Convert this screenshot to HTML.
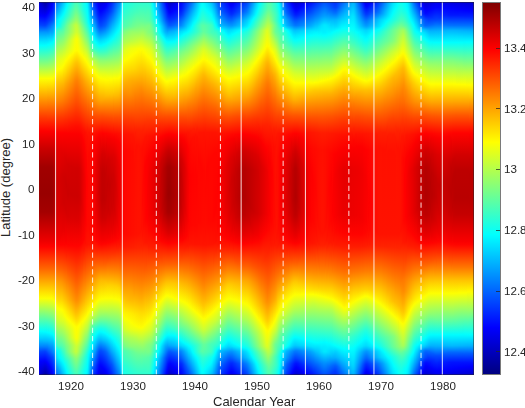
<!DOCTYPE html>
<html><head><meta charset="utf-8">
<style>
html,body{margin:0;padding:0;background:#fff;}
body{width:525px;height:408px;position:relative;overflow:hidden;font-family:"Liberation Sans",sans-serif;color:#262626;}
#plot{position:absolute;left:39.4px;top:2px;width:434.6px;height:372.8px;overflow:hidden;}
#plot i{position:absolute;top:0;height:372.8px;display:block;}
.bl{position:absolute;background:rgba(38,38,38,0.5);}
.tk{position:absolute;left:496px;width:4px;height:1px;background:rgba(38,38,38,0.75);}
.t{position:absolute;font-size:11.6px;line-height:12px;white-space:nowrap;will-change:transform;}
.yl{right:490.5px;text-align:right;}
.xl{width:60px;text-align:center;}
.cl{left:504px;}
#cb{position:absolute;left:482px;top:2px;width:18.5px;height:372.8px;box-sizing:border-box;border:1px solid #7a7a7a;
background:linear-gradient(#800000 0%,#ff0000 12.5%,#ff8000 25%,#ffff00 37.5%,#80ff80 50%,#00ffff 62.5%,#0080ff 75%,#0000ff 87.5%,#000080 100%);}
</style></head><body>
<div id="plot">
<i style="left:0px;width:1px;background:linear-gradient(#0000dc 0.0px,#0000e7 8.0px,#0002ff 13.5px,#0043ff 23.0px,#009eff 31.0px,#00eaff 40.0px,#02fffd 43.5px,#75ff8a 59.5px,#fcff03 76.5px,#ffdd00 83.5px,#ff3900 115.5px,#fe0000 129.0px,#cc0000 146.0px,#a10000 165.0px,#990000 191.3px,#a40000 209.8px,#ed0000 238.8px,#ff0300 244.8px,#ff6400 266.3px,#ffe200 290.3px,#fcff03 296.3px,#75ff8a 313.3px,#02fffd 329.3px,#00cfff 336.3px,#0084ff 344.3px,#0043ff 349.8px,#0002ff 359.3px,#0000e2 366.8px,#0000dc 372.8px)"></i>
<i style="left:1px;width:1px;background:linear-gradient(#0000d4 0.0px,#0000e5 8.0px,#0001ff 13.5px,#0042ff 23.0px,#009fff 31.0px,#00eaff 40.0px,#02fffd 43.5px,#75ff8a 59.5px,#fcff03 76.5px,#ffdd00 83.5px,#ff3900 115.5px,#fe0000 129.0px,#cc0000 146.0px,#a10000 165.0px,#990000 191.3px,#a40000 209.8px,#ed0000 238.8px,#ff0300 244.8px,#ff6400 266.3px,#ffe200 290.3px,#fcff03 296.3px,#75ff8a 313.3px,#02fffd 329.3px,#00cfff 336.3px,#008aff 343.8px,#0042ff 349.8px,#0001ff 359.3px,#0000dd 367.3px,#0000d4 372.8px)"></i>
<i style="left:2px;width:1px;background:linear-gradient(#0000c9 0.0px,#0000e5 8.5px,#0003ff 14.0px,#0045ff 23.5px,#009aff 30.5px,#00e6ff 39.5px,#02fffd 43.5px,#75ff8a 59.5px,#fcff03 76.5px,#ffdd00 83.5px,#ff3900 115.5px,#fe0000 129.0px,#cc0000 146.0px,#a10000 165.0px,#990000 191.3px,#a40000 209.8px,#ed0000 238.8px,#ff0300 244.8px,#ff6400 266.3px,#ffe200 290.3px,#fcff03 296.3px,#75ff8a 313.3px,#02fffd 329.3px,#00cfff 336.3px,#008aff 343.8px,#0041ff 349.8px,#0000ff 359.3px,#0000d5 368.3px,#0000c9 372.8px)"></i>
<i style="left:3px;width:1px;background:linear-gradient(#0000be 0.0px,#0000e9 10.0px,#0002ff 14.0px,#0044ff 23.5px,#009aff 30.5px,#00e6ff 39.5px,#02fffd 43.5px,#75ff8a 59.5px,#fcff03 76.5px,#ffdd00 83.5px,#ff3900 115.5px,#fe0000 129.0px,#cc0000 146.0px,#a10000 165.0px,#990000 191.3px,#a40000 209.8px,#ed0000 238.8px,#ff0300 244.8px,#ff6400 266.3px,#ffe200 290.3px,#fcff03 296.3px,#75ff8a 313.3px,#02fffd 329.3px,#00cfff 336.3px,#008aff 343.8px,#0044ff 349.3px,#0002ff 358.8px,#0000c2 371.3px,#0000be 372.8px)"></i>
<i style="left:4px;width:1px;background:linear-gradient(#0000b2 0.0px,#0001ff 14.0px,#0043ff 23.5px,#0095ff 30.0px,#00dfff 38.5px,#02fffd 43.5px,#75ff8a 59.5px,#fcff03 76.5px,#ffdd00 83.5px,#ff3900 115.5px,#fe0000 129.0px,#cc0000 146.0px,#a10000 165.0px,#990000 191.3px,#a40000 209.8px,#ed0000 238.8px,#ff0300 244.8px,#ff6400 266.3px,#ffe200 290.3px,#fcff03 296.3px,#71ff8e 313.8px,#00feff 329.8px,#00b6ff 339.3px,#007eff 344.8px,#0043ff 349.3px,#0001ff 358.8px,#0000b2 372.8px)"></i>
<i style="left:5px;width:1px;background:linear-gradient(#0000a9 0.0px,#0000ff 14.0px,#0042ff 23.5px,#0095ff 30.0px,#00dfff 38.5px,#02fffd 43.5px,#75ff8a 59.5px,#fcff03 76.5px,#ffdb00 84.0px,#ff3900 115.5px,#fe0000 129.0px,#cc0000 146.0px,#a10000 165.0px,#990000 191.3px,#a40000 209.8px,#ed0000 238.8px,#ff0300 244.8px,#ff6400 266.3px,#ffe200 290.3px,#fcff03 296.3px,#71ff8e 313.8px,#00feff 329.8px,#00b6ff 339.3px,#007eff 344.8px,#0042ff 349.3px,#0000ff 358.8px,#0000a9 372.8px)"></i>
<i style="left:6px;width:1px;background:linear-gradient(#0000a5 0.0px,#0002ff 14.0px,#0044ff 23.5px,#0095ff 30.0px,#00dfff 38.5px,#03fffc 43.5px,#79ff86 60.0px,#fcff03 76.5px,#ffd300 85.5px,#ff3900 115.5px,#fe0000 129.0px,#cc0000 146.0px,#a10000 165.0px,#990000 191.3px,#a40000 209.8px,#ed0000 238.8px,#ff0300 244.8px,#ff6400 266.3px,#ffe200 290.3px,#fcff03 296.3px,#36ffc9 321.8px,#00feff 329.8px,#00b7ff 339.3px,#007fff 344.8px,#0044ff 349.3px,#0002ff 358.8px,#0000a5 372.8px)"></i>
<i style="left:7px;width:1px;background:linear-gradient(#0000ab 0.0px,#0000ff 13.0px,#0045ff 23.0px,#00a0ff 31.0px,#00ebff 40.0px,#04fffb 43.5px,#7aff85 60.0px,#fcff03 76.5px,#ffc900 87.5px,#ff3900 115.5px,#fe0000 129.0px,#cc0000 146.0px,#a10000 165.0px,#990000 191.3px,#a40000 209.8px,#ed0000 238.8px,#ff0300 244.8px,#ff6400 266.3px,#ffdf00 289.8px,#fcff03 296.3px,#37ffc8 321.8px,#00fcff 330.3px,#00b7ff 339.3px,#007aff 345.3px,#0045ff 349.8px,#0000ff 359.8px,#0000ab 372.8px)"></i>
<i style="left:8px;width:1px;background:linear-gradient(#0000b7 0.0px,#0001ff 12.0px,#0040ff 21.5px,#0072ff 26.5px,#00c1ff 34.5px,#00feff 42.5px,#6fff90 58.5px,#fcff03 76.5px,#ff7700 103.0px,#ff2500 120.0px,#fc0000 129.5px,#c90000 147.0px,#a10000 165.0px,#990000 191.3px,#a40000 209.8px,#ed0000 238.8px,#ff0300 244.8px,#ff6400 266.3px,#ffda00 288.8px,#fcff03 296.3px,#35ffca 322.3px,#00feff 330.3px,#00b8ff 339.3px,#006dff 346.8px,#003cff 351.8px,#0001ff 360.8px,#0000b7 372.8px)"></i>
<i style="left:9px;width:1px;background:linear-gradient(#0000c5 0.0px,#0000ff 10.5px,#003dff 20.0px,#00dcff 37.5px,#01fffe 42.5px,#81ff7e 60.5px,#fdff02 76.5px,#ff7700 103.0px,#ff2500 120.0px,#fc0000 129.5px,#c90000 147.0px,#a10000 165.0px,#990000 191.3px,#a40000 209.8px,#ed0000 238.8px,#ff0300 244.8px,#ff6400 266.3px,#ffd200 287.3px,#fdff02 296.3px,#30ffcf 323.3px,#00fcff 330.8px,#00baff 339.3px,#0039ff 353.3px,#0000ff 362.3px,#0000c5 372.8px)"></i>
<i style="left:10px;width:1px;background:linear-gradient(#0000d3 0.0px,#0000fc 8.5px,#0039ff 18.5px,#00eeff 39.5px,#03fffc 42.5px,#87ff78 61.0px,#fdff02 76.5px,#ff7700 103.0px,#ff2500 120.0px,#fc0000 129.5px,#c90000 147.0px,#a10000 165.0px,#990000 191.3px,#a40000 209.8px,#ed0000 238.8px,#ff0300 244.8px,#ff6400 266.3px,#ffca00 285.8px,#fdff02 296.3px,#28ffd7 324.8px,#00ffff 330.8px,#00bcff 339.3px,#0031ff 355.3px,#0000fc 364.3px,#0000d3 372.8px)"></i>
<i style="left:11px;width:1px;background:linear-gradient(#0000e1 0.0px,#0003ff 8.0px,#0044ff 19.0px,#0080ff 26.0px,#00c3ff 34.0px,#00feff 41.5px,#7aff85 59.0px,#feff01 76.5px,#ff7500 103.5px,#ff2000 121.0px,#fc0000 129.5px,#c90000 147.0px,#a10000 165.0px,#990000 191.3px,#a40000 209.8px,#ed0000 238.8px,#ff0300 244.8px,#ff6400 266.3px,#ffc200 284.3px,#feff01 296.3px,#20ffdf 326.3px,#00feff 331.3px,#00beff 339.3px,#007dff 347.3px,#0032ff 356.3px,#0000fc 365.8px,#0000e1 372.8px)"></i>
<i style="left:12px;width:1px;background:linear-gradient(#0000f0 0.0px,#0002ff 6.0px,#0048ff 18.5px,#007eff 24.5px,#00a9ff 31.0px,#00f6ff 40.0px,#05fffa 42.0px,#9eff61 63.5px,#ffff00 76.5px,#ff7500 103.5px,#ff2000 121.0px,#fc0000 129.5px,#c90000 147.0px,#a10000 165.0px,#9a0000 191.3px,#a40000 209.8px,#ed0000 238.8px,#ff0300 244.8px,#ff6400 266.3px,#ffbd00 283.3px,#ffff00 296.3px,#18ffe7 327.8px,#00fdff 331.8px,#00c0ff 339.3px,#0090ff 345.3px,#006eff 350.3px,#003dff 355.8px,#0000ff 367.3px,#0000f0 372.8px)"></i>
<i style="left:13px;width:1px;background:linear-gradient(#0000fe 0.0px,#000dff 6.0px,#0051ff 18.5px,#0084ff 24.0px,#00a9ff 30.5px,#00faff 40.0px,#08fff7 42.0px,#c2ff3d 68.0px,#fffe00 76.5px,#ff7500 103.5px,#ff2000 121.0px,#fc0000 129.5px,#ca0000 147.0px,#a30000 165.0px,#9c0000 191.3px,#a60000 209.8px,#ed0000 238.8px,#ff0300 244.8px,#ff6400 266.3px,#ffb800 282.3px,#fdff02 296.8px,#12ffed 329.3px,#00fdff 332.3px,#00bfff 339.8px,#0098ff 344.8px,#007dff 349.8px,#0049ff 355.3px,#000aff 367.8px,#0000fe 372.8px)"></i>
<i style="left:14px;width:1px;background:linear-gradient(#0010ff 0.0px,#001fff 6.5px,#0060ff 18.5px,#0091ff 24.0px,#00b5ff 30.5px,#01fffe 39.5px,#fffe00 76.0px,#ffb200 91.5px,#ff3500 116.5px,#fd0000 129.5px,#ce0000 146.5px,#a90000 165.5px,#a20000 192.3px,#ac0000 210.3px,#ed0000 238.3px,#ff0200 244.3px,#ff6400 266.3px,#ffb400 281.8px,#fdff02 297.3px,#01fffe 333.3px,#00c5ff 340.3px,#00a2ff 345.3px,#0086ff 350.3px,#0059ff 355.3px,#001aff 367.8px,#0010ff 372.8px)"></i>
<i style="left:15px;width:1px;background:linear-gradient(#0029ff 0.0px,#003fff 7.0px,#0088ff 19.5px,#00b4ff 25.5px,#00e8ff 33.0px,#02fffd 36.0px,#ffff00 74.5px,#ffc600 86.0px,#ff8100 101.0px,#ff3500 116.5px,#fd0000 130.0px,#d40000 146.5px,#b40000 166.5px,#af0000 194.3px,#bb0000 212.3px,#ef0000 238.3px,#ff0300 244.3px,#ff6600 266.8px,#ffad00 280.8px,#fff600 296.8px,#fcff03 298.8px,#00fcff 337.3px,#00c0ff 345.3px,#0095ff 351.8px,#006cff 357.8px,#0036ff 367.8px,#0029ff 372.8px)"></i>
<i style="left:16px;width:1px;background:linear-gradient(#004aff 0.0px,#006aff 7.5px,#00dcff 25.5px,#00feff 29.5px,#72ff8d 47.0px,#caff35 62.5px,#fffc00 72.5px,#ffce00 82.0px,#ff8700 99.5px,#ff3c00 115.0px,#ff0000 130.0px,#dd0000 145.5px,#c30000 168.0px,#c00000 195.8px,#cd0000 215.8px,#f10000 237.8px,#ff0300 243.8px,#ff6500 266.8px,#ffa600 280.3px,#ffeb00 297.3px,#fcff03 301.3px,#7eff81 323.8px,#11ffee 340.8px,#00feff 343.3px,#00caff 349.8px,#0079ff 362.8px,#0050ff 370.8px,#004aff 372.8px)"></i>
<i style="left:17px;width:1px;background:linear-gradient(#0068ff 0.0px,#0091ff 8.0px,#00d8ff 18.0px,#00f0ff 24.0px,#00ffff 25.5px,#2bffd4 29.5px,#c1ff3e 55.0px,#fffe00 69.5px,#ffcc00 80.0px,#ff8900 98.5px,#ff3b00 115.0px,#ff0000 130.5px,#e20000 146.5px,#ce0000 173.0px,#ce0000 198.8px,#e10000 225.3px,#fd0000 241.8px,#ff2b00 253.8px,#ff7500 270.3px,#ffa500 281.3px,#ffe300 298.3px,#feff01 303.8px,#b3ff4c 320.3px,#2bffd4 343.3px,#00ffff 347.3px,#00eaff 349.8px,#00cfff 356.3px,#0088ff 366.3px,#0068ff 372.8px)"></i>
<i style="left:18px;width:1px;background:linear-gradient(#0079ff 0.0px,#00adff 9.0px,#00edff 17.5px,#02fffd 24.0px,#28ffd7 27.0px,#46ffb9 30.0px,#d7ff28 56.5px,#fffc00 68.0px,#ffc700 80.0px,#ff8700 98.5px,#ff3b00 115.0px,#fe0000 131.0px,#e40000 147.5px,#d30000 180.5px,#db0000 212.8px,#f10000 235.3px,#ff0400 243.3px,#ff6400 267.3px,#ff9d00 279.8px,#ffdd00 298.3px,#feff01 305.8px,#c9ff36 319.3px,#42ffbd 343.3px,#20ffdf 346.3px,#02fffd 348.8px,#00eaff 355.8px,#009dff 366.3px,#0079ff 372.8px)"></i>
<i style="left:19px;width:1px;background:linear-gradient(#0084ff 0.0px,#00bcff 9.5px,#00f7ff 17.5px,#03fffc 22.5px,#0efff1 24.5px,#47ffb8 29.0px,#71ff8e 36.5px,#ddff22 56.5px,#fffd00 67.0px,#ffc300 80.5px,#ff8500 98.5px,#ff3800 115.5px,#ff0000 131.0px,#e60000 147.5px,#d40000 181.0px,#dd0000 213.8px,#f40000 236.3px,#ff0200 242.8px,#ff6300 267.3px,#ff9a00 279.8px,#ffda00 298.3px,#fdff02 306.8px,#d1ff2e 318.8px,#4bffb4 343.3px,#30ffcf 345.8px,#0efff1 348.3px,#01fffe 351.3px,#00f4ff 355.8px,#00a5ff 366.8px,#0084ff 372.8px)"></i>
<i style="left:20px;width:1px;background:linear-gradient(#008eff 0.0px,#00c8ff 10.0px,#00feff 17.5px,#11ffee 24.0px,#4bffb4 29.0px,#dfff20 56.5px,#fffc00 67.0px,#ffc000 81.0px,#ff8100 99.0px,#ff3800 115.5px,#ff0000 131.0px,#e50000 148.0px,#d40000 179.0px,#d90000 208.8px,#f20000 235.3px,#ff0200 242.8px,#ff6100 267.3px,#ff9900 279.8px,#ffd900 298.3px,#ffff00 306.8px,#d4ff2b 318.8px,#4bffb4 343.8px,#11ffee 348.8px,#00feff 355.3px,#009fff 369.3px,#008eff 372.8px)"></i>
<i style="left:21px;width:1px;background:linear-gradient(#009aff 0.0px,#00dcff 11.5px,#01fffe 16.5px,#1bffe4 24.0px,#52ffad 29.5px,#e3ff1c 57.0px,#fffd00 66.5px,#ffbd00 81.5px,#ff7d00 99.5px,#ff3500 116.0px,#ff0000 131.0px,#e50000 148.5px,#d30000 177.0px,#d60000 204.8px,#f00000 233.8px,#ff0200 242.8px,#ff6000 267.3px,#ff9900 280.3px,#ffd800 298.3px,#feff01 307.3px,#d8ff27 318.3px,#4effb1 343.8px,#1bffe4 348.8px,#00fcff 356.8px,#00b4ff 367.8px,#009aff 372.8px)"></i>
<i style="left:22px;width:1px;background:linear-gradient(#00a7ff 0.0px,#00f0ff 13.0px,#02fffd 15.5px,#1affe5 20.5px,#2bffd4 24.5px,#58ffa7 30.0px,#e5ff1a 57.0px,#fffd00 66.0px,#ffb900 82.0px,#ff7b00 99.5px,#ff3400 116.0px,#ff0000 131.0px,#e40000 149.0px,#d20000 175.5px,#d40000 202.3px,#ed0000 231.3px,#ff0200 242.8px,#ff5f00 267.3px,#ff9700 280.3px,#ffd700 298.3px,#feff01 307.8px,#daff25 318.3px,#4effb1 344.3px,#25ffda 349.3px,#05fffa 356.8px,#00f7ff 358.8px,#00a9ff 372.3px,#00a7ff 372.8px)"></i>
<i style="left:23px;width:1px;background:linear-gradient(#00b5ff 0.0px,#01fffe 14.0px,#25ffda 20.5px,#3fffc0 25.5px,#68ff97 32.0px,#eaff15 57.5px,#fffd00 65.0px,#ffb300 83.0px,#ff7700 100.0px,#ff3000 117.0px,#ff0000 131.0px,#e30000 150.0px,#d10000 174.5px,#d20000 200.8px,#e80000 227.3px,#ff0200 242.8px,#ff5d00 267.3px,#ff9400 280.3px,#ffd400 298.3px,#fffe00 308.3px,#deff21 318.3px,#4effb1 345.3px,#2dffd2 350.3px,#0bfff4 357.3px,#00fdff 359.3px,#00b5ff 372.8px)"></i>
<i style="left:24px;width:1px;background:linear-gradient(#00c3ff 0.0px,#01fffe 12.5px,#3affc5 22.5px,#e7ff18 55.5px,#fffd00 63.5px,#ffd600 73.0px,#ffa600 86.0px,#ff7200 100.5px,#ff2d00 117.5px,#fe0000 131.0px,#e10000 152.0px,#d00000 174.5px,#d10000 201.3px,#e70000 226.3px,#ff0200 242.8px,#ff5b00 267.3px,#ff9200 280.8px,#ffcf00 298.3px,#fffb00 308.8px,#f0ff0f 314.8px,#76ff89 339.3px,#0afff5 358.8px,#00fbff 361.3px,#00c3ff 372.8px)"></i>
<i style="left:25px;width:1px;background:linear-gradient(#00d1ff 0.0px,#01fffe 10.5px,#5bffa4 26.5px,#f5ff0a 58.0px,#fffc00 62.0px,#ffd900 71.5px,#ffad00 82.5px,#ff7100 100.0px,#ff2c00 117.5px,#fe0000 131.0px,#de0000 154.0px,#cf0000 175.5px,#d10000 202.3px,#ea0000 228.8px,#ff0300 243.3px,#ff5b00 267.8px,#ff9000 281.3px,#ffca00 298.3px,#fff600 308.8px,#fcff03 312.8px,#d7ff28 321.3px,#30ffcf 354.3px,#00feff 362.8px,#00d1ff 372.8px)"></i>
<i style="left:26px;width:1px;background:linear-gradient(#00dfff 0.0px,#02fffd 8.0px,#27ffd8 15.5px,#5fffa0 24.5px,#86ff79 33.5px,#feff01 59.0px,#ffda00 70.0px,#ffad00 81.0px,#ff6e00 100.0px,#ff2a00 117.5px,#fe0000 131.0px,#db0000 156.5px,#cd0000 179.0px,#d30000 207.3px,#fb0000 240.3px,#ff0900 245.3px,#ff5d00 268.8px,#ff8e00 281.8px,#ffc500 298.3px,#fff100 308.8px,#fcff03 314.3px,#81ff7e 340.3px,#4fffb0 351.3px,#0efff1 361.8px,#00fcff 365.8px,#00dfff 372.8px)"></i>
<i style="left:27px;width:1px;background:linear-gradient(#00edff 0.0px,#03fffc 5.5px,#2bffd4 14.5px,#6aff95 24.0px,#84ff7b 31.5px,#b3ff4c 41.0px,#e4ff1b 52.0px,#fffe00 58.0px,#ffd200 70.5px,#ffa800 81.0px,#ff6b00 100.0px,#ff2800 118.0px,#fe0000 131.0px,#d90000 158.0px,#cc0000 182.5px,#d50000 210.8px,#fd0000 241.3px,#ff2400 253.8px,#ff6700 271.8px,#ff9c00 287.8px,#ffc400 299.3px,#ffed00 309.3px,#fcff03 315.8px,#b9ff46 330.3px,#8fff70 339.3px,#72ff8d 345.8px,#5fffa0 350.8px,#1fffe0 360.3px,#00fcff 368.8px,#00edff 372.8px)"></i>
<i style="left:28px;width:1px;background:linear-gradient(#00f8ff 0.0px,#04fffb 3.0px,#31ffce 14.0px,#67ff98 21.5px,#78ff87 25.0px,#89ff76 31.0px,#b8ff47 40.0px,#e1ff1e 50.5px,#fffd00 57.0px,#ffca00 71.0px,#ffa300 81.0px,#ff6800 100.0px,#ff2500 118.5px,#fd0000 131.5px,#d50000 162.5px,#cc0000 190.8px,#d90000 214.8px,#ff0300 243.3px,#ff5500 268.3px,#ff8800 282.3px,#ffba00 298.3px,#ffe700 309.3px,#fdff02 316.8px,#c5ff3a 328.8px,#a3ff5c 337.3px,#7fff80 344.3px,#71ff8e 349.8px,#31ffce 358.8px,#00fdff 371.3px,#00f8ff 372.8px)"></i>
<i style="left:29px;width:1px;background:linear-gradient(#04fffb 0.0px,#3bffc4 14.0px,#65ff9a 20.0px,#7fff80 23.5px,#8fff70 30.5px,#bdff42 39.0px,#e4ff1b 50.0px,#fffe00 55.5px,#ffc300 71.5px,#ff9d00 81.5px,#ff6300 100.5px,#ff2000 119.5px,#fd0000 131.5px,#d40000 163.0px,#cc0000 191.3px,#d90000 214.8px,#ff0300 243.3px,#ff5300 268.3px,#ff8400 282.3px,#ffb500 298.3px,#ffe400 309.8px,#feff01 317.8px,#cfff30 327.8px,#afff50 336.8px,#89ff76 343.8px,#7cff83 349.8px,#3effc1 358.3px,#07fff8 371.8px,#04fffb 372.8px)"></i>
<i style="left:30px;width:1px;background:linear-gradient(#0dfff2 0.0px,#45ffba 14.0px,#6bff94 19.5px,#89ff76 23.5px,#98ff67 30.5px,#c5ff3a 39.0px,#e7ff18 49.5px,#fffe00 54.5px,#ffbb00 72.0px,#ff9800 81.5px,#ff6000 100.5px,#ff1c00 120.5px,#fd0000 131.5px,#d40000 163.5px,#cd0000 191.8px,#da0000 215.3px,#ff0300 243.3px,#ff5000 268.3px,#ff8100 282.8px,#ffaf00 298.3px,#ffde00 309.8px,#feff01 318.8px,#d7ff28 327.3px,#bbff44 336.3px,#92ff6d 343.8px,#87ff78 349.8px,#4effb1 357.3px,#28ffd7 365.8px,#0dfff2 372.8px)"></i>
<i style="left:31px;width:1px;background:linear-gradient(#16ffe9 0.0px,#52ffad 14.5px,#74ff8b 19.5px,#91ff6e 23.0px,#a1ff5e 30.5px,#ccff33 38.5px,#e9ff16 49.0px,#fffe00 53.5px,#ffda00 62.5px,#ff9600 80.5px,#ff5d00 100.5px,#ff1a00 121.0px,#fd0000 131.5px,#d40000 164.0px,#cd0000 192.3px,#da0000 215.3px,#ff0200 243.3px,#ff5000 268.8px,#ff7f00 283.3px,#ffaa00 298.3px,#ffda00 310.3px,#feff01 319.8px,#ddff22 327.3px,#c4ff3b 336.3px,#9dff62 343.3px,#91ff6e 349.8px,#5affa5 356.8px,#2dffd2 366.8px,#16ffe9 372.8px)"></i>
<i style="left:32px;width:1px;background:linear-gradient(#1fffe0 0.0px,#5cffa3 14.5px,#7eff81 19.5px,#9bff64 23.0px,#a9ff56 30.5px,#d4ff2b 38.0px,#eeff11 49.0px,#fffb00 53.0px,#ffd800 61.5px,#ffab00 73.0px,#ff8c00 82.5px,#ff5800 101.0px,#ff1300 123.0px,#fd0000 131.5px,#d30000 164.5px,#cd0000 192.8px,#db0000 215.8px,#ff0200 243.3px,#ff4d00 268.8px,#ff7c00 283.8px,#ffa500 298.3px,#ffd500 310.3px,#fff900 319.3px,#f8ff07 321.8px,#e1ff1e 328.3px,#d0ff2f 335.8px,#a5ff5a 343.3px,#9bff64 349.8px,#64ff9b 356.8px,#28ffd7 370.3px,#1fffe0 372.8px)"></i>
<i style="left:33px;width:1px;background:linear-gradient(#28ffd7 0.0px,#65ff9a 14.5px,#87ff78 19.5px,#a5ff5a 23.0px,#b2ff4d 30.5px,#ddff22 38.0px,#f3ff0c 49.0px,#fffc00 52.0px,#ffd600 60.5px,#ffa800 72.5px,#ff8a00 81.5px,#ff5700 100.5px,#ff1400 122.5px,#fd0000 131.5px,#d30000 165.0px,#cd0000 193.3px,#db0000 215.8px,#ff0200 243.3px,#ff4b00 268.8px,#ff7900 284.3px,#ff9f00 298.3px,#ffd100 310.8px,#fff400 319.3px,#fdff02 321.8px,#e8ff17 327.8px,#d9ff26 335.8px,#aeff51 343.3px,#a5ff5a 349.8px,#70ff8f 356.3px,#2dffd2 371.3px,#28ffd7 372.8px)"></i>
<i style="left:34px;width:1px;background:linear-gradient(#31ffce 0.0px,#6aff95 13.5px,#8cff73 19.0px,#afff50 23.0px,#b9ff46 30.0px,#e4ff1b 37.5px,#f8ff07 49.0px,#fffc00 51.0px,#ffd400 59.5px,#ffa300 72.5px,#ff8500 81.5px,#ff5400 100.5px,#ff1200 123.0px,#fd0000 131.5px,#d30000 165.0px,#cd0000 193.3px,#db0000 215.8px,#ff0300 243.8px,#ff4a00 269.3px,#ff7900 285.8px,#ff9a00 298.3px,#ffcd00 311.3px,#ffef00 319.3px,#fdff02 322.8px,#eeff11 328.8px,#e2ff1d 335.8px,#b7ff48 343.3px,#afff50 349.8px,#7aff85 356.3px,#34ffcb 371.8px,#31ffce 372.8px)"></i>
<i style="left:35px;width:1px;background:linear-gradient(#3affc5 0.0px,#6aff95 11.5px,#90ff6f 18.5px,#b8ff47 23.0px,#bdff42 27.5px,#c7ff38 31.0px,#edff12 37.5px,#fdff02 49.0px,#ffcb00 60.5px,#ff8600 79.0px,#ff5100 100.5px,#ff1000 123.5px,#fd0000 131.5px,#d30000 165.5px,#cd0000 193.8px,#db0000 216.3px,#ff0300 243.8px,#ff4900 269.8px,#ff7700 286.8px,#ff9500 298.3px,#ffcb00 312.3px,#fff000 320.3px,#fdff02 323.8px,#f2ff0d 331.8px,#e7ff18 336.8px,#c0ff3f 343.3px,#b8ff47 349.8px,#83ff7c 356.3px,#3cffc3 371.8px,#3affc5 372.8px)"></i>
<i style="left:36px;width:1px;background:linear-gradient(#40ffbf 0.0px,#6aff95 10.0px,#97ff68 18.5px,#bfff40 23.0px,#caff35 30.0px,#f3ff0c 37.0px,#fffd00 49.0px,#ffc900 60.0px,#ff8200 79.0px,#ff4e00 100.5px,#ff0e00 124.0px,#fc0000 132.0px,#d20000 166.5px,#cd0000 194.3px,#db0000 216.3px,#ff0300 243.8px,#ff4600 269.8px,#ff7400 287.3px,#ff9000 298.3px,#ffca00 313.3px,#feff01 324.8px,#f3ff0c 335.8px,#c6ff39 343.8px,#bfff40 349.8px,#89ff76 356.3px,#44ffbb 371.3px,#40ffbf 372.8px)"></i>
<i style="left:37px;width:1px;background:linear-gradient(#42ffbd 0.0px,#66ff99 9.0px,#98ff67 18.5px,#bfff40 23.0px,#ceff31 30.0px,#f7ff08 37.0px,#fffc00 48.5px,#ffc500 60.5px,#ff8000 79.0px,#ff4d00 100.5px,#ff0d00 124.5px,#fc0000 132.0px,#d20000 166.5px,#cd0000 194.3px,#db0000 216.3px,#ff0300 243.8px,#ff4500 269.8px,#ff7400 287.8px,#ff8e00 298.3px,#ffde00 318.3px,#fffd00 324.8px,#f7ff08 335.8px,#c9ff36 344.3px,#bfff40 349.8px,#8bff74 356.3px,#48ffb7 370.8px,#42ffbd 372.8px)"></i>
<i style="left:38px;width:1px;background:linear-gradient(#3fffc0 0.0px,#5fffa0 8.5px,#93ff6c 18.5px,#baff45 23.5px,#ceff31 30.5px,#f4ff0b 37.0px,#fffd00 48.5px,#ffc600 60.5px,#ff8200 78.5px,#ff4e00 100.5px,#ff0d00 124.5px,#fc0000 132.0px,#d20000 166.5px,#cd0000 194.8px,#dc0000 216.8px,#ff0300 243.8px,#ff4600 269.8px,#ff7400 287.8px,#ff8f00 298.3px,#ffe200 318.8px,#ffff00 324.8px,#f2ff0d 336.3px,#c5ff3a 344.3px,#b7ff48 349.8px,#86ff79 356.3px,#46ffb9 370.3px,#3fffc0 372.8px)"></i>
<i style="left:39px;width:1px;background:linear-gradient(#39ffc6 0.0px,#56ffa9 8.5px,#8cff73 19.0px,#b0ff4f 24.0px,#c5ff3a 30.5px,#ebff14 37.0px,#fffd00 49.5px,#ffcc00 60.0px,#ff8500 79.0px,#ff5100 100.0px,#ff1000 123.5px,#fc0000 132.0px,#d30000 166.5px,#ce0000 194.8px,#dc0000 216.8px,#ff0300 243.8px,#ff4800 269.8px,#ff7800 287.8px,#ff9400 298.8px,#ffe600 318.8px,#ffff00 323.8px,#f1ff0e 332.8px,#e4ff1b 337.3px,#baff45 344.8px,#abff54 349.8px,#7cff83 356.3px,#40ffbf 369.8px,#39ffc6 372.8px)"></i>
<i style="left:40px;width:1px;background:linear-gradient(#31ffce 0.0px,#49ffb6 8.0px,#7eff81 19.0px,#a2ff5d 24.0px,#baff45 30.5px,#e1ff1e 37.5px,#f9ff06 49.0px,#fff900 51.5px,#ffcd00 61.0px,#ff8a00 79.0px,#ff5500 100.0px,#ff1200 123.0px,#fd0000 132.0px,#d50000 166.5px,#d00000 195.3px,#df0000 217.3px,#ff0300 243.3px,#ff4900 269.3px,#ff7b00 287.3px,#ff9a00 298.8px,#ffee00 319.3px,#feff01 322.8px,#ecff13 329.3px,#ddff22 336.3px,#acff53 345.3px,#99ff66 350.3px,#70ff8f 356.3px,#37ffc8 369.8px,#31ffce 372.8px)"></i>
<i style="left:41px;width:1px;background:linear-gradient(#29ffd6 0.0px,#3fffc0 8.0px,#71ff8e 19.0px,#96ff69 24.5px,#b0ff4f 31.0px,#d6ff29 38.0px,#f6ff09 49.5px,#fffc00 52.0px,#ffd000 62.0px,#ff8f00 79.0px,#ff5600 100.5px,#ff1000 124.5px,#fd0000 133.0px,#d80000 167.5px,#d50000 197.3px,#e40000 219.3px,#ff0200 242.3px,#ff4a00 268.8px,#ff8000 287.3px,#ff9f00 298.8px,#fff400 319.3px,#fdff02 321.8px,#e4ff1b 328.8px,#d0ff2f 336.3px,#9fff60 345.3px,#8bff74 350.3px,#63ff9c 356.3px,#2effd1 369.8px,#29ffd6 372.8px)"></i>
<i style="left:42px;width:1px;background:linear-gradient(#21ffde 0.0px,#35ffca 8.0px,#63ff9c 19.0px,#87ff78 24.5px,#a6ff59 31.5px,#ceff31 39.0px,#f0ff0f 49.5px,#fffc00 53.0px,#ffc500 66.5px,#ff9500 79.0px,#ff5a00 100.5px,#ff1100 125.0px,#fd0000 134.0px,#dd0000 168.5px,#dc0000 199.8px,#ee0000 224.3px,#ff0200 241.3px,#ff4c00 268.3px,#ff8600 287.8px,#ffa700 299.3px,#fffc00 319.8px,#d9ff26 329.8px,#c1ff3e 336.8px,#92ff6d 345.3px,#7dff82 350.3px,#56ffa9 356.3px,#26ffd9 369.3px,#21ffde 372.8px)"></i>
<i style="left:43px;width:1px;background:linear-gradient(#19ffe6 0.0px,#28ffd7 7.5px,#56ffa9 19.0px,#7bff84 25.0px,#9cff63 32.0px,#c4ff3b 39.5px,#f1ff0e 51.0px,#fffd00 54.0px,#ff9b00 78.5px,#ff5c00 101.0px,#ff1000 126.5px,#fe0000 136.0px,#e30000 170.5px,#e40000 205.3px,#ff0300 240.3px,#ff3e00 262.8px,#ff8a00 287.3px,#ffad00 299.3px,#feff01 319.3px,#d2ff2d 329.3px,#b1ff4e 337.3px,#82ff7d 345.8px,#6bff94 350.8px,#4cffb3 355.8px,#1dffe2 369.3px,#19ffe6 372.8px)"></i>
<i style="left:44px;width:1px;background:linear-gradient(#11ffee 0.0px,#1effe1 7.5px,#4bffb4 19.5px,#6fff90 25.5px,#95ff6a 33.0px,#c1ff3e 41.5px,#fffc00 55.5px,#ffa000 79.0px,#ff5d00 101.5px,#ff0f00 128.0px,#fe0000 139.0px,#e90000 172.5px,#ec0000 209.8px,#ff0300 238.3px,#ff1c00 249.8px,#ff6600 273.8px,#ffb300 299.3px,#fdff02 318.3px,#9eff61 338.3px,#73ff8c 346.3px,#59ffa6 351.3px,#3dffc2 356.3px,#14ffeb 369.3px,#11ffee 372.8px)"></i>
<i style="left:45px;width:1px;background:linear-gradient(#09fff6 0.0px,#15ffea 7.5px,#3dffc2 19.5px,#65ff9a 26.5px,#c5ff3a 44.5px,#fffe00 56.5px,#ffa400 79.5px,#ff5f00 102.0px,#ff0d00 129.5px,#fe0000 144.0px,#ef0000 175.5px,#f40000 214.3px,#ff0400 236.3px,#ff1600 246.8px,#ff6600 272.8px,#ffba00 299.8px,#feff01 316.8px,#91ff6e 338.3px,#61ff9e 347.3px,#32ffcd 355.8px,#0cfff3 369.3px,#09fff6 372.8px)"></i>
<i style="left:46px;width:1px;background:linear-gradient(#02fffd 0.0px,#0ffff0 8.0px,#2fffd0 19.5px,#e4ff1b 52.0px,#fffd00 58.0px,#ffa800 80.0px,#ff5d00 103.5px,#ff0e00 130.5px,#fe0000 152.0px,#f50000 184.5px,#fc0000 218.8px,#ff0c00 241.3px,#ff4c00 264.3px,#ffa200 290.8px,#ffcb00 302.3px,#fcff03 315.8px,#8aff75 337.3px,#29ffd6 354.8px,#04fffb 370.3px,#02fffd 372.8px)"></i>
<i style="left:47px;width:1px;background:linear-gradient(#00f9ff 0.0px,#04fffb 6.5px,#19ffe6 16.5px,#2bffd4 21.5px,#e2ff1d 53.0px,#fffd00 59.5px,#ffad00 80.0px,#ff5b00 105.0px,#ff1000 130.5px,#fe0000 160.5px,#ff0300 221.8px,#ff1100 242.8px,#ff6600 270.8px,#ffca00 300.8px,#fcff03 314.3px,#aeff51 329.3px,#21ffde 353.3px,#00fdff 369.8px,#00f9ff 372.8px)"></i>
<i style="left:48px;width:1px;background:linear-gradient(#00ebff 0.0px,#03fffc 10.5px,#13ffec 20.0px,#3effc1 27.5px,#e6ff19 55.5px,#fffc00 61.5px,#ffb200 80.0px,#ff1b00 126.5px,#ff0d00 135.0px,#ff0200 178.0px,#ff0700 223.3px,#ff1200 242.8px,#ff6900 270.8px,#ffd200 301.3px,#feff01 312.3px,#b9ff46 325.3px,#18ffe7 351.8px,#0afff5 357.3px,#00fcff 364.8px,#00ebff 372.8px)"></i>
<i style="left:49px;width:1px;background:linear-gradient(#00d2ff 0.0px,#00f6ff 15.0px,#02fffd 20.0px,#2affd5 27.0px,#9eff61 46.0px,#eeff11 59.0px,#fffd00 63.0px,#ffb700 80.0px,#ff5c00 106.5px,#ff1300 130.5px,#ff0600 155.0px,#ff0700 221.8px,#ff1300 242.3px,#ff6900 269.8px,#ffd700 301.3px,#fdff02 310.8px,#c5ff3a 320.8px,#53ffac 338.8px,#04fffb 352.3px,#00f7ff 356.8px,#00dbff 369.3px,#00d2ff 372.8px)"></i>
<i style="left:50px;width:1px;background:linear-gradient(#00b1ff 0.0px,#00f4ff 21.0px,#02fffd 23.5px,#44ffbb 35.0px,#95ff6a 48.0px,#e1ff1e 58.5px,#fffd00 64.5px,#ffbe00 79.5px,#ff6900 104.0px,#ff1300 130.5px,#ff0700 150.5px,#ff0800 226.8px,#ff1400 242.8px,#ff6c00 269.8px,#ffdd00 301.3px,#fcff03 309.3px,#c7ff38 318.3px,#70ff8f 330.3px,#00feff 349.8px,#00e2ff 356.8px,#00b1ff 372.8px)"></i>
<i style="left:51px;width:1px;background:linear-gradient(#008dff 0.0px,#00e0ff 20.5px,#01fffe 26.0px,#62ff9d 44.0px,#98ff67 51.0px,#d3ff2c 58.0px,#ffff00 65.5px,#ffc300 79.5px,#ff7200 102.5px,#ff1700 129.0px,#ff0800 142.0px,#ff0500 219.8px,#ff1000 240.3px,#ff2b00 250.3px,#ff7c00 272.8px,#ffe200 301.3px,#fcff03 307.8px,#c4ff3b 316.8px,#6fff90 326.8px,#2dffd2 338.3px,#00fdff 347.3px,#00cbff 356.8px,#008dff 372.8px)"></i>
<i style="left:52px;width:1px;background:linear-gradient(#006aff 0.0px,#00c2ff 18.5px,#02fffd 29.5px,#45ffba 43.0px,#71ff8e 49.0px,#c4ff3b 57.5px,#feff01 66.5px,#ffc000 81.5px,#ff7700 102.0px,#ff1b00 127.5px,#ff0a00 137.0px,#ff0300 162.0px,#ff0700 231.3px,#ff1600 243.8px,#ff7300 269.8px,#ffb600 288.3px,#ffef00 302.8px,#feff01 306.3px,#c0ff3f 315.8px,#60ff9f 325.8px,#25ffda 335.8px,#00fcff 344.3px,#009eff 361.3px,#006aff 372.8px)"></i>
<i style="left:53px;width:1px;background:linear-gradient(#004dff 0.0px,#009fff 16.0px,#00efff 29.5px,#02fffd 33.5px,#3fffc0 45.0px,#6aff95 50.0px,#b5ff4a 57.0px,#f1ff0e 65.5px,#fffc00 68.5px,#ffc200 82.5px,#ff7f00 101.0px,#ff3700 119.5px,#ff1000 131.5px,#ff0100 149.0px,#ff0300 229.3px,#ff1400 243.3px,#ff7100 268.8px,#ffaa00 283.3px,#ffeb00 300.8px,#fdff02 305.3px,#c2ff3d 314.3px,#8cff73 319.8px,#51ffae 325.3px,#1fffe0 333.3px,#00fdff 340.3px,#00c5ff 350.8px,#007dff 362.8px,#004dff 372.8px)"></i>
<i style="left:54px;width:1px;background:linear-gradient(#0037ff 0.0px,#0084ff 15.0px,#00e0ff 30.0px,#02fffd 36.5px,#3dffc2 46.5px,#6fff90 51.5px,#b0ff4f 57.5px,#f0ff0f 66.5px,#fffd00 69.5px,#ffc400 83.0px,#ff8500 100.5px,#ff3e00 117.5px,#ff0e00 131.5px,#fe0000 145.5px,#f70000 193.3px,#ff0300 232.8px,#ff1600 244.3px,#ff7400 268.8px,#ffa800 281.3px,#ffea00 299.3px,#fbff04 304.3px,#c1ff3e 313.3px,#8dff72 318.8px,#45ffba 325.3px,#14ffeb 332.8px,#00fcff 337.3px,#00b8ff 349.8px,#0068ff 362.8px,#0037ff 372.8px)"></i>
<i style="left:55px;width:1px;background:linear-gradient(#0027ff 0.0px,#006eff 14.5px,#00f0ff 35.5px,#02fffd 38.5px,#38ffc7 47.0px,#73ff8c 52.5px,#adff52 58.0px,#ecff13 67.0px,#fffc00 71.0px,#ffc400 84.5px,#ff8b00 100.0px,#ff4400 116.0px,#ff0d00 131.5px,#fc0000 142.5px,#f00000 175.0px,#f60000 219.8px,#ff0400 235.8px,#ff1800 245.3px,#ff7700 268.8px,#ffa900 280.3px,#ffeb00 298.3px,#fdff02 302.8px,#bdff42 312.8px,#8bff74 318.3px,#3dffc2 325.3px,#08fff7 333.3px,#00fbff 335.3px,#0084ff 354.8px,#0050ff 363.8px,#0027ff 372.8px)"></i>
<i style="left:56px;width:1px;background:linear-gradient(#001aff 0.0px,#0058ff 14.0px,#00b6ff 28.5px,#03fffc 40.0px,#36ffc9 47.5px,#a1ff5e 57.5px,#e5ff1a 67.0px,#fffd00 72.0px,#ffc800 84.5px,#ff9100 99.5px,#ff4900 115.0px,#ff0c00 131.0px,#fc0000 139.5px,#ea0000 167.5px,#ec0000 211.3px,#ff0300 237.3px,#ff1b00 246.3px,#ff7a00 268.8px,#ffab00 279.8px,#ffec00 297.3px,#fcff03 301.8px,#b5ff4a 312.8px,#84ff7b 318.3px,#36ffc9 325.3px,#00feff 333.3px,#0062ff 357.3px,#0035ff 366.3px,#001aff 372.8px)"></i>
<i style="left:57px;width:1px;background:linear-gradient(#000dff 0.0px,#0041ff 13.0px,#008dff 25.5px,#00fdff 40.5px,#2cffd3 47.0px,#9aff65 57.5px,#e0ff1f 67.5px,#fffe00 73.0px,#ffc900 85.5px,#ff9700 99.0px,#ff4c00 114.5px,#ff0a00 131.0px,#fc0000 138.0px,#e50000 164.5px,#e40000 204.3px,#f80000 231.8px,#ff0400 239.3px,#ff2400 248.8px,#ff7d00 268.8px,#ffac00 278.8px,#ffef00 296.8px,#fdff02 300.3px,#b2ff4d 312.3px,#7dff82 318.3px,#2cffd3 325.8px,#00fdff 332.3px,#0072ff 351.3px,#0030ff 363.3px,#000dff 372.8px)"></i>
<i style="left:58px;width:1px;background:linear-gradient(#0001ff 0.0px,#002aff 12.0px,#0072ff 24.5px,#00f2ff 40.0px,#04fffb 42.5px,#39ffc6 49.0px,#93ff6c 57.5px,#e0ff1f 68.5px,#fffe00 74.0px,#ffca00 86.5px,#ff9b00 99.0px,#ff4f00 114.0px,#ff0900 131.0px,#fb0000 136.5px,#e00000 161.5px,#db0000 196.3px,#e80000 220.3px,#ff0200 239.3px,#ff2300 248.8px,#ff7d00 268.3px,#ffaf00 278.3px,#fff200 296.3px,#fdff02 299.3px,#a7ff58 312.8px,#71ff8e 318.8px,#22ffdd 326.3px,#00fdff 331.3px,#009dff 343.3px,#0064ff 350.3px,#0020ff 363.3px,#0001ff 372.8px)"></i>
<i style="left:59px;width:1px;background:linear-gradient(#0000f4 0.0px,#0003ff 5.5px,#0028ff 14.5px,#0060ff 24.5px,#00e8ff 39.5px,#02fffd 43.0px,#3affc5 49.5px,#8cff73 57.5px,#e0ff1f 69.5px,#fffe00 75.0px,#ffc700 88.5px,#ffa100 98.5px,#ff5200 113.5px,#ff0700 131.0px,#fb0000 135.5px,#dc0000 159.5px,#d30000 189.8px,#de0000 215.3px,#fc0000 237.8px,#ff0c00 243.3px,#ff7400 266.3px,#ffb100 277.8px,#fff400 295.8px,#fdff02 298.3px,#a0ff5f 312.8px,#6bff94 318.8px,#1dffe2 326.3px,#00fdff 330.3px,#00b4ff 339.3px,#0059ff 349.3px,#0013ff 362.8px,#0000fc 369.3px,#0000f4 372.8px)"></i>
<i style="left:60px;width:1px;background:linear-gradient(#0000ec 0.0px,#0003ff 8.5px,#003eff 21.0px,#005dff 25.5px,#00dbff 38.5px,#02fffd 43.5px,#3bffc4 50.0px,#87ff78 57.5px,#e1ff1e 70.5px,#fffd00 76.0px,#ffc400 90.5px,#ffa100 99.0px,#ff5200 113.5px,#ff0500 131.0px,#f90000 135.5px,#d60000 160.0px,#cc0000 188.3px,#d70000 213.8px,#f90000 237.3px,#ff0500 241.8px,#ff5e00 261.8px,#ffb400 277.8px,#fff800 295.8px,#fcff03 297.8px,#97ff68 313.3px,#5bffa4 319.8px,#15ffea 326.8px,#00fdff 329.8px,#00bcff 337.8px,#004dff 349.3px,#0006ff 363.3px,#0000fa 366.8px,#0000ec 372.8px)"></i>
<i style="left:61px;width:1px;background:linear-gradient(#0000e8 0.0px,#0003ff 9.5px,#004cff 24.0px,#00deff 39.0px,#01fffe 43.5px,#3affc5 50.0px,#88ff77 58.0px,#ebff14 72.5px,#fffd00 76.5px,#ffa500 98.5px,#ff5200 113.5px,#ff0400 131.0px,#ed0000 140.0px,#cb0000 165.5px,#c70000 195.3px,#d30000 215.3px,#f90000 238.3px,#ff0500 242.3px,#ff6b00 264.3px,#ffb600 277.8px,#fcff03 297.3px,#98ff67 312.8px,#5fffa0 319.3px,#14ffeb 326.8px,#00fcff 329.8px,#00baff 337.8px,#004cff 348.8px,#0003ff 363.3px,#0000e8 372.8px)"></i>
<i style="left:62px;width:1px;background:linear-gradient(#0000e8 0.0px,#0003ff 9.0px,#004eff 24.0px,#00dcff 38.5px,#02fffd 43.5px,#3affc5 50.0px,#88ff77 58.0px,#eaff15 72.5px,#fffe00 76.5px,#ffa600 98.5px,#ff5100 113.5px,#ff0300 131.0px,#d70000 152.5px,#c50000 170.5px,#c30000 198.3px,#d10000 216.3px,#f70000 238.3px,#ff0400 242.3px,#ff6b00 264.3px,#ffb700 277.8px,#fdff02 296.8px,#a2ff5d 311.3px,#63ff9c 318.8px,#15ffea 326.8px,#00fdff 329.8px,#00bcff 337.8px,#004eff 348.8px,#0001ff 364.3px,#0000e8 372.8px)"></i>
<i style="left:63px;width:1px;background:linear-gradient(#0000e9 0.0px,#0002ff 8.0px,#0052ff 24.0px,#00dbff 38.0px,#01fffe 43.0px,#3bffc4 50.0px,#87ff78 58.0px,#e3ff1c 71.5px,#fffd00 77.0px,#ffa800 98.0px,#ff5100 113.5px,#ff0200 131.0px,#d60000 152.0px,#c30000 170.0px,#c10000 197.3px,#ce0000 215.3px,#f60000 237.8px,#ff0400 242.3px,#ff6b00 264.3px,#ffb900 278.3px,#fdff02 296.8px,#a5ff5a 310.8px,#68ff97 318.3px,#17ffe8 326.8px,#00fcff 330.3px,#00c0ff 337.8px,#004fff 349.3px,#0000ff 365.3px,#0000e9 372.8px)"></i>
<i style="left:64px;width:1px;background:linear-gradient(#0000eb 0.0px,#0002ff 7.0px,#0058ff 24.0px,#00deff 38.0px,#00ffff 42.5px,#37ffc8 49.5px,#8bff74 58.5px,#e6ff19 72.0px,#fffd00 77.0px,#ffad00 97.0px,#ff4f00 114.0px,#ff0100 131.5px,#d90000 150.5px,#c40000 169.0px,#c10000 196.3px,#cf0000 215.3px,#f60000 237.8px,#ff0300 241.8px,#ff6000 262.3px,#ffbb00 278.8px,#fcff03 296.8px,#a9ff56 310.3px,#69ff96 318.3px,#19ffe6 326.8px,#00ffff 330.3px,#00c4ff 337.8px,#0054ff 349.3px,#0000ff 366.3px,#0000eb 372.8px)"></i>
<i style="left:65px;width:1px;background:linear-gradient(#0000ed 0.0px,#0002ff 6.0px,#005dff 24.0px,#00deff 37.5px,#03fffc 42.5px,#39ffc6 49.5px,#8bff74 58.5px,#e3ff1c 71.5px,#fffe00 77.0px,#ffb200 96.0px,#ff4d00 114.5px,#ff0200 131.5px,#d70000 152.0px,#c40000 170.0px,#c20000 197.3px,#d00000 215.8px,#f70000 237.8px,#ff0400 241.8px,#ff6100 262.3px,#ffc000 279.8px,#fdff02 296.3px,#b3ff4c 308.8px,#6eff91 317.8px,#1bffe4 326.8px,#00feff 330.8px,#00c3ff 338.3px,#005aff 349.3px,#0000ff 367.3px,#0000ed 372.8px)"></i>
<i style="left:66px;width:1px;background:linear-gradient(#0000f1 0.0px,#0003ff 5.0px,#0064ff 24.0px,#00e2ff 37.5px,#03fffc 42.0px,#3bffc4 49.5px,#90ff6f 59.0px,#e8ff17 72.5px,#fffd00 77.5px,#ffbc00 94.0px,#ff4900 115.5px,#ff0300 131.5px,#d60000 153.5px,#c50000 171.5px,#c40000 198.3px,#d20000 216.8px,#f80000 237.8px,#ff0400 241.8px,#ff6100 262.3px,#ffc300 280.3px,#fdff02 296.3px,#b3ff4c 308.8px,#6aff95 318.3px,#1affe5 327.3px,#00feff 331.3px,#00bfff 339.3px,#0061ff 349.3px,#0001ff 368.3px,#0000f1 372.8px)"></i>
<i style="left:67px;width:1px;background:linear-gradient(#0000f7 0.0px,#0003ff 3.5px,#0067ff 23.0px,#00eaff 38.0px,#03fffc 41.5px,#3effc1 49.5px,#94ff6b 59.5px,#eeff11 73.5px,#fffd00 77.5px,#ffbf00 93.5px,#ff4900 115.5px,#ff0300 131.5px,#e70000 143.0px,#c80000 166.5px,#c40000 194.3px,#d10000 214.8px,#f60000 236.8px,#ff0300 241.3px,#ff5500 259.8px,#ffc800 281.3px,#fdff02 296.3px,#b4ff4b 308.8px,#67ff98 318.8px,#1effe1 327.3px,#00fcff 332.3px,#00afff 341.8px,#0067ff 349.8px,#0003ff 369.3px,#0000f7 372.8px)"></i>
<i style="left:68px;width:1px;background:linear-gradient(#0000fe 0.0px,#001fff 8.0px,#0079ff 24.0px,#00e8ff 37.0px,#02fffd 40.5px,#46ffb9 50.0px,#99ff66 60.0px,#f5ff0a 75.0px,#fffb00 78.0px,#ffc100 93.0px,#ff4a00 115.5px,#ff0400 131.5px,#f60000 136.5px,#d10000 159.0px,#c40000 182.5px,#cd0000 210.3px,#f20000 234.8px,#ff0300 240.8px,#ff4700 256.8px,#ff9400 271.3px,#ffd300 283.8px,#fdff02 296.3px,#b1ff4e 309.3px,#65ff9a 319.3px,#1cffe3 328.3px,#00fdff 332.8px,#00a1ff 344.3px,#006eff 350.3px,#000fff 368.3px,#0000fe 372.8px)"></i>
<i style="left:69px;width:1px;background:linear-gradient(#0008ff 0.0px,#002fff 9.5px,#0088ff 24.5px,#00e9ff 36.5px,#03fffc 40.0px,#4fffb0 50.5px,#9dff62 60.5px,#f8ff07 75.5px,#fffb00 78.0px,#ffc100 93.0px,#ff4a00 115.5px,#ff0500 131.5px,#f80000 136.0px,#d30000 157.5px,#c60000 179.0px,#cb0000 207.3px,#ec0000 231.3px,#ff0300 240.8px,#ff4800 256.8px,#ff9400 271.3px,#ffd500 284.3px,#fdff02 296.3px,#a7ff58 310.8px,#5cffa3 320.8px,#14ffeb 330.3px,#00fbff 333.8px,#009aff 346.3px,#0071ff 351.8px,#001cff 367.3px,#0008ff 372.8px)"></i>
<i style="left:70px;width:1px;background:linear-gradient(#0010ff 0.0px,#0038ff 9.5px,#0098ff 25.0px,#00ecff 36.0px,#01fffe 39.0px,#5bffa4 51.5px,#abff54 62.5px,#fdff02 76.5px,#ffc800 91.5px,#ff4600 116.5px,#ff0400 132.0px,#f60000 137.0px,#d30000 159.0px,#c60000 184.0px,#d00000 211.8px,#f40000 234.8px,#ff0300 240.3px,#ff3b00 253.8px,#ff8b00 269.8px,#ffcf00 282.8px,#fdff02 296.3px,#a1ff5e 311.8px,#47ffb8 323.8px,#00fdff 334.3px,#00a0ff 346.8px,#006dff 354.3px,#0029ff 366.3px,#0010ff 372.8px)"></i>
<i style="left:71px;width:1px;background:linear-gradient(#0019ff 0.0px,#0040ff 9.5px,#00a3ff 25.0px,#00eeff 35.5px,#03fffc 38.5px,#6eff91 53.5px,#c7ff38 67.0px,#ffff00 77.0px,#ffc100 93.0px,#ff4b00 115.5px,#ff0500 132.0px,#f70000 137.0px,#d40000 158.5px,#c70000 183.0px,#d10000 210.8px,#f20000 233.8px,#ff0300 240.3px,#ff3d00 254.3px,#ff8b00 269.8px,#ffcf00 282.8px,#fdff02 296.3px,#95ff6a 313.8px,#03fffc 334.3px,#00b7ff 345.3px,#007bff 353.8px,#0039ff 364.8px,#0019ff 372.8px)"></i>
<i style="left:72px;width:1px;background:linear-gradient(#0023ff 0.0px,#004aff 9.5px,#00aeff 25.0px,#00f4ff 35.5px,#05fffa 38.0px,#afff50 63.0px,#ffff00 77.0px,#ffc100 93.0px,#ff4b00 115.5px,#ff0600 132.0px,#fa0000 136.0px,#d90000 155.5px,#ca0000 176.5px,#cd0000 203.8px,#e40000 225.3px,#ff0300 239.8px,#ff3500 252.3px,#ff8800 269.3px,#ffce00 282.8px,#fdff02 296.3px,#89ff76 315.8px,#01fffe 335.3px,#00baff 346.3px,#0050ff 362.3px,#0024ff 372.3px,#0023ff 372.8px)"></i>
<i style="left:73px;width:1px;background:linear-gradient(#002fff 0.0px,#0056ff 9.5px,#00c0ff 26.0px,#01fffe 36.5px,#b3ff4c 63.5px,#fffe00 77.0px,#ffc000 93.0px,#ff4c00 115.5px,#ff0700 132.0px,#fa0000 136.5px,#d90000 156.0px,#cb0000 178.0px,#d00000 206.3px,#eb0000 229.3px,#ff0200 239.3px,#ff3100 251.3px,#ff8500 268.8px,#ffce00 282.8px,#fdff02 296.3px,#81ff7e 317.3px,#01fffe 336.3px,#00c0ff 346.8px,#0056ff 363.3px,#002fff 372.8px)"></i>
<i style="left:74px;width:1px;background:linear-gradient(#003cff 0.0px,#0063ff 9.5px,#00f5ff 33.5px,#04fffb 36.0px,#79ff86 54.0px,#fcff03 76.0px,#ffcd00 90.0px,#ff7f00 105.0px,#ff1900 127.0px,#fe0000 135.0px,#df0000 152.5px,#ce0000 173.5px,#ce0000 200.3px,#e00000 221.3px,#ff0300 239.3px,#ff3100 251.3px,#ff8800 269.3px,#ffcf00 283.3px,#fcff03 296.8px,#79ff86 318.8px,#04fffb 336.8px,#00e5ff 342.3px,#0061ff 363.8px,#003cff 372.8px)"></i>
<i style="left:75px;width:1px;background:linear-gradient(#0049ff 0.0px,#0071ff 9.5px,#00f9ff 33.0px,#07fff8 35.5px,#63ff9c 50.5px,#ccff33 67.5px,#ffff00 76.5px,#ffbe00 93.0px,#ff4c00 115.5px,#ff0800 132.0px,#fb0000 136.5px,#dd0000 155.5px,#cf0000 179.0px,#d40000 207.8px,#f10000 231.3px,#ff0300 238.8px,#ff2d00 250.3px,#ff8400 268.8px,#ffd000 283.8px,#fdff02 296.8px,#74ff8b 319.8px,#0cfff3 336.3px,#00fcff 339.3px,#00bdff 350.3px,#0062ff 366.3px,#0049ff 372.8px)"></i>
<i style="left:76px;width:1px;background:linear-gradient(#0057ff 0.0px,#007eff 9.5px,#00feff 32.5px,#30ffcf 42.0px,#bfff40 65.0px,#fffe00 76.5px,#ffbb00 93.5px,#ff4c00 115.5px,#ff0900 132.0px,#fc0000 137.0px,#df0000 156.5px,#d20000 183.0px,#db0000 212.8px,#f70000 233.8px,#ff0400 238.8px,#ff2b00 249.8px,#ff8400 268.8px,#ffd200 284.3px,#fdff02 296.8px,#70ff8f 320.8px,#11ffee 336.3px,#00fbff 340.8px,#006bff 367.3px,#0057ff 372.8px)"></i>
<i style="left:77px;width:1px;background:linear-gradient(#0064ff 0.0px,#008cff 9.5px,#00feff 31.0px,#32ffcd 41.5px,#c8ff37 66.5px,#fffd00 76.5px,#ffba00 93.5px,#ff4c00 115.5px,#ff0b00 131.5px,#fc0000 137.5px,#e20000 157.5px,#d70000 187.8px,#e30000 216.3px,#fd0000 235.8px,#ff1500 244.3px,#ff7c00 267.3px,#ffcf00 283.8px,#feff01 296.8px,#6cff93 321.8px,#17ffe8 336.3px,#00fcff 342.3px,#0070ff 369.3px,#0064ff 372.8px)"></i>
<i style="left:78px;width:1px;background:linear-gradient(#0070ff 0.0px,#009cff 10.0px,#02fffd 30.0px,#39ffc6 42.0px,#d5ff2a 68.5px,#fffd00 76.5px,#ffb900 93.5px,#ff4c00 115.5px,#ff0c00 131.5px,#fc0000 138.5px,#e40000 160.5px,#dd0000 193.8px,#ea0000 220.8px,#ff0300 237.3px,#ff2000 246.8px,#ff8300 268.8px,#ffd400 285.3px,#fcff03 297.3px,#6cff93 322.3px,#1dffe2 336.3px,#00fcff 343.8px,#0076ff 370.8px,#0070ff 372.8px)"></i>
<i style="left:79px;width:1px;background:linear-gradient(#007bff 0.0px,#00c0ff 14.5px,#02fffd 28.5px,#41ffbe 42.5px,#d3ff2c 68.0px,#ffff00 76.0px,#ffb300 94.5px,#ff4f00 115.0px,#ff0d00 131.5px,#fc0000 139.5px,#e70000 163.5px,#e40000 199.3px,#f30000 226.8px,#ff0300 236.8px,#ff1e00 246.3px,#ff8200 268.8px,#ffd400 285.8px,#fdff02 297.3px,#72ff8d 321.8px,#25ffda 335.8px,#00fdff 345.3px,#007bff 372.8px)"></i>
<i style="left:80px;width:1px;background:linear-gradient(#0088ff 0.0px,#00f6ff 23.5px,#05fffa 27.0px,#4bffb4 43.0px,#caff35 65.5px,#ffff00 75.5px,#ffa700 96.5px,#ff4e00 115.0px,#ff0e00 131.5px,#fd0000 140.5px,#ea0000 166.5px,#ea0000 206.3px,#fd0000 232.3px,#ff1100 242.3px,#ff7100 265.8px,#ffd100 285.8px,#fdff02 297.8px,#7fff80 320.8px,#33ffcc 334.8px,#00fcff 347.8px,#00bcff 361.8px,#0088ff 372.8px)"></i>
<i style="left:81px;width:1px;background:linear-gradient(#00a0ff 0.0px,#00feff 21.0px,#4bffb4 39.5px,#d0ff2f 64.5px,#fffe00 74.0px,#ff9400 99.0px,#ff4600 116.5px,#ff0f00 131.5px,#fd0000 142.0px,#ef0000 171.5px,#f20000 214.8px,#ff0300 234.8px,#ff1900 244.8px,#ff7c00 268.8px,#ffd100 287.8px,#feff01 299.3px,#8eff71 320.8px,#3effc1 336.3px,#00feff 351.8px,#00a0ff 372.8px)"></i>
<i style="left:82px;width:1px;background:linear-gradient(#00c8ff 0.0px,#01fffe 14.5px,#2effd1 26.5px,#99ff66 48.5px,#ddff22 62.5px,#fffd00 70.5px,#ffcd00 82.0px,#ff7f00 101.5px,#ff2800 123.5px,#ff0b00 133.5px,#fd0000 145.0px,#f30000 185.5px,#fc0000 226.8px,#ff0800 237.3px,#ff1f00 246.8px,#ff7a00 270.3px,#ffcb00 290.3px,#fffb00 301.8px,#f0ff0f 305.8px,#a9ff56 321.3px,#48ffb7 340.8px,#1bffe4 350.8px,#00fcff 359.3px,#00c8ff 372.8px)"></i>
<i style="left:83px;width:1px;background:linear-gradient(#00f3ff 0.0px,#04fffb 5.5px,#23ffdc 15.5px,#40ffbf 25.0px,#69ff96 32.0px,#aeff51 45.5px,#efff10 60.5px,#fffd00 65.5px,#ffbf00 81.0px,#ff7400 101.5px,#ff1d00 126.5px,#ff0800 137.0px,#fd0000 150.5px,#fa0000 209.8px,#ff0300 231.8px,#ff1700 244.3px,#ff7000 270.3px,#ffbd00 291.3px,#ffed00 303.3px,#fdff02 308.3px,#bfff40 323.8px,#67ff98 341.3px,#37ffc8 349.8px,#21ffde 357.8px,#00feff 368.8px,#00f3ff 372.8px)"></i>
<i style="left:84px;width:1px;background:linear-gradient(#0efff1 0.0px,#2fffd0 14.0px,#41ffbe 20.0px,#4cffb3 24.5px,#77ff88 30.5px,#afff50 41.5px,#dbff24 50.0px,#fffe00 60.5px,#ffd200 72.5px,#ffab00 84.0px,#ff3200 119.5px,#ff0f00 132.5px,#ff0100 150.0px,#ff0300 228.8px,#ff1600 243.8px,#ff6c00 270.8px,#ffb200 291.3px,#ffdb00 302.3px,#fdff02 313.3px,#c9ff36 326.8px,#8aff75 338.3px,#68ff97 344.8px,#49ffb6 348.8px,#35ffca 357.3px,#20ffdf 364.3px,#0efff1 372.8px)"></i>
<i style="left:85px;width:1px;background:linear-gradient(#17ffe8 0.0px,#33ffcc 13.5px,#47ffb8 19.5px,#52ffad 24.5px,#7cff83 29.5px,#b5ff4a 41.0px,#dfff20 48.5px,#fffd00 58.5px,#ffd100 71.5px,#ffae00 81.5px,#ff7300 99.5px,#ff2000 125.5px,#ff0c00 136.0px,#ff0300 154.5px,#ff0700 231.3px,#ff1900 244.8px,#ff6e00 271.8px,#ffac00 290.8px,#ffcf00 300.8px,#fff900 312.8px,#faff05 316.3px,#d1ff2e 327.3px,#97ff68 337.3px,#75ff8a 344.3px,#4fffb0 348.8px,#3cffc3 357.3px,#28ffd7 363.8px,#17ffe8 372.8px)"></i>
<i style="left:86px;width:1px;background:linear-gradient(#1affe5 0.0px,#36ffc9 13.5px,#4affb5 19.5px,#52ffad 24.0px,#80ff7f 29.5px,#b3ff4c 40.0px,#e0ff1f 47.5px,#fffd00 58.0px,#ffd100 71.0px,#ffaf00 80.5px,#ff8100 95.5px,#ff3500 118.5px,#ff1100 132.0px,#ff0500 149.5px,#ff0900 232.3px,#ff1900 244.8px,#ff6e00 271.8px,#ffa900 289.8px,#ffc800 299.8px,#fff200 311.3px,#fbff04 316.8px,#d9ff26 326.8px,#9bff64 337.3px,#7aff85 344.3px,#52ffad 348.8px,#3effc1 357.3px,#2affd5 363.8px,#1affe5 372.8px)"></i>
<i style="left:87px;width:1px;background:linear-gradient(#1bffe4 0.0px,#38ffc7 13.5px,#4cffb3 19.5px,#55ffaa 24.0px,#84ff7b 29.5px,#b6ff49 40.0px,#e4ff1b 47.5px,#fffd00 57.5px,#ffcf00 71.0px,#ffaf00 80.0px,#ff8800 93.5px,#ff3900 117.5px,#ff1200 132.0px,#ff0600 149.5px,#ff0900 232.3px,#ff1a00 244.8px,#ff6f00 272.3px,#ffa700 289.3px,#ffc400 299.3px,#fff100 311.3px,#fbff04 317.3px,#ddff22 326.8px,#a0ff5f 336.8px,#7eff81 344.3px,#55ffaa 348.8px,#41ffbe 357.3px,#2cffd3 363.8px,#1bffe4 372.8px)"></i>
<i style="left:88px;width:1px;background:linear-gradient(#1dffe2 0.0px,#3bffc4 13.5px,#4fffb0 19.5px,#59ffa6 24.0px,#88ff77 29.5px,#b5ff4a 39.5px,#e5ff1a 47.0px,#fffc00 57.5px,#ffce00 71.0px,#ffae00 80.0px,#ff8c00 92.5px,#ff3b00 117.0px,#ff1300 132.0px,#ff0700 149.5px,#ff0a00 232.3px,#ff1b00 244.8px,#ff7000 272.3px,#ffa500 288.8px,#ffc100 298.8px,#ffef00 310.8px,#fcff03 317.8px,#e1ff1e 326.8px,#a5ff5a 336.3px,#82ff7d 344.3px,#59ffa6 348.8px,#43ffbc 357.3px,#2dffd2 364.3px,#1dffe2 372.8px)"></i>
<i style="left:89px;width:1px;background:linear-gradient(#1fffe0 0.0px,#3dffc2 13.5px,#52ffad 20.0px,#5cffa3 24.0px,#8cff73 29.5px,#b8ff47 39.5px,#e7ff18 46.5px,#fffe00 56.0px,#ffd100 70.0px,#ffaf00 79.0px,#ff8f00 91.5px,#ff3c00 116.5px,#ff1300 132.0px,#ff0800 149.5px,#ff0b00 232.3px,#ff1b00 244.8px,#ff7000 272.3px,#ffa400 288.3px,#ffbe00 298.3px,#ffed00 310.8px,#fcff03 318.3px,#e4ff1b 326.8px,#a8ff57 336.3px,#85ff7a 344.3px,#5cffa3 348.8px,#44ffbb 357.8px,#2cffd3 365.8px,#1fffe0 372.8px)"></i>
<i style="left:90px;width:1px;background:linear-gradient(#21ffde 0.0px,#3effc1 13.0px,#55ffaa 20.0px,#60ff9f 24.0px,#8fff70 29.5px,#b7ff48 39.0px,#eaff15 46.5px,#fffe00 55.5px,#ffd200 69.5px,#ffb000 78.5px,#ff9100 91.0px,#ff3d00 116.5px,#ff1400 132.0px,#ff0800 149.5px,#ff0c00 232.3px,#ff1c00 244.8px,#ff7000 272.3px,#ffa300 288.3px,#ffbc00 298.3px,#ffec00 310.8px,#fdff02 318.8px,#e8ff17 326.8px,#adff52 335.8px,#89ff76 344.3px,#60ff9f 348.8px,#44ffbb 358.3px,#29ffd6 368.3px,#21ffde 372.8px)"></i>
<i style="left:91px;width:1px;background:linear-gradient(#23ffdc 0.0px,#41ffbe 13.0px,#59ffa6 20.5px,#66ff99 24.5px,#8eff71 29.0px,#bdff42 39.5px,#edff12 46.5px,#fffe00 54.5px,#ffd500 68.5px,#ffaf00 78.5px,#ff8f00 91.5px,#ff3c00 117.0px,#ff1500 132.0px,#ff0900 149.5px,#ff0c00 232.3px,#ff1e00 245.3px,#ff7100 272.8px,#ffa200 288.3px,#ffbb00 298.3px,#ffec00 311.3px,#fdff02 319.8px,#eaff15 326.8px,#afff50 335.8px,#8bff74 344.3px,#60ff9f 349.3px,#47ffb8 358.3px,#28ffd7 369.3px,#23ffdc 372.8px)"></i>
<i style="left:92px;width:1px;background:linear-gradient(#24ffdb 0.0px,#42ffbd 12.5px,#5dffa2 21.5px,#6dff92 25.0px,#92ff6d 29.5px,#bcff43 39.0px,#efff10 46.5px,#fffd00 54.0px,#ffd500 68.0px,#ffae00 78.5px,#ff8c00 92.0px,#ff3a00 117.5px,#ff1500 132.5px,#ff0a00 150.0px,#ff0d00 232.3px,#ff1e00 245.3px,#ff7100 272.8px,#ffa200 288.8px,#ffbc00 298.8px,#ffeb00 311.3px,#fdff02 320.8px,#eaff15 327.3px,#b1ff4e 335.8px,#8dff72 344.3px,#64ff9b 349.3px,#2bffd4 368.8px,#24ffdb 372.8px)"></i>
<i style="left:93px;width:1px;background:linear-gradient(#26ffd9 0.0px,#42ffbd 12.0px,#6dff92 24.5px,#94ff6b 29.5px,#bdff42 39.0px,#f0ff0f 46.5px,#fffe00 53.0px,#ffd800 67.0px,#ffab00 79.0px,#ff8700 93.0px,#ff3800 118.5px,#ff1500 132.5px,#ff0a00 150.0px,#ff0e00 232.3px,#ff1f00 245.3px,#ff7000 272.8px,#ffa200 289.3px,#ffbb00 298.8px,#ffe900 311.3px,#feff01 321.3px,#ebff14 327.3px,#b2ff4d 335.8px,#8aff75 344.8px,#67ff98 349.3px,#2cffd3 369.3px,#26ffd9 372.8px)"></i>
<i style="left:94px;width:1px;background:linear-gradient(#28ffd7 0.0px,#42ffbd 11.0px,#70ff8f 24.5px,#97ff68 30.0px,#c2ff3d 39.5px,#f2ff0d 46.5px,#fffd00 52.5px,#ffd700 67.0px,#ffa900 79.5px,#ff8000 95.0px,#ff3400 120.0px,#ff1500 133.0px,#ff0b00 150.5px,#ff0e00 232.3px,#ff1f00 245.3px,#ff6f00 272.8px,#ffa200 290.3px,#ffbe00 299.8px,#ffeb00 312.3px,#fcff03 322.8px,#eaff15 327.8px,#b4ff4b 335.8px,#8bff74 344.8px,#68ff97 349.8px,#2dffd2 369.8px,#28ffd7 372.8px)"></i>
<i style="left:95px;width:1px;background:linear-gradient(#2affd5 0.0px,#41ffbe 10.0px,#70ff8f 24.0px,#9aff65 30.5px,#c4ff3b 39.5px,#f3ff0c 46.5px,#fffd00 51.5px,#ffd700 66.5px,#ffa700 80.0px,#ff7200 99.0px,#ff2200 126.5px,#ff1100 138.5px,#ff0c00 162.5px,#ff0f00 232.3px,#ff2000 245.3px,#ff6f00 272.8px,#ffa400 291.8px,#ffc400 301.3px,#ffee00 314.3px,#fcff03 323.3px,#e8ff17 328.3px,#b3ff4c 336.3px,#89ff76 345.3px,#69ff96 350.3px,#2effd1 369.8px,#2affd5 372.8px)"></i>
<i style="left:96px;width:1px;background:linear-gradient(#2bffd4 0.0px,#41ffbe 9.5px,#73ff8c 24.0px,#9dff62 31.0px,#c6ff39 39.5px,#f4ff0b 46.5px,#fffd00 51.0px,#ffd400 67.0px,#ffa600 80.0px,#ff6600 102.5px,#ff1a00 130.5px,#ff0d00 148.0px,#ff1000 232.3px,#ff2200 245.8px,#ff7000 273.3px,#ffbb00 299.3px,#ffe600 311.8px,#fdff02 323.8px,#e6ff19 328.8px,#b5ff4a 336.3px,#8aff75 345.3px,#6aff95 350.8px,#30ffcf 369.8px,#2bffd4 372.8px)"></i>
<i style="left:97px;width:1px;background:linear-gradient(#2cffd3 0.0px,#43ffbc 9.5px,#75ff8a 24.0px,#a3ff5c 32.0px,#cbff34 40.0px,#f5ff0a 46.5px,#fffc00 50.5px,#ffd100 67.5px,#ffa200 81.0px,#ff2000 128.0px,#ff0e00 144.0px,#ff1000 232.3px,#ff2200 245.8px,#ff6f00 273.3px,#ffba00 299.3px,#ffe400 311.8px,#fdff02 324.3px,#e4ff1b 329.3px,#b6ff49 336.3px,#88ff77 345.8px,#6aff95 351.3px,#30ffcf 370.3px,#2cffd3 372.8px)"></i>
<i style="left:98px;width:1px;background:linear-gradient(#2dffd2 0.0px,#47ffb8 10.5px,#77ff88 24.0px,#a6ff59 32.5px,#cdff32 40.0px,#f7ff08 46.5px,#fffc00 50.0px,#ffcc00 68.5px,#ff9f00 81.5px,#ff2100 128.0px,#ff0f00 144.0px,#ff1100 232.3px,#ff2300 245.8px,#ff6e00 273.3px,#ffb900 299.3px,#ffe300 311.8px,#fcff03 324.8px,#e2ff1d 329.8px,#b6ff49 336.8px,#86ff79 346.3px,#68ff97 352.3px,#30ffcf 370.8px,#2dffd2 372.8px)"></i>
<i style="left:99px;width:1px;background:linear-gradient(#2dffd2 0.0px,#4effb1 12.5px,#78ff87 24.0px,#a9ff56 33.0px,#d2ff2d 40.5px,#faff05 47.0px,#fff900 50.5px,#ffc900 69.0px,#ff9a00 83.0px,#ff2200 127.5px,#ff1000 143.0px,#ff1100 231.8px,#ff2300 245.8px,#ff6e00 273.3px,#ffb600 298.8px,#ffe100 311.8px,#fcff03 325.3px,#ddff22 330.8px,#b3ff4c 337.8px,#84ff7b 346.8px,#65ff9a 353.3px,#2fffd0 371.3px,#2dffd2 372.8px)"></i>
<i style="left:100px;width:1px;background:linear-gradient(#2dffd2 0.0px,#5bffa4 16.5px,#7eff81 25.0px,#adff52 33.5px,#d7ff28 41.0px,#fbff04 47.0px,#fff100 53.5px,#ffc400 70.0px,#ff9300 85.0px,#ff2100 128.0px,#ff0f00 144.5px,#ff1100 231.3px,#ff2300 245.8px,#ff6d00 273.3px,#ffb300 298.3px,#ffde00 311.3px,#fdff02 325.3px,#deff21 330.8px,#b2ff4d 338.3px,#85ff7a 346.8px,#65ff9a 353.3px,#2effd1 371.8px,#2dffd2 372.8px)"></i>
<i style="left:101px;width:1px;background:linear-gradient(#2dffd2 0.0px,#62ff9d 18.5px,#82ff7d 25.5px,#b5ff4a 35.0px,#e6ff19 43.0px,#fffe00 48.0px,#ffc400 70.0px,#ff8e00 86.5px,#ff1f00 129.0px,#ff0e00 147.0px,#ff1000 229.8px,#ff2200 245.3px,#ff6b00 272.8px,#ffaf00 297.3px,#ffdb00 310.8px,#fcff03 325.8px,#b0ff4f 338.8px,#7fff80 347.8px,#58ffa7 357.3px,#2dffd2 372.8px)"></i>
<i style="left:102px;width:1px;background:linear-gradient(#2cffd3 0.0px,#64ff9b 19.0px,#89ff76 26.5px,#d8ff27 41.0px,#fcff03 47.0px,#ffc500 69.5px,#ff8a00 87.5px,#ff1f00 129.0px,#ff0d00 147.0px,#ff0d00 225.8px,#ff1f00 243.8px,#ff6600 271.3px,#ffad00 296.8px,#ffdc00 311.3px,#fcff03 325.8px,#b0ff4f 338.8px,#68ff97 352.8px,#2effd1 371.8px,#2cffd3 372.8px)"></i>
<i style="left:103px;width:1px;background:linear-gradient(#2cffd3 0.0px,#65ff9a 19.5px,#d0ff2f 40.0px,#fbff04 47.0px,#fff600 51.5px,#ffc000 71.0px,#ff8600 89.5px,#ff1f00 128.5px,#ff0c00 146.0px,#ff0700 200.3px,#ff1000 232.8px,#ff2500 246.8px,#ff6c00 273.3px,#ffab00 295.8px,#ffde00 311.8px,#fdff02 325.3px,#d7ff28 331.8px,#9bff64 342.8px,#61ff9e 354.3px,#2cffd3 372.8px)"></i>
<i style="left:104px;width:1px;background:linear-gradient(#2cffd3 0.0px,#65ff9a 19.5px,#cbff34 39.5px,#f8ff07 47.0px,#fffc00 50.0px,#ffc000 71.5px,#ff8500 90.5px,#ff2200 127.0px,#ff0e00 142.0px,#ff0500 175.0px,#ff0900 222.8px,#ff1b00 242.3px,#ff6200 269.8px,#ffb500 298.3px,#ffe800 314.8px,#fcff03 324.8px,#dbff24 330.8px,#a2ff5d 340.8px,#59ffa6 356.3px,#2cffd3 372.8px)"></i>
<i style="left:105px;width:1px;background:linear-gradient(#2cffd3 0.0px,#61ff9e 19.0px,#beff41 38.0px,#f4ff0b 47.0px,#fffc00 51.0px,#ffbe00 72.5px,#ff7f00 93.5px,#ff2a00 123.5px,#ff1200 136.5px,#ff0200 165.0px,#ff0600 218.8px,#ff1800 240.8px,#ff5a00 267.3px,#ffbe00 300.3px,#ffff00 322.8px,#e5ff1a 328.8px,#a1ff5e 340.3px,#57ffa8 356.8px,#2cffd3 372.8px)"></i>
<i style="left:106px;width:1px;background:linear-gradient(#2cffd3 0.0px,#50ffaf 13.5px,#63ff9c 19.5px,#81ff7e 25.5px,#a2ff5d 33.5px,#f3ff0c 47.5px,#fffd00 52.0px,#ffb200 76.5px,#ff3100 121.0px,#ff1300 135.0px,#ff0000 163.0px,#ff0300 217.8px,#ff1700 240.8px,#ff5b00 267.3px,#ffcd00 304.3px,#fdff02 322.3px,#e1ff1e 328.8px,#95ff6a 341.8px,#6eff91 351.3px,#57ffa8 356.3px,#32ffcd 370.8px,#2cffd3 372.8px)"></i>
<i style="left:107px;width:1px;background:linear-gradient(#2cffd3 0.0px,#4affb5 11.0px,#5fffa0 19.0px,#7dff82 24.5px,#93ff6c 31.5px,#efff10 47.5px,#fffd00 53.0px,#ff3800 118.0px,#ff1300 134.0px,#fe0000 159.0px,#ff0000 214.8px,#ff1500 239.8px,#ff4b00 261.8px,#feff01 320.8px,#e1ff1e 328.3px,#8cff73 342.8px,#75ff8a 350.3px,#57ffa8 355.8px,#36ffc9 369.8px,#2cffd3 372.8px)"></i>
<i style="left:108px;width:1px;background:linear-gradient(#2bffd4 0.0px,#48ffb7 9.5px,#5bffa4 18.5px,#7cff83 24.0px,#8cff73 31.0px,#ecff13 47.5px,#fffc00 54.5px,#ff3800 118.0px,#ff1300 134.0px,#fd0000 157.0px,#f90000 193.8px,#ff0000 218.3px,#ff1700 241.3px,#ff6100 268.8px,#feff01 319.8px,#e0ff1f 327.8px,#88ff77 342.8px,#76ff89 350.3px,#57ffa8 355.3px,#38ffc7 369.3px,#2bffd4 372.8px)"></i>
<i style="left:109px;width:1px;background:linear-gradient(#2affd5 0.0px,#46ffb9 9.0px,#5affa5 18.5px,#7aff85 23.5px,#86ff79 30.5px,#e8ff17 47.5px,#fffd00 55.0px,#ff3800 118.0px,#ff1200 134.0px,#fc0000 155.0px,#f60000 177.0px,#fa0000 214.3px,#ff0700 228.8px,#ff1d00 244.8px,#ff6a00 271.3px,#fcff03 319.3px,#dcff23 327.8px,#84ff7b 342.8px,#78ff87 349.8px,#56ffa9 355.3px,#39ffc6 368.8px,#2affd5 372.8px)"></i>
<i style="left:110px;width:1px;background:linear-gradient(#26ffd9 0.0px,#42ffbd 8.5px,#56ffa9 18.5px,#78ff87 23.5px,#83ff7c 30.5px,#e5ff1a 47.5px,#fffd00 56.0px,#ff3800 118.0px,#ff1100 134.0px,#fc0000 153.0px,#f30000 172.0px,#f70000 213.3px,#ff0500 227.8px,#ff1c00 244.3px,#ff6900 270.8px,#fcff03 318.3px,#d9ff26 327.8px,#81ff7e 342.8px,#75ff8a 349.8px,#52ffad 355.3px,#36ffc9 368.8px,#26ffd9 372.8px)"></i>
<i style="left:111px;width:1px;background:linear-gradient(#1dffe2 0.0px,#3affc5 9.0px,#50ffaf 18.5px,#72ff8d 24.0px,#7fff80 30.5px,#e2ff1d 48.0px,#fffd00 57.0px,#ff3800 118.0px,#ff1100 134.0px,#fc0000 151.5px,#f10000 170.0px,#f40000 212.8px,#ff0400 228.3px,#ff1d00 244.8px,#ff6a00 270.8px,#fcff03 317.3px,#d4ff2b 327.8px,#7eff81 342.8px,#6eff91 349.8px,#4cffb3 355.3px,#2bffd4 369.3px,#1dffe2 372.8px)"></i>
<i style="left:112px;width:1px;background:linear-gradient(#0ffff0 0.0px,#2fffd0 10.5px,#47ffb8 18.5px,#69ff96 24.5px,#7dff82 31.0px,#dcff23 48.0px,#fffc00 58.5px,#ff3800 118.0px,#ff1000 134.0px,#fc0000 150.0px,#ee0000 169.0px,#f10000 212.3px,#ff0400 229.3px,#ff1c00 244.8px,#ff6b00 270.8px,#fdff02 315.8px,#ceff31 327.8px,#76ff89 343.3px,#60ff9f 350.3px,#40ffbf 355.8px,#16ffe9 370.8px,#0ffff0 372.8px)"></i>
<i style="left:113px;width:1px;background:linear-gradient(#00feff 0.0px,#37ffc8 18.0px,#5dffa2 25.0px,#79ff86 32.0px,#d4ff2b 48.0px,#fffd00 60.0px,#ff3900 118.0px,#ff0f00 134.0px,#fc0000 148.5px,#eb0000 168.0px,#ef0000 211.8px,#ff0400 230.3px,#ff1d00 245.3px,#ff6d00 270.8px,#fdff02 313.8px,#c5ff3a 327.8px,#6aff95 343.8px,#4fffb0 350.8px,#2fffd0 356.8px,#00feff 372.8px)"></i>
<i style="left:114px;width:1px;background:linear-gradient(#00ecff 0.0px,#03fffc 7.0px,#2bffd4 18.5px,#4fffb0 25.0px,#6cff93 32.0px,#c9ff36 48.0px,#fffd00 62.0px,#ff3900 118.0px,#ff0e00 134.0px,#fc0000 147.0px,#e80000 167.5px,#eb0000 211.3px,#ff0400 231.3px,#ff1d00 245.3px,#ff6d00 270.3px,#fdff02 311.8px,#baff45 327.8px,#5bffa4 344.3px,#40ffbf 350.8px,#1fffe0 356.8px,#00fcff 367.8px,#00ecff 372.8px)"></i>
<i style="left:115px;width:1px;background:linear-gradient(#00dbff 0.0px,#03fffc 12.5px,#21ffde 19.5px,#40ffbf 25.0px,#5bffa4 31.5px,#beff41 48.0px,#fffd00 64.0px,#ff3b00 117.5px,#ff0e00 133.5px,#fc0000 145.5px,#e50000 167.0px,#e80000 211.3px,#ff0300 232.3px,#ff1e00 245.8px,#ff7000 270.3px,#fdff02 309.8px,#aeff51 327.8px,#4cffb3 344.3px,#31ffce 350.8px,#0ffff0 356.8px,#00fcff 361.8px,#00dbff 372.8px)"></i>
<i style="left:116px;width:1px;background:linear-gradient(#00c9ff 0.0px,#00f1ff 12.5px,#03fffc 17.0px,#31ffce 25.0px,#4affb5 31.0px,#b0ff4f 47.5px,#fffd00 66.0px,#ff3c00 117.5px,#ff0d00 133.5px,#fc0000 143.5px,#e10000 167.0px,#e40000 210.8px,#ff0300 233.3px,#ff1f00 246.3px,#ff7000 269.8px,#fdff02 307.8px,#a3ff5c 327.8px,#3dffc2 344.3px,#23ffdc 350.8px,#01fffe 356.3px,#00caff 372.3px,#00c9ff 372.8px)"></i>
<i style="left:117px;width:1px;background:linear-gradient(#00b8ff 0.0px,#00d2ff 9.0px,#02fffd 19.5px,#21ffde 24.5px,#38ffc7 30.5px,#9cff63 46.0px,#fffe00 67.5px,#ff3c00 117.5px,#ff0a00 134.0px,#fb0000 142.0px,#dc0000 166.5px,#df0000 210.3px,#ff0300 234.8px,#ff2300 247.8px,#ff7500 270.3px,#feff01 305.8px,#99ff66 327.3px,#2effd1 344.3px,#17ffe8 350.3px,#00fdff 353.8px,#00c6ff 366.8px,#00b8ff 372.8px)"></i>
<i style="left:118px;width:1px;background:linear-gradient(#00a6ff 0.0px,#00bbff 8.0px,#00eeff 19.0px,#01fffe 21.5px,#15ffea 25.5px,#29ffd6 30.5px,#85ff7a 44.0px,#ddff22 61.5px,#fffd00 69.5px,#ff3d00 117.5px,#ff0900 134.0px,#fb0000 140.5px,#d80000 165.5px,#d90000 209.3px,#ff0300 235.8px,#ff2800 249.3px,#ff7700 270.3px,#fdff02 304.3px,#90ff6f 326.8px,#42ffbd 338.8px,#1fffe0 344.3px,#08fff7 350.3px,#00fcff 351.8px,#00dbff 357.3px,#00acff 369.3px,#00a6ff 372.8px)"></i>
<i style="left:119px;width:1px;background:linear-gradient(#0094ff 0.0px,#00a5ff 7.0px,#00deff 19.0px,#01fffe 24.0px,#1affe5 30.5px,#70ff8f 42.5px,#c9ff36 59.0px,#fffd00 71.0px,#ff6c00 105.5px,#ff1300 129.5px,#fc0000 138.5px,#d30000 165.0px,#d30000 207.8px,#ff0300 236.8px,#ff2d00 250.8px,#ff7a00 270.3px,#fcff03 302.8px,#8aff75 325.8px,#3cffc3 337.8px,#12ffed 343.8px,#00feff 349.3px,#00cdff 356.8px,#009bff 368.8px,#0094ff 372.8px)"></i>
<i style="left:120px;width:1px;background:linear-gradient(#0082ff 0.0px,#0092ff 7.0px,#00cdff 19.0px,#00f1ff 24.0px,#03fffc 29.0px,#63ff9c 42.5px,#caff35 61.0px,#fffd00 72.5px,#ff7500 104.0px,#ff2000 125.5px,#fe0000 137.0px,#cf0000 164.0px,#cc0000 204.3px,#dd0000 218.3px,#ff0300 237.8px,#ff3600 253.3px,#ff8100 271.3px,#fcff03 301.3px,#87ff78 324.3px,#37ffc8 336.8px,#03fffc 343.8px,#00ebff 349.8px,#00bfff 356.3px,#008aff 368.3px,#0082ff 372.8px)"></i>
<i style="left:121px;width:1px;background:linear-gradient(#006fff 0.0px,#0080ff 7.0px,#00bcff 19.0px,#00e1ff 24.0px,#00f9ff 30.0px,#04fffb 31.5px,#4bffb4 40.5px,#bcff43 60.0px,#fffc00 74.0px,#ff7c00 103.0px,#ff2c00 122.0px,#ff0000 135.5px,#cc0000 162.5px,#c50000 191.8px,#cd0000 211.3px,#ff0300 238.3px,#ff3e00 255.3px,#ff8900 272.3px,#fdff02 299.8px,#85ff7a 322.8px,#2effd1 336.3px,#01fffe 341.8px,#00e8ff 346.8px,#00d4ff 350.8px,#00adff 356.3px,#0077ff 368.3px,#006fff 372.8px)"></i>
<i style="left:122px;width:1px;background:linear-gradient(#005bff 0.0px,#0070ff 7.5px,#00abff 19.0px,#00d0ff 24.0px,#00eaff 30.0px,#03fffc 33.0px,#3effc1 40.5px,#b8ff47 61.0px,#fffd00 75.0px,#ff8100 102.5px,#ff3400 120.0px,#ff0000 135.0px,#ca0000 160.0px,#c10000 174.0px,#c50000 208.3px,#f00000 231.8px,#ff0200 238.8px,#ff4800 257.8px,#ffc100 284.3px,#fcff03 298.8px,#80ff7f 321.8px,#21ffde 336.3px,#00feff 340.3px,#00dfff 344.8px,#00c7ff 350.3px,#009bff 356.3px,#0063ff 368.8px,#005bff 372.8px)"></i>
<i style="left:123px;width:1px;background:linear-gradient(#0046ff 0.0px,#0061ff 8.0px,#0099ff 19.0px,#00c2ff 24.5px,#00dcff 30.0px,#03fffc 34.5px,#3cffc3 42.0px,#b5ff4a 62.0px,#fffe00 76.0px,#ff8700 102.0px,#ff3a00 118.5px,#fe0000 134.5px,#cb0000 157.0px,#bd0000 169.5px,#be0000 205.8px,#d40000 220.3px,#ff0200 239.3px,#ff4f00 259.3px,#ffbf00 282.8px,#feff01 297.3px,#7bff84 320.8px,#15ffea 336.3px,#00feff 338.8px,#00d2ff 344.3px,#00b6ff 350.3px,#008cff 355.8px,#004eff 369.8px,#0046ff 372.8px)"></i>
<i style="left:124px;width:1px;background:linear-gradient(#0032ff 0.0px,#0057ff 9.5px,#0083ff 18.5px,#00b2ff 24.5px,#00cdff 30.0px,#00feff 35.5px,#43ffbc 45.0px,#b2ff4d 63.0px,#fffe00 77.0px,#ff8c00 101.5px,#ff4100 117.0px,#ff0100 133.5px,#c90000 155.5px,#b80000 168.0px,#b80000 202.8px,#c40000 214.8px,#f80000 236.8px,#ff0600 240.8px,#ff6000 262.8px,#ffbc00 281.3px,#fdff02 296.3px,#74ff8b 320.3px,#08fff7 336.3px,#00faff 337.8px,#00c7ff 343.8px,#00a5ff 350.3px,#007aff 355.8px,#0037ff 370.8px,#0032ff 372.8px)"></i>
<i style="left:125px;width:1px;background:linear-gradient(#001eff 0.0px,#0063ff 16.0px,#0082ff 20.5px,#00a4ff 25.0px,#00bfff 30.0px,#00ffff 37.0px,#9cff63 60.5px,#ffff00 78.0px,#ff9100 101.0px,#ff4500 116.0px,#fe0000 133.5px,#cd0000 152.0px,#b40000 166.5px,#b10000 198.8px,#bb0000 212.3px,#f00000 234.8px,#ff0300 240.3px,#ff5c00 261.8px,#ffc000 281.3px,#fdff02 295.3px,#6dff92 319.8px,#00ffff 335.8px,#00b8ff 343.8px,#0094ff 350.3px,#0068ff 355.8px,#001fff 372.3px,#001eff 372.8px)"></i>
<i style="left:126px;width:1px;background:linear-gradient(#0009ff 0.0px,#005dff 18.0px,#0094ff 25.0px,#00b8ff 30.5px,#01fffe 38.5px,#9bff64 61.5px,#fffe00 79.0px,#ff9600 100.5px,#ff4800 115.5px,#fe0000 133.0px,#cc0000 150.5px,#b00000 165.5px,#ab0000 195.3px,#b50000 211.3px,#e90000 233.3px,#ff0300 240.8px,#ff6000 262.3px,#ffc100 280.8px,#feff01 294.3px,#68ff97 319.3px,#00fcff 334.8px,#00a8ff 344.3px,#007fff 350.8px,#0057ff 355.8px,#0009ff 372.8px)"></i>
<i style="left:127px;width:1px;background:linear-gradient(#0000f4 0.0px,#0002ff 3.0px,#004aff 17.5px,#00beff 32.0px,#01fffe 39.5px,#96ff69 61.5px,#fffe00 79.5px,#ff9800 100.5px,#ff4b00 115.0px,#ff0000 132.5px,#cb0000 149.5px,#ab0000 165.0px,#a50000 193.3px,#af0000 210.8px,#e40000 232.3px,#ff0200 240.8px,#ff6000 262.3px,#ffc100 280.3px,#feff01 293.8px,#62ff9d 319.3px,#00fcff 333.8px,#0091ff 346.3px,#0041ff 356.8px,#0000fc 370.8px,#0000f4 372.8px)"></i>
<i style="left:128px;width:1px;background:linear-gradient(#0000e2 0.0px,#0003ff 6.5px,#002dff 15.0px,#0070ff 24.0px,#00e5ff 36.5px,#01fffe 40.0px,#91ff6e 61.0px,#fffe00 79.5px,#ff9c00 100.0px,#ff4d00 114.5px,#fe0000 132.5px,#c80000 149.5px,#a70000 165.0px,#a00000 192.3px,#aa0000 210.3px,#de0000 231.3px,#ff0200 241.3px,#ff6300 262.8px,#ffc200 280.3px,#fdff02 293.8px,#5dffa2 319.8px,#00fcff 333.3px,#0098ff 344.8px,#0057ff 351.8px,#0019ff 361.3px,#0000fd 367.3px,#0000e2 372.8px)"></i>
<i style="left:129px;width:1px;background:linear-gradient(#0000d3 0.0px,#0001ff 9.0px,#0023ff 15.0px,#0066ff 24.0px,#00adff 30.0px,#00ffff 40.0px,#88ff77 59.5px,#feff01 79.0px,#ffa200 99.0px,#ff4f00 114.0px,#ff0000 132.0px,#c70000 149.0px,#a50000 165.0px,#9d0000 191.8px,#a80000 210.3px,#db0000 230.8px,#ff0200 241.3px,#ff6300 262.8px,#ffc300 280.3px,#feff01 293.8px,#64ff9b 318.8px,#00ffff 332.8px,#00a8ff 343.3px,#005cff 349.8px,#000aff 361.8px,#0000fc 364.8px,#0000d3 372.8px)"></i>
<i style="left:130px;width:1px;background:linear-gradient(#0000cd 0.0px,#0001ff 10.5px,#0025ff 16.0px,#005cff 23.5px,#00abff 29.5px,#01fffe 40.0px,#6cff93 55.0px,#fdff02 78.5px,#ffa800 98.0px,#ff4f00 114.0px,#ff0000 132.0px,#c70000 149.0px,#a40000 165.0px,#9d0000 191.3px,#a80000 210.3px,#db0000 230.8px,#ff0200 241.3px,#ff6300 262.8px,#ffc300 280.3px,#fdff02 294.3px,#55ffaa 321.3px,#01fffe 332.8px,#00abff 343.3px,#007dff 346.8px,#0057ff 349.8px,#0003ff 361.8px,#0000e2 368.8px,#0000cd 372.8px)"></i>
<i style="left:131px;width:1px;background:linear-gradient(#0000cd 0.0px,#0000ff 10.5px,#0028ff 16.5px,#005cff 23.5px,#00a8ff 29.0px,#00e1ff 36.0px,#01fffe 40.0px,#57ffa8 51.5px,#fcff03 78.0px,#ffb000 96.5px,#ff4f00 114.0px,#ff0100 132.0px,#c70000 149.5px,#a60000 165.0px,#9f0000 191.3px,#aa0000 210.3px,#dc0000 230.8px,#ff0200 241.3px,#ff6300 262.8px,#ffc300 280.3px,#fcff03 294.8px,#38ffc7 325.8px,#00fcff 333.3px,#00adff 343.3px,#0086ff 346.3px,#005cff 349.3px,#0002ff 361.8px,#0000dc 369.8px,#0000cd 372.8px)"></i>
<i style="left:132px;width:1px;background:linear-gradient(#0000d1 0.0px,#0003ff 10.5px,#0031ff 17.5px,#005eff 23.5px,#00aaff 29.0px,#00e5ff 36.5px,#01fffe 40.0px,#50ffaf 50.0px,#feff01 78.0px,#ffb000 96.5px,#ff5000 114.0px,#fe0000 132.5px,#ca0000 149.0px,#a90000 165.0px,#a20000 191.8px,#ac0000 210.3px,#dd0000 230.8px,#ff0300 241.3px,#ff6300 262.8px,#ffc500 280.8px,#feff01 294.8px,#3effc1 325.3px,#00fcff 333.3px,#00aaff 343.8px,#0079ff 347.3px,#0055ff 350.3px,#0005ff 361.8px,#0000f9 364.3px,#0000d1 372.8px)"></i>
<i style="left:133px;width:1px;background:linear-gradient(#0000d6 0.0px,#0001ff 9.5px,#0028ff 16.0px,#0062ff 23.5px,#00adff 29.0px,#02fffd 40.0px,#4bffb4 49.0px,#e7ff18 73.5px,#fffe00 78.0px,#ffb200 96.0px,#ff4e00 114.5px,#ff0000 132.5px,#cb0000 149.5px,#ab0000 165.5px,#a50000 192.8px,#b00000 210.8px,#e00000 231.3px,#ff0200 240.8px,#ff6100 262.3px,#ffc500 280.8px,#feff01 295.3px,#3affc5 326.3px,#00fdff 333.3px,#00adff 343.8px,#007dff 347.3px,#0058ff 350.3px,#000bff 361.3px,#0000fc 364.3px,#0000d6 372.8px)"></i>
<i style="left:134px;width:1px;background:linear-gradient(#0000db 0.0px,#0003ff 9.0px,#002eff 16.5px,#0066ff 23.5px,#00afff 29.0px,#00feff 39.5px,#4effb1 49.0px,#dbff24 71.5px,#ffff00 77.5px,#ffba00 94.5px,#ff4c00 115.0px,#fe0000 133.0px,#cc0000 149.5px,#ae0000 165.5px,#a70000 192.8px,#b20000 210.8px,#e30000 231.8px,#ff0300 240.8px,#ff6200 262.3px,#ffc700 281.3px,#fdff02 295.8px,#38ffc7 326.8px,#00feff 333.3px,#00afff 343.8px,#0080ff 347.3px,#005cff 350.3px,#0014ff 360.3px,#0000fd 364.8px,#0000db 372.8px)"></i>
<i style="left:135px;width:1px;background:linear-gradient(#0000e0 0.0px,#0001ff 8.0px,#002eff 16.0px,#0064ff 23.0px,#00b3ff 29.0px,#01fffe 39.5px,#4bffb4 48.0px,#ddff22 71.5px,#ffff00 77.0px,#ffb900 94.5px,#ff4c00 115.0px,#ff0000 133.0px,#cd0000 150.0px,#b00000 166.0px,#aa0000 193.3px,#b60000 211.3px,#e50000 231.8px,#ff0200 240.3px,#ff5f00 261.8px,#ffc700 281.3px,#fcff03 296.3px,#64ff9b 320.8px,#2fffd0 328.3px,#01fffe 333.3px,#00b3ff 343.8px,#0084ff 347.3px,#005fff 350.3px,#0018ff 360.3px,#0000fc 365.8px,#0000e0 372.8px)"></i>
<i style="left:136px;width:1px;background:linear-gradient(#0000e5 0.0px,#0002ff 7.5px,#002bff 15.0px,#0069ff 23.0px,#0098ff 26.5px,#00bcff 29.5px,#01fffe 39.0px,#4fffb0 48.0px,#e7ff18 72.5px,#fffd00 77.0px,#ffb800 94.5px,#ff4c00 115.0px,#ff0000 133.5px,#cf0000 150.0px,#b30000 166.0px,#ad0000 193.3px,#b80000 211.3px,#e60000 231.8px,#ff0300 240.3px,#ff5f00 261.8px,#ffc500 281.3px,#fcff03 296.8px,#40ffbf 326.8px,#01fffe 333.8px,#00b7ff 343.8px,#0089ff 347.3px,#0064ff 350.3px,#0018ff 360.8px,#0000fd 366.3px,#0000e5 372.8px)"></i>
<i style="left:137px;width:1px;background:linear-gradient(#0000ea 0.0px,#0003ff 7.0px,#002dff 14.5px,#0072ff 23.5px,#00bcff 29.0px,#00fdff 38.0px,#56ffa9 48.5px,#fffe00 76.5px,#ffaf00 96.0px,#ff4e00 114.5px,#ff0100 133.5px,#cf0000 151.0px,#b50000 166.5px,#b00000 194.3px,#bc0000 211.8px,#e90000 232.3px,#ff0200 239.8px,#ff5a00 260.8px,#ffc400 281.3px,#feff01 296.8px,#48ffb7 326.3px,#00fdff 334.8px,#00bcff 343.8px,#0095ff 346.8px,#006dff 349.8px,#0019ff 361.3px,#0000fc 367.3px,#0000ea 372.8px)"></i>
<i style="left:138px;width:1px;background:linear-gradient(#0000ef 0.0px,#0003ff 6.0px,#0026ff 13.0px,#0077ff 23.5px,#00c2ff 29.0px,#00ffff 37.5px,#5bffa4 48.5px,#fffe00 76.0px,#ffa900 97.0px,#ff4e00 114.5px,#ff0000 134.0px,#d20000 150.5px,#b80000 166.5px,#b30000 194.3px,#be0000 211.8px,#eb0000 232.3px,#ff0300 239.8px,#ff5a00 260.8px,#ffc200 281.3px,#fdff02 297.3px,#4dffb2 326.3px,#00ffff 335.3px,#00c2ff 343.8px,#0099ff 346.8px,#0072ff 349.8px,#0017ff 362.3px,#0000fe 367.8px,#0000ef 372.8px)"></i>
<i style="left:139px;width:1px;background:linear-gradient(#0000f5 0.0px,#0004ff 5.5px,#0027ff 12.5px,#0067ff 21.0px,#0080ff 24.0px,#00c2ff 28.5px,#00eaff 33.5px,#03fffc 37.0px,#62ff9d 49.0px,#ffff00 75.5px,#ffa200 98.0px,#ff4e00 114.5px,#ff0100 134.0px,#d10000 152.0px,#ba0000 167.5px,#b60000 195.3px,#c20000 212.3px,#ed0000 232.8px,#ff0300 239.3px,#ff5500 259.8px,#ffc000 281.3px,#fdff02 297.8px,#51ffae 326.3px,#00feff 336.3px,#00c7ff 343.8px,#009eff 346.8px,#007bff 349.3px,#001bff 362.3px,#0000fe 368.8px,#0000f5 372.8px)"></i>
<i style="left:140px;width:1px;background:linear-gradient(#0000fa 0.0px,#0004ff 4.5px,#0024ff 11.5px,#0067ff 20.0px,#0085ff 24.0px,#00c7ff 28.5px,#00f0ff 33.5px,#02fffd 36.0px,#6aff95 49.5px,#fffd00 75.5px,#ff9e00 98.5px,#ff4e00 114.5px,#ff0200 134.0px,#d00000 154.0px,#be0000 169.0px,#bb0000 196.8px,#c70000 213.3px,#f10000 233.3px,#ff0400 239.3px,#ff5500 259.8px,#ffbe00 281.3px,#fcff03 298.3px,#59ffa6 325.8px,#02fffd 336.8px,#00d1ff 343.3px,#00aaff 346.3px,#007fff 349.3px,#0045ff 357.3px,#001eff 362.3px,#0001ff 369.3px,#0000fa 372.8px)"></i>
<i style="left:141px;width:1px;background:linear-gradient(#0000ff 0.0px,#0011ff 7.0px,#0034ff 13.0px,#0067ff 19.0px,#0084ff 23.5px,#00afff 26.5px,#00d7ff 29.5px,#01fffe 35.0px,#72ff8d 50.0px,#fffd00 75.0px,#ff9b00 99.0px,#ff4c00 115.0px,#ff0500 133.5px,#f70000 138.0px,#cf0000 157.5px,#c10000 173.0px,#c20000 201.8px,#d10000 216.8px,#f80000 235.3px,#ff0500 239.3px,#ff5000 258.8px,#ffbc00 281.3px,#feff01 298.3px,#61ff9e 325.3px,#01fffe 337.8px,#00d7ff 343.3px,#00afff 346.3px,#0084ff 349.3px,#0050ff 356.8px,#0026ff 361.8px,#0009ff 368.3px,#0000ff 372.8px)"></i>
<i style="left:142px;width:1px;background:linear-gradient(#0007ff 0.0px,#0017ff 7.0px,#0037ff 12.5px,#006fff 19.0px,#008bff 23.5px,#00b5ff 26.5px,#00dcff 29.5px,#00ffff 34.0px,#79ff86 50.5px,#fffe00 74.5px,#ff9700 99.5px,#ff4a00 115.5px,#ff0600 133.5px,#fa0000 137.5px,#d40000 157.5px,#c70000 174.5px,#ca0000 205.3px,#e10000 223.8px,#ff0300 238.3px,#ff3d00 254.3px,#ff8700 270.3px,#ffbe00 282.3px,#feff01 298.8px,#6cff93 324.3px,#00ffff 338.8px,#00d7ff 343.8px,#00adff 346.8px,#008bff 349.3px,#005cff 356.3px,#002cff 361.8px,#0011ff 367.8px,#0007ff 372.8px)"></i>
<i style="left:143px;width:1px;background:linear-gradient(#000fff 0.0px,#0021ff 7.0px,#0045ff 13.0px,#0079ff 19.0px,#0099ff 24.0px,#00dcff 29.0px,#02fffd 33.5px,#7eff81 50.5px,#fdff02 73.5px,#ff9600 99.5px,#ff4a00 115.5px,#ff0800 133.0px,#fb0000 138.0px,#d60000 160.0px,#cc0000 184.0px,#d50000 211.8px,#f90000 234.3px,#ff0500 238.8px,#ff3b00 253.8px,#ff8600 270.3px,#ffbc00 282.3px,#fdff02 299.3px,#7aff85 322.8px,#00fdff 339.8px,#00d7ff 344.3px,#0099ff 348.8px,#0066ff 356.3px,#0036ff 361.8px,#0018ff 368.3px,#000fff 372.8px)"></i>
<i style="left:144px;width:1px;background:linear-gradient(#0019ff 0.0px,#002dff 7.0px,#0051ff 13.0px,#0083ff 19.0px,#00a3ff 24.0px,#00e6ff 29.5px,#00ffff 32.5px,#82ff7d 50.5px,#f3ff0c 71.0px,#fffc00 74.0px,#ff8f00 100.5px,#ff4800 116.0px,#ff0b00 132.5px,#fc0000 138.5px,#da0000 162.5px,#d40000 195.3px,#df0000 215.3px,#ff0300 237.3px,#ff2a00 249.3px,#ff7d00 268.8px,#ffb400 280.8px,#fdff02 299.8px,#8bff74 320.8px,#3bffc4 332.3px,#00ffff 340.3px,#00d6ff 344.8px,#009eff 349.3px,#0071ff 356.3px,#0040ff 362.3px,#0021ff 368.8px,#0019ff 372.8px)"></i>
<i style="left:145px;width:1px;background:linear-gradient(#0022ff 0.0px,#0039ff 7.0px,#0063ff 13.5px,#0092ff 19.5px,#00adff 24.0px,#00f0ff 30.0px,#01fffe 32.0px,#83ff7c 50.0px,#eaff15 68.5px,#fffc00 73.5px,#ff8e00 100.5px,#ff4600 116.5px,#ff0b00 132.5px,#fc0000 139.5px,#de0000 165.0px,#dd0000 203.3px,#ef0000 224.3px,#ff0300 236.3px,#ff2200 247.3px,#ff7c00 268.8px,#ffb200 280.8px,#feff01 300.3px,#99ff66 319.3px,#44ffbb 331.8px,#00fcff 341.3px,#00d0ff 345.8px,#00a9ff 349.3px,#0079ff 356.8px,#004aff 362.8px,#0028ff 370.3px,#0022ff 372.8px)"></i>
<i style="left:146px;width:1px;background:linear-gradient(#002cff 0.0px,#0046ff 7.0px,#0074ff 14.0px,#00a0ff 20.0px,#00bdff 24.5px,#00fdff 31.0px,#88ff77 50.0px,#e6ff19 67.0px,#fffc00 73.0px,#ff8b00 101.0px,#ff4400 117.0px,#ff0e00 132.0px,#fc0000 141.0px,#e40000 167.0px,#e50000 208.8px,#ff0300 235.3px,#ff1d00 245.8px,#ff7900 268.3px,#ffaf00 280.3px,#feff01 300.8px,#a3ff5c 318.3px,#46ffb9 332.3px,#00fdff 341.8px,#00b1ff 349.8px,#0084ff 356.8px,#0051ff 363.8px,#002fff 371.3px,#002cff 372.8px)"></i>
<i style="left:147px;width:1px;background:linear-gradient(#0036ff 0.0px,#0055ff 7.5px,#008cff 15.5px,#00cbff 25.0px,#02fffd 31.0px,#76ff89 46.5px,#d4ff2b 62.5px,#fffd00 72.0px,#ffa900 93.5px,#ff4000 118.0px,#ff0e00 132.0px,#fc0000 143.0px,#ea0000 169.0px,#ed0000 212.3px,#ff0300 234.3px,#ff1a00 244.8px,#ff7800 268.3px,#ffad00 280.3px,#fcff03 301.8px,#aaff55 317.8px,#48ffb7 332.8px,#00fdff 342.3px,#00bcff 349.8px,#008cff 357.3px,#0055ff 365.3px,#0036ff 372.8px)"></i>
<i style="left:148px;width:1px;background:linear-gradient(#0040ff 0.0px,#0062ff 7.5px,#00beff 21.5px,#00eeff 28.0px,#03fffc 30.5px,#66ff99 43.5px,#c8ff37 59.5px,#ffff00 71.0px,#ffab00 92.5px,#ff7300 105.5px,#ff1400 130.0px,#ff0000 144.0px,#f10000 171.5px,#f50000 215.3px,#ff0400 232.8px,#ff1700 243.8px,#ff7700 268.3px,#ffab00 280.3px,#fdff02 302.3px,#b2ff4d 317.3px,#47ffb8 333.8px,#00feff 342.8px,#00c4ff 350.3px,#0091ff 358.3px,#0054ff 367.8px,#0040ff 372.8px)"></i>
<i style="left:149px;width:1px;background:linear-gradient(#0049ff 0.0px,#0072ff 8.0px,#00cfff 22.5px,#00ffff 29.5px,#65ff9a 42.5px,#caff35 59.0px,#ffff00 70.0px,#ffa900 92.5px,#ff6f00 106.0px,#ff1300 130.5px,#ff0100 147.0px,#f60000 180.5px,#fc0000 218.8px,#ff0900 235.8px,#ff1a00 244.8px,#ff7b00 269.3px,#ffaa00 280.8px,#fdff02 303.3px,#b1ff4e 318.3px,#49ffb6 334.3px,#00ffff 343.3px,#00c1ff 352.8px,#0058ff 369.3px,#0049ff 372.8px)"></i>
<i style="left:150px;width:1px;background:linear-gradient(#0054ff 0.0px,#007fff 8.0px,#00ecff 25.5px,#03fffc 29.0px,#6bff94 42.5px,#ccff33 58.5px,#fffd00 69.5px,#ffa800 92.0px,#ff7500 104.5px,#ff1500 130.0px,#ff0500 145.0px,#fc0000 173.0px,#ff0300 225.3px,#ff1400 242.3px,#ff6e00 266.8px,#ffa600 280.3px,#fff700 301.8px,#faff05 304.8px,#a7ff58 320.8px,#47ffb8 335.3px,#00feff 344.3px,#007fff 364.8px,#0054ff 372.8px)"></i>
<i style="left:151px;width:1px;background:linear-gradient(#005fff 0.0px,#008fff 8.5px,#00f8ff 26.0px,#03fffc 28.0px,#7bff84 44.0px,#dbff24 60.5px,#fffd00 68.5px,#ffa600 91.5px,#ff7700 103.5px,#ff1700 129.0px,#ff0900 140.5px,#fe0000 173.5px,#ff0400 222.3px,#ff1300 241.8px,#ff5600 261.3px,#ffa300 280.3px,#ffef00 300.8px,#fcff03 305.3px,#a3ff5c 322.3px,#49ffb6 335.8px,#03fffc 344.8px,#00d9ff 352.3px,#0062ff 371.8px,#005fff 372.8px)"></i>
<i style="left:152px;width:1px;background:linear-gradient(#006cff 0.0px,#009bff 8.5px,#00feff 25.5px,#1affe5 30.5px,#76ff89 42.5px,#cdff32 57.0px,#fffd00 67.5px,#ffa500 91.0px,#ff7800 103.0px,#ff1900 128.5px,#ff0b00 138.5px,#ff0000 174.5px,#ff0500 223.3px,#ff1300 241.8px,#ff5700 261.8px,#ffa000 280.3px,#ffe700 299.8px,#fcff03 306.3px,#9aff65 324.8px,#43ffbc 337.3px,#0dfff2 344.3px,#00fcff 347.8px,#006dff 372.3px,#006cff 372.8px)"></i>
<i style="left:153px;width:1px;background:linear-gradient(#007aff 0.0px,#00a7ff 8.5px,#00ffff 23.5px,#1dffe2 30.0px,#83ff7c 43.5px,#d6ff29 58.0px,#fffe00 66.5px,#ffa300 90.5px,#ff7800 102.5px,#ff1c00 127.5px,#ff0d00 136.0px,#ff0100 172.5px,#ff0600 223.3px,#ff1400 242.3px,#ff6b00 267.3px,#ff9d00 280.3px,#ffdf00 298.8px,#fcff03 307.3px,#97ff68 326.3px,#44ffbb 337.8px,#14ffeb 344.3px,#00fdff 349.8px,#007dff 371.8px,#007aff 372.8px)"></i>
<i style="left:154px;width:1px;background:linear-gradient(#0088ff 0.0px,#00b6ff 9.0px,#00faff 21.0px,#0afff5 23.5px,#23ffdc 30.0px,#89ff76 43.5px,#d6ff29 57.0px,#fffe00 65.5px,#ffa200 90.0px,#ff7800 102.0px,#ff1e00 126.5px,#ff0e00 135.0px,#ff0100 171.5px,#ff0600 222.8px,#ff1400 242.3px,#ff6b00 267.8px,#ff9c00 280.8px,#ffe100 300.3px,#feff01 307.8px,#99ff66 326.8px,#46ffb9 338.3px,#1dffe2 343.8px,#00feff 351.3px,#00d1ff 358.8px,#0089ff 372.3px,#0088ff 372.8px)"></i>
<i style="left:155px;width:1px;background:linear-gradient(#0097ff 0.0px,#00c1ff 9.0px,#01fffe 20.5px,#18ffe7 24.5px,#29ffd6 30.0px,#92ff6d 44.0px,#ddff22 57.5px,#fffc00 65.0px,#ffa000 89.5px,#ff7600 102.0px,#ff1c00 127.0px,#ff0d00 135.5px,#ff0200 173.0px,#ff0600 223.3px,#ff1300 242.3px,#ff6900 267.8px,#ff9900 280.8px,#ffdb00 299.8px,#fdff02 308.8px,#9cff63 327.3px,#4cffb3 338.3px,#24ffdb 343.8px,#0ffff0 350.3px,#00fcff 352.8px,#00a0ff 370.3px,#0097ff 372.8px)"></i>
<i style="left:156px;width:1px;background:linear-gradient(#00a5ff 0.0px,#00cdff 9.0px,#03fffc 19.5px,#20ffdf 24.0px,#2fffd0 30.0px,#9bff64 44.5px,#e6ff19 58.5px,#fffc00 64.0px,#ffa600 86.5px,#ff7800 101.0px,#ff2b00 122.5px,#ff1000 132.5px,#ff0200 168.5px,#ff0600 222.8px,#ff1300 242.3px,#ff6900 268.3px,#ff9600 280.8px,#ffd300 298.8px,#fdff02 309.8px,#9fff60 327.8px,#51ffae 338.3px,#2dffd2 343.3px,#19ffe6 350.3px,#00feff 353.8px,#00a8ff 371.8px,#00a5ff 372.8px)"></i>
<i style="left:157px;width:1px;background:linear-gradient(#00b4ff 0.0px,#00d6ff 8.5px,#02fffd 18.0px,#28ffd7 23.5px,#35ffca 30.0px,#a1ff5e 44.5px,#e3ff1c 57.0px,#fffd00 63.0px,#ffb400 81.5px,#ff7200 102.0px,#ff1a00 127.5px,#ff0d00 136.5px,#ff0200 175.5px,#ff0700 223.8px,#ff1300 242.3px,#ff6900 268.8px,#ff9500 281.3px,#ffd500 300.3px,#fcff03 310.8px,#a5ff5a 327.8px,#57ffa8 338.3px,#33ffcc 343.3px,#23ffdc 350.3px,#00feff 355.3px,#00b5ff 372.3px,#00b4ff 372.8px)"></i>
<i style="left:158px;width:1px;background:linear-gradient(#00c2ff 0.0px,#00e2ff 8.5px,#02fffd 16.0px,#1affe5 20.0px,#32ffcd 23.5px,#3bffc4 30.0px,#65ff9a 35.5px,#b7ff48 47.0px,#fffd00 62.0px,#ffbf00 77.5px,#ff8c00 93.5px,#ff1d00 126.5px,#ff0e00 135.0px,#ff0300 174.5px,#ff0700 223.3px,#ff1300 242.3px,#ff6800 268.8px,#ff9200 281.3px,#ffcf00 299.8px,#feff01 311.3px,#abff54 327.8px,#5dffa2 338.3px,#3bffc4 342.8px,#34ffcb 347.8px,#2affd5 350.8px,#06fff9 355.8px,#00faff 358.8px,#00c4ff 371.8px,#00c2ff 372.8px)"></i>
<i style="left:159px;width:1px;background:linear-gradient(#00d1ff 0.0px,#00edff 8.5px,#01fffe 13.0px,#17ffe8 18.5px,#3bffc4 23.5px,#40ffbf 29.5px,#5effa1 34.0px,#aaff55 44.0px,#dcff23 53.5px,#fffe00 61.0px,#ffc400 75.0px,#ff8e00 92.0px,#ff5c00 106.5px,#ff1300 130.5px,#ff0500 157.0px,#ff0600 219.3px,#ff1300 242.3px,#ff6800 269.3px,#ff9000 281.8px,#ffcf00 300.8px,#feff01 312.3px,#b0ff4f 327.8px,#63ff9c 338.3px,#42ffbd 342.8px,#3dffc2 346.8px,#39ffc6 349.8px,#0ffff0 355.8px,#00fdff 360.8px,#00d2ff 371.8px,#00d1ff 372.8px)"></i>
<i style="left:160px;width:1px;background:linear-gradient(#00dfff 0.0px,#00f9ff 8.5px,#07fff8 11.5px,#20ffdf 18.5px,#43ffbc 23.0px,#45ffba 26.5px,#49ffb6 30.0px,#6dff92 35.0px,#c2ff3d 47.0px,#fffc00 60.5px,#ffc300 74.0px,#ff8c00 91.5px,#ff6200 104.5px,#ff1300 130.5px,#ff0500 159.5px,#ff0700 220.3px,#ff1300 242.3px,#ff6600 269.3px,#ff8d00 281.8px,#ffc900 300.3px,#fdff02 313.3px,#baff45 327.3px,#69ff96 338.3px,#49ffb6 342.8px,#45ffba 346.3px,#43ffbc 349.8px,#1affe5 355.3px,#00fdff 363.3px,#00e0ff 372.3px,#00dfff 372.8px)"></i>
<i style="left:161px;width:1px;background:linear-gradient(#00ecff 0.0px,#03fffc 8.0px,#28ffd7 18.5px,#4cffb3 23.0px,#4effb1 26.0px,#4effb1 29.5px,#6bff94 34.0px,#c2ff3d 46.0px,#fffd00 59.5px,#ffc300 73.0px,#ff8a00 91.0px,#ff6200 104.0px,#ff1300 130.5px,#ff0400 162.0px,#ff0700 220.8px,#ff1400 242.8px,#ff6500 269.8px,#ff8b00 282.3px,#ffc800 301.3px,#fdff02 314.3px,#bfff40 327.3px,#6bff94 338.8px,#4effb1 343.3px,#4cffb3 349.8px,#23ffdc 355.3px,#00fcff 366.3px,#00ecff 372.8px)"></i>
<i style="left:162px;width:1px;background:linear-gradient(#00f6ff 0.0px,#03fffc 5.5px,#30ffcf 18.5px,#53ffac 23.0px,#55ffaa 26.0px,#55ffaa 29.5px,#71ff8e 34.0px,#cbff34 46.5px,#fffd00 58.5px,#ffc100 72.5px,#ff8800 90.5px,#ff6200 103.5px,#ff1300 130.5px,#ff0400 165.0px,#ff0800 221.8px,#ff1400 242.8px,#ff6300 269.8px,#ff8800 282.3px,#ffc200 300.8px,#fcff03 315.3px,#c5ff3a 327.3px,#59ffa6 342.3px,#53ffac 345.8px,#55ffaa 349.3px,#3bffc4 352.8px,#26ffd9 356.3px,#00feff 368.8px,#00f6ff 372.8px)"></i>
<i style="left:163px;width:1px;background:linear-gradient(#00faff 0.0px,#04fffb 4.5px,#34ffcb 18.5px,#58ffa7 23.5px,#5cffa3 29.5px,#7bff84 34.5px,#d3ff2c 47.0px,#fffe00 57.5px,#ffbd00 72.5px,#ff8600 90.5px,#ff6000 103.5px,#ff1300 130.5px,#ff0400 167.0px,#ff0900 222.3px,#ff1300 242.8px,#ff6300 270.3px,#ff8800 283.3px,#ffc800 303.3px,#fcff03 316.3px,#caff35 327.3px,#60ff9f 342.3px,#59ffa6 345.8px,#58ffa7 349.3px,#2dffd2 355.8px,#00feff 370.3px,#00faff 372.8px)"></i>
<i style="left:164px;width:1px;background:linear-gradient(#00f7ff 0.0px,#04fffb 5.0px,#36ffc9 18.5px,#58ffa7 23.5px,#62ff9d 30.0px,#99ff66 38.0px,#dbff24 48.0px,#fffe00 57.0px,#ffbb00 72.5px,#ff8400 90.5px,#ff5f00 103.5px,#ff1200 130.5px,#ff0500 169.0px,#ff0900 222.3px,#ff1300 242.8px,#ff6200 270.3px,#ff8800 283.8px,#ffc800 303.8px,#fcff03 316.8px,#cdff32 327.3px,#64ff9b 342.3px,#5bffa4 346.3px,#56ffa9 349.8px,#2effd1 355.8px,#00fdff 369.8px,#00f7ff 372.8px)"></i>
<i style="left:165px;width:1px;background:linear-gradient(#00f1ff 0.0px,#03fffc 6.0px,#34ffcb 18.5px,#56ffa9 23.5px,#62ff9d 30.0px,#a6ff59 40.0px,#daff25 48.0px,#fffc00 57.5px,#ffb800 73.5px,#ff8300 91.0px,#ff5a00 105.0px,#ff1200 130.5px,#ff0500 169.5px,#ff0900 222.3px,#ff1300 242.8px,#ff6200 270.3px,#ff8900 284.3px,#ffcb00 304.3px,#feff01 316.3px,#ccff33 327.3px,#64ff9b 342.3px,#5affa5 347.3px,#4effb1 350.8px,#2cffd3 355.8px,#00fdff 368.3px,#00f1ff 372.8px)"></i>
<i style="left:166px;width:1px;background:linear-gradient(#00eaff 0.0px,#02fffd 7.0px,#30ffcf 18.5px,#53ffac 23.5px,#61ff9e 30.5px,#d6ff29 48.0px,#fffc00 58.0px,#ffb500 75.0px,#ff8200 92.0px,#ff1500 129.0px,#ff0b00 143.0px,#ff0500 186.0px,#ff0b00 229.3px,#ff1400 243.3px,#ff6500 270.8px,#ffb300 297.3px,#fff700 313.8px,#f9ff06 316.8px,#c8ff37 327.3px,#61ff9e 342.3px,#57ffa8 347.3px,#4bffb4 350.8px,#28ffd7 355.8px,#00fdff 366.8px,#00eaff 372.8px)"></i>
<i style="left:167px;width:1px;background:linear-gradient(#00e3ff 0.0px,#03fffc 8.5px,#2cffd3 18.5px,#50ffaf 23.5px,#5dffa2 30.5px,#d2ff2d 48.0px,#fffd00 58.5px,#ffb100 77.0px,#ff5d00 104.5px,#ff1300 130.5px,#ff0400 167.0px,#ff0900 222.3px,#ff1300 242.8px,#ff6400 270.3px,#ffba00 298.3px,#fdff02 315.3px,#c3ff3c 327.3px,#5dffa2 342.3px,#54ffab 347.3px,#4cffb3 350.3px,#24ffdb 355.8px,#00fcff 365.8px,#00e3ff 372.8px)"></i>
<i style="left:168px;width:1px;background:linear-gradient(#00dcff 0.0px,#01fffe 9.0px,#28ffd7 18.5px,#4dffb2 23.5px,#58ffa7 30.5px,#cfff30 48.5px,#fffe00 59.0px,#ffad00 79.0px,#ff6000 104.0px,#ff1300 130.5px,#ff0400 164.5px,#ff0800 221.8px,#ff1400 242.8px,#ff6600 270.3px,#ffbf00 298.8px,#feff01 314.3px,#beff41 327.3px,#58ffa7 342.3px,#50ffaf 347.3px,#48ffb7 350.3px,#20ffdf 355.8px,#00fcff 364.8px,#00dcff 372.8px)"></i>
<i style="left:169px;width:1px;background:linear-gradient(#00d5ff 0.0px,#01fffe 10.0px,#24ffdb 18.5px,#48ffb7 23.0px,#53ffac 30.5px,#cdff32 49.0px,#fffd00 60.0px,#ffa900 81.0px,#ff6300 103.5px,#ff1300 130.5px,#ff0400 162.0px,#ff0700 220.8px,#ff1400 242.8px,#ff6700 270.3px,#ffc200 298.8px,#fdff02 313.8px,#b9ff46 327.3px,#53ffac 342.3px,#4dffb2 346.8px,#48ffb7 349.8px,#1bffe4 355.8px,#00fcff 363.8px,#00d5ff 372.8px)"></i>
<i style="left:170px;width:1px;background:linear-gradient(#00cdff 0.0px,#02fffd 11.0px,#1fffe0 18.5px,#45ffba 23.0px,#49ffb6 27.0px,#51ffae 31.0px,#cbff34 49.5px,#fffe00 60.5px,#ffaa00 81.5px,#ff6300 104.0px,#ff1300 130.5px,#ff0500 159.5px,#ff0700 220.3px,#ff1300 242.3px,#ff6700 269.8px,#ffc700 299.3px,#feff01 312.8px,#b7ff48 326.8px,#4fffb0 342.3px,#49ffb6 346.8px,#45ffba 349.8px,#19ffe6 355.3px,#00fcff 362.8px,#00cdff 372.8px)"></i>
<i style="left:171px;width:1px;background:linear-gradient(#00c6ff 0.0px,#01fffe 12.0px,#1affe5 18.5px,#41ffbe 23.0px,#45ffba 26.5px,#4affb5 30.5px,#ccff33 50.5px,#fffd00 61.5px,#ffaa00 82.5px,#ff6400 104.0px,#ff1300 130.5px,#ff0500 157.5px,#ff0600 219.8px,#ff1300 242.3px,#ff6600 269.3px,#ffcb00 299.3px,#fcff03 312.3px,#b5ff4a 326.3px,#4affb5 342.3px,#45ffba 346.3px,#41ffbe 349.8px,#14ffeb 355.3px,#00fcff 361.8px,#00c6ff 372.8px)"></i>
<i style="left:172px;width:1px;background:linear-gradient(#00bdff 0.0px,#00feff 13.0px,#15ffea 18.5px,#3cffc3 23.0px,#40ffbf 26.5px,#46ffb9 30.5px,#9fff60 44.0px,#e4ff1b 56.0px,#fffd00 62.5px,#ffad00 82.5px,#ff6300 104.5px,#ff1300 130.5px,#ff0500 155.5px,#ff0600 219.3px,#ff1300 242.3px,#ff6700 269.3px,#ffce00 299.3px,#fdff02 311.3px,#bcff43 324.3px,#46ffb9 342.3px,#41ffbe 346.8px,#3cffc3 349.8px,#0ffff0 355.3px,#00fcff 360.3px,#00bdff 372.8px)"></i>
<i style="left:173px;width:1px;background:linear-gradient(#00b2ff 0.0px,#00f6ff 13.5px,#05fffa 17.0px,#23ffdc 21.0px,#37ffc8 24.0px,#43ffbc 30.5px,#96ff69 43.5px,#e1ff1e 56.0px,#fffd00 63.5px,#ffaf00 82.5px,#ff6300 105.0px,#ff1300 130.5px,#ff0500 154.0px,#ff0500 218.8px,#ff1300 242.3px,#ff6900 269.3px,#ffd100 299.3px,#fdff02 310.3px,#c6ff39 321.8px,#43ffbc 342.3px,#33ffcc 349.8px,#07fff8 355.3px,#00fcff 357.8px,#00d0ff 367.3px,#00b2ff 372.8px)"></i>
<i style="left:174px;width:1px;background:linear-gradient(#00a5ff 0.0px,#00ffff 18.0px,#2affd5 24.0px,#4bffb4 32.5px,#d8ff27 55.0px,#fffe00 64.0px,#ffb200 82.5px,#ff6200 105.5px,#ff1300 130.5px,#ff0500 152.5px,#ff0300 214.3px,#ff1100 241.3px,#ff4500 258.8px,#ffd500 299.3px,#feff01 309.3px,#caff35 320.3px,#48ffb7 340.8px,#22ffdd 350.3px,#00ffff 354.8px,#00aeff 370.8px,#00a5ff 372.8px)"></i>
<i style="left:175px;width:1px;background:linear-gradient(#0095ff 0.0px,#01fffe 20.0px,#43ffbc 31.5px,#7dff82 41.5px,#d7ff28 55.5px,#fffe00 65.0px,#ffb500 82.5px,#ff6000 106.5px,#ff1300 130.5px,#ff0500 151.5px,#ff0200 211.3px,#ff1100 240.8px,#ff3100 252.3px,#ff7b00 273.3px,#ffd600 298.8px,#feff01 308.3px,#cbff34 319.3px,#53ffac 338.3px,#0bfff4 351.3px,#00fcff 353.3px,#0095ff 372.8px)"></i>
<i style="left:176px;width:1px;background:linear-gradient(#0085ff 0.0px,#00d0ff 14.5px,#03fffc 23.0px,#38ffc7 30.0px,#71ff8e 40.5px,#d2ff2d 55.5px,#fffe00 66.0px,#ffba00 82.0px,#ff6100 106.5px,#ff1300 130.5px,#ff0500 150.5px,#ff0100 207.3px,#ff0f00 239.8px,#ff2800 249.3px,#ff7b00 272.8px,#ffdc00 299.3px,#fdff02 307.3px,#caff35 318.8px,#53ffac 337.3px,#28ffd7 345.3px,#00ffff 350.3px,#00a2ff 366.8px,#0085ff 372.8px)"></i>
<i style="left:177px;width:1px;background:linear-gradient(#0075ff 0.0px,#00b6ff 13.0px,#00e2ff 20.0px,#03fffc 25.0px,#2dffd2 29.0px,#6eff91 41.0px,#cfff30 56.0px,#fffc00 67.5px,#ffbf00 81.5px,#ff6900 105.0px,#ff1400 130.5px,#ff0500 150.0px,#ff0100 204.8px,#ff0e00 238.8px,#ff2300 247.8px,#ff7b00 272.3px,#ffe000 299.3px,#fdff02 306.3px,#c7ff38 318.3px,#50ffaf 336.8px,#29ffd6 344.3px,#00fdff 348.3px,#00e2ff 352.8px,#009aff 364.8px,#0075ff 372.8px)"></i>
<i style="left:178px;width:1px;background:linear-gradient(#0064ff 0.0px,#009eff 12.0px,#00cfff 19.0px,#00e8ff 24.0px,#02fffd 26.0px,#22ffdd 28.5px,#41ffbe 34.0px,#6bff94 41.5px,#ccff33 56.5px,#fffc00 68.5px,#ffc500 81.0px,#ff7100 103.5px,#ff1500 130.0px,#ff0600 146.5px,#ff0000 187.3px,#ff0600 226.8px,#ff1500 242.8px,#ff7100 269.3px,#ffe600 299.8px,#fdff02 305.3px,#beff41 318.8px,#4affb5 336.8px,#26ffd9 343.8px,#09fff6 346.3px,#00faff 347.3px,#00e0ff 349.8px,#00c0ff 356.3px,#0092ff 362.8px,#0064ff 372.8px)"></i>
<i style="left:179px;width:1px;background:linear-gradient(#0055ff 0.0px,#0086ff 11.0px,#00beff 18.5px,#00d3ff 23.5px,#00ecff 25.5px,#00fdff 26.5px,#1fffe0 29.0px,#41ffbe 35.5px,#77ff88 44.0px,#cbff34 57.5px,#fffc00 69.5px,#ffc900 81.0px,#ff7800 102.5px,#ff1900 128.5px,#ff0900 139.0px,#fe0000 169.5px,#ff0400 223.3px,#ff1200 241.8px,#ff5b00 263.3px,#ffbb00 287.8px,#ffed00 300.3px,#fdff02 304.3px,#b7ff48 318.8px,#44ffbb 336.8px,#23ffdc 343.3px,#07fff8 345.8px,#00fdff 346.3px,#00d8ff 348.8px,#00c6ff 352.3px,#00b1ff 356.3px,#0083ff 362.3px,#0055ff 372.8px)"></i>
<i style="left:180px;width:1px;background:linear-gradient(#0047ff 0.0px,#0075ff 10.5px,#00b1ff 18.5px,#00c6ff 23.5px,#00e1ff 25.5px,#00fdff 27.0px,#1cffe3 29.5px,#5bffa4 41.0px,#bfff40 56.5px,#fffe00 70.0px,#ffcd00 81.0px,#ff7f00 101.5px,#ff2200 125.5px,#ff0d00 134.0px,#fe0000 157.5px,#fe0000 216.3px,#ff0e00 239.3px,#ff2600 248.3px,#ff7f00 271.3px,#ffef00 299.8px,#fbff04 303.8px,#aeff51 319.3px,#3dffc2 336.8px,#1cffe3 343.3px,#00fdff 345.8px,#00d1ff 348.3px,#00c0ff 350.3px,#00a8ff 355.8px,#0075ff 362.3px,#0047ff 372.8px)"></i>
<i style="left:181px;width:1px;background:linear-gradient(#003cff 0.0px,#0066ff 10.0px,#0087ff 14.5px,#00a6ff 18.5px,#00bdff 23.5px,#00d8ff 25.5px,#00feff 27.5px,#1cffe3 30.5px,#52ffad 40.5px,#b9ff46 56.5px,#fffd00 71.0px,#ffcf00 81.5px,#ff8300 101.0px,#ff3700 120.0px,#ff1100 131.5px,#ff0000 150.0px,#f70000 186.0px,#fe0000 222.3px,#ff1000 240.8px,#ff3300 251.8px,#ff8100 271.3px,#ffcc00 290.3px,#fff800 300.8px,#f9ff06 303.3px,#a4ff5b 319.8px,#37ffc8 336.8px,#15ffea 343.3px,#00feff 345.3px,#00c8ff 348.3px,#00b6ff 350.3px,#009dff 355.8px,#006cff 361.8px,#003eff 372.3px,#003cff 372.8px)"></i>
<i style="left:182px;width:1px;background:linear-gradient(#0034ff 0.0px,#005eff 10.0px,#0083ff 15.0px,#00a0ff 19.0px,#00b6ff 23.5px,#00d2ff 25.5px,#00feff 28.0px,#1bffe4 31.5px,#4bffb4 40.5px,#b2ff4d 56.5px,#fffc00 72.0px,#ffd000 82.5px,#ff8800 100.5px,#ff3d00 118.5px,#ff1000 131.5px,#fe0000 147.0px,#f40000 178.5px,#fa0000 218.8px,#ff0500 233.3px,#ff1600 243.8px,#ff7800 268.8px,#ffc200 286.3px,#fff400 299.3px,#fdff02 301.8px,#98ff67 320.8px,#31ffce 336.8px,#0efff1 343.3px,#00feff 344.8px,#00bcff 348.8px,#00a8ff 351.8px,#0090ff 356.3px,#0060ff 362.3px,#0035ff 372.3px,#0034ff 372.8px)"></i>
<i style="left:183px;width:1px;background:linear-gradient(#002dff 0.0px,#0056ff 10.0px,#007fff 15.5px,#009dff 20.0px,#00b2ff 23.5px,#00ceff 25.5px,#00f7ff 28.0px,#03fffc 29.0px,#23ffdc 34.5px,#53ffac 42.5px,#b4ff4b 58.0px,#fffe00 72.5px,#ffd400 82.5px,#ff8d00 100.0px,#ff4200 117.5px,#ff0f00 131.5px,#fd0000 145.0px,#f00000 174.5px,#f60000 216.3px,#ff0300 233.3px,#ff1800 244.3px,#ff7a00 268.8px,#ffc400 285.8px,#fff600 298.8px,#fbff04 301.3px,#8eff71 321.3px,#28ffd7 337.3px,#07fff8 343.3px,#00fdff 344.3px,#00d7ff 346.8px,#00b7ff 348.8px,#00a2ff 351.8px,#0083ff 356.8px,#0059ff 362.3px,#002eff 372.3px,#002dff 372.8px)"></i>
<i style="left:184px;width:1px;background:linear-gradient(#0026ff 0.0px,#004fff 10.0px,#007bff 16.0px,#00adff 23.5px,#00d2ff 26.0px,#00f6ff 28.5px,#04fffb 30.0px,#42ffbd 41.0px,#abff54 57.5px,#fffd00 73.5px,#ffd100 84.5px,#ff8b00 101.0px,#ff4000 118.0px,#ff0f00 131.5px,#fd0000 143.0px,#ed0000 171.5px,#f10000 213.3px,#ff0300 234.3px,#ff1700 244.3px,#ff7a00 268.3px,#ffc400 284.8px,#fffa00 298.8px,#f9ff06 300.8px,#82ff7d 322.3px,#21ffde 337.3px,#00ffff 343.3px,#00e2ff 345.8px,#00b3ff 348.8px,#0099ff 352.3px,#0073ff 357.8px,#004cff 363.3px,#0026ff 372.8px)"></i>
<i style="left:185px;width:1px;background:linear-gradient(#001eff 0.0px,#0048ff 10.0px,#0077ff 16.5px,#00a9ff 23.5px,#00efff 28.5px,#00ffff 30.5px,#3cffc3 41.0px,#a5ff5a 57.5px,#fffe00 74.0px,#ff9d00 98.0px,#ff4b00 115.5px,#ff0e00 131.5px,#fd0000 141.5px,#ea0000 169.0px,#ec0000 209.8px,#ff0300 235.3px,#ff1900 244.8px,#ff7c00 268.3px,#ffc800 284.8px,#fdff02 299.3px,#72ff8d 323.8px,#1bffe4 337.3px,#00fcff 342.8px,#00e4ff 345.3px,#00a9ff 349.3px,#0048ff 362.8px,#001eff 372.8px)"></i>
<i style="left:186px;width:1px;background:linear-gradient(#0017ff 0.0px,#003eff 9.5px,#006bff 16.0px,#00a5ff 23.5px,#00e8ff 28.5px,#02fffd 32.0px,#36ffc9 41.0px,#a2ff5d 58.0px,#fffd00 75.0px,#ffa700 96.5px,#ff4e00 115.0px,#ff0e00 131.5px,#fc0000 140.5px,#e70000 167.5px,#e70000 205.8px,#fd0000 232.8px,#ff1200 242.8px,#ff7600 266.8px,#ffc800 283.8px,#fcff03 298.8px,#62ff9d 325.3px,#11ffee 337.8px,#00fbff 341.8px,#00ddff 345.3px,#00a5ff 349.3px,#0047ff 361.8px,#0018ff 372.3px,#0017ff 372.8px)"></i>
<i style="left:187px;width:1px;background:linear-gradient(#0010ff 0.0px,#0037ff 9.5px,#0063ff 16.0px,#00a1ff 23.5px,#00e2ff 28.5px,#01fffe 33.0px,#37ffc8 42.0px,#aeff51 61.0px,#fffe00 75.5px,#ffaf00 95.5px,#ff4f00 115.0px,#ff0d00 131.5px,#fc0000 139.5px,#e40000 165.5px,#e20000 201.3px,#f40000 226.8px,#ff0300 236.8px,#ff1e00 246.3px,#ff8300 268.8px,#ffce00 284.3px,#fdff02 297.8px,#55ffaa 326.3px,#0bfff4 337.8px,#00fdff 340.3px,#00ddff 344.8px,#009cff 349.8px,#0042ff 361.3px,#0013ff 371.8px,#0010ff 372.8px)"></i>
<i style="left:188px;width:1px;background:linear-gradient(#0009ff 0.0px,#0030ff 9.5px,#0060ff 16.5px,#009dff 23.5px,#00dcff 28.5px,#01fffe 34.0px,#3fffc0 44.0px,#f2ff0d 73.5px,#fffd00 76.5px,#ffb800 94.0px,#ff4d00 115.5px,#ff0c00 131.5px,#fc0000 138.5px,#e20000 163.0px,#dd0000 196.3px,#eb0000 220.8px,#ff0300 237.3px,#ff2000 246.8px,#ff8500 268.8px,#ffcf00 283.8px,#fcff03 297.3px,#4dffb2 326.8px,#03fffc 338.3px,#00e8ff 342.8px,#00cbff 345.8px,#0092ff 350.3px,#003eff 360.8px,#000dff 371.3px,#0009ff 372.8px)"></i>
<i style="left:189px;width:1px;background:linear-gradient(#0002ff 0.0px,#002cff 10.0px,#005aff 16.5px,#0099ff 23.5px,#00d9ff 28.5px,#00ffff 34.5px,#cdff32 67.5px,#ffff00 76.5px,#ffbc00 93.5px,#ff4e00 115.5px,#ff0c00 131.5px,#fc0000 138.0px,#e00000 161.0px,#d90000 192.8px,#e50000 217.8px,#ff0300 237.8px,#ff2200 247.3px,#ff8300 268.3px,#ffce00 283.3px,#fdff02 296.8px,#50ffaf 325.8px,#00ffff 338.3px,#00d9ff 344.3px,#008aff 350.8px,#0037ff 360.8px,#0006ff 371.3px,#0002ff 372.8px)"></i>
<i style="left:190px;width:1px;background:linear-gradient(#0000fa 0.0px,#0005ff 3.0px,#0031ff 12.0px,#0096ff 23.5px,#00d9ff 28.5px,#00fdff 34.0px,#28ffd7 41.0px,#bbff44 64.5px,#ffff00 76.5px,#ffbd00 93.5px,#ff4d00 115.5px,#ff0b00 131.5px,#fc0000 137.5px,#de0000 159.0px,#d40000 188.8px,#e00000 215.8px,#fd0000 235.8px,#ff1300 243.8px,#ff7b00 266.8px,#ffca00 282.3px,#fcff03 296.8px,#5affa5 324.3px,#01fffe 338.3px,#00deff 343.8px,#00b9ff 346.8px,#008cff 350.3px,#002eff 361.3px,#0000ff 371.3px,#0000fa 372.8px)"></i>
<i style="left:191px;width:1px;background:linear-gradient(#0000f5 0.0px,#0002ff 3.5px,#002dff 12.0px,#009bff 24.0px,#00dcff 28.5px,#00fdff 33.5px,#26ffd9 40.5px,#bdff42 64.5px,#ffff00 76.5px,#ffb700 94.5px,#ff4f00 115.0px,#ff0900 132.0px,#fb0000 137.0px,#dd0000 157.0px,#d10000 183.0px,#da0000 212.3px,#f70000 233.8px,#ff0400 238.8px,#ff2b00 249.8px,#ff8500 268.8px,#ffcb00 282.8px,#fdff02 296.8px,#68ff97 322.3px,#03fffc 338.3px,#00ecff 342.3px,#00d0ff 345.3px,#0095ff 349.3px,#0029ff 361.3px,#0000ff 369.8px,#0000f5 372.8px)"></i>
<i style="left:192px;width:1px;background:linear-gradient(#0000f4 0.0px,#0003ff 4.0px,#002bff 12.0px,#0078ff 20.0px,#009bff 24.0px,#00d9ff 28.0px,#00f6ff 31.5px,#04fffb 34.0px,#3dffc2 43.5px,#ecff13 72.5px,#fffd00 76.5px,#ffb200 95.5px,#ff4e00 115.0px,#ff0800 132.0px,#fb0000 136.5px,#dd0000 155.0px,#ce0000 177.5px,#d30000 206.3px,#ed0000 229.3px,#ff0300 238.8px,#ff2d00 250.3px,#ff8400 268.8px,#ffc800 282.3px,#fcff03 297.3px,#6aff95 322.3px,#09fff6 337.8px,#00fbff 340.3px,#00dfff 344.3px,#00b2ff 347.3px,#0090ff 349.8px,#0059ff 356.3px,#0028ff 361.3px,#0000fd 369.8px,#0000f4 372.8px)"></i>
<i style="left:193px;width:1px;background:linear-gradient(#0000f5 0.0px,#0003ff 3.5px,#002eff 12.0px,#0078ff 19.5px,#0098ff 23.5px,#00e2ff 28.5px,#00ffff 32.5px,#33ffcc 41.5px,#d2ff2d 67.5px,#fffe00 76.0px,#ffac00 96.5px,#ff4f00 114.5px,#ff0700 132.0px,#fa0000 136.5px,#db0000 155.0px,#cc0000 176.5px,#cf0000 204.3px,#e60000 226.3px,#ff0300 239.3px,#ff3500 252.3px,#ff8600 269.3px,#ffc700 282.3px,#fdff02 297.3px,#7cff83 319.8px,#0cfff3 337.8px,#00fcff 340.8px,#00e2ff 344.3px,#00b5ff 347.3px,#0093ff 349.8px,#005dff 356.3px,#002eff 360.8px,#0003ff 369.3px,#0000f5 372.8px)"></i>
<i style="left:194px;width:1px;background:linear-gradient(#0000fa 0.0px,#0005ff 3.0px,#0030ff 11.5px,#005dff 16.0px,#0081ff 20.0px,#00a3ff 24.0px,#00e6ff 28.5px,#00ffff 32.0px,#39ffc6 42.0px,#d7ff28 68.0px,#fffd00 76.0px,#ffa800 97.0px,#ff4e00 114.5px,#ff0700 132.0px,#f90000 136.5px,#d90000 154.5px,#ca0000 174.5px,#cb0000 201.3px,#dd0000 220.8px,#fd0000 237.8px,#ff1c00 246.8px,#ff7d00 267.8px,#ffbf00 280.8px,#fcff03 297.8px,#7fff80 319.8px,#10ffef 337.8px,#00fdff 341.3px,#00e1ff 344.8px,#009dff 349.3px,#0063ff 356.3px,#0034ff 360.8px,#0007ff 369.3px,#0000fb 372.3px,#0000fa 372.8px)"></i>
<i style="left:195px;width:1px;background:linear-gradient(#0000fe 0.0px,#002aff 9.5px,#0048ff 13.5px,#0080ff 19.0px,#00a2ff 23.5px,#00eaff 28.5px,#01fffe 31.5px,#3cffc3 42.0px,#d6ff29 67.5px,#fffe00 75.5px,#ffa500 97.5px,#ff4d00 114.5px,#ff0400 132.5px,#f60000 137.5px,#d40000 156.5px,#c60000 177.0px,#ca0000 204.8px,#e20000 225.8px,#ff0300 239.8px,#ff4200 255.8px,#ff8c00 270.8px,#ffc600 282.8px,#feff01 297.8px,#8bff74 318.3px,#13ffec 337.8px,#00fdff 341.8px,#00e4ff 344.8px,#00a2ff 349.3px,#0069ff 356.3px,#0036ff 361.3px,#0004ff 371.3px,#0000fe 372.8px)"></i>
<i style="left:196px;width:1px;background:linear-gradient(#0004ff 0.0px,#0033ff 10.0px,#0053ff 14.0px,#0086ff 19.0px,#00a7ff 23.5px,#00edff 28.5px,#01fffe 31.0px,#3fffc0 42.0px,#d6ff29 67.0px,#fffd00 75.5px,#ffa100 98.0px,#ff4c00 114.5px,#ff0300 132.5px,#e30000 145.5px,#c80000 167.0px,#c30000 194.8px,#d10000 215.3px,#f30000 234.8px,#ff0300 240.3px,#ff4f00 258.8px,#ffbc00 280.8px,#fdff02 298.3px,#8dff72 318.3px,#16ffe9 337.8px,#00fdff 342.3px,#00e2ff 345.3px,#00a7ff 349.3px,#0075ff 355.8px,#003cff 361.3px,#0007ff 371.8px,#0004ff 372.8px)"></i>
<i style="left:197px;width:1px;background:linear-gradient(#000aff 0.0px,#0039ff 10.0px,#005aff 14.0px,#0089ff 18.5px,#00adff 23.5px,#00f1ff 28.5px,#02fffd 30.5px,#45ffba 42.5px,#d5ff2a 66.5px,#fffe00 75.0px,#ff9e00 98.5px,#ff4b00 114.5px,#ff0300 132.5px,#d50000 153.0px,#c40000 170.5px,#c20000 197.3px,#cf0000 215.8px,#f20000 234.8px,#ff0300 240.3px,#ff5000 259.3px,#ffb900 280.3px,#feff01 298.3px,#96ff69 317.3px,#19ffe6 337.8px,#00fdff 342.8px,#00e6ff 345.3px,#00adff 349.3px,#007bff 355.8px,#0043ff 361.3px,#000cff 371.8px,#000aff 372.8px)"></i>
<i style="left:198px;width:1px;background:linear-gradient(#000fff 0.0px,#003fff 10.0px,#0060ff 14.0px,#008fff 18.5px,#00b7ff 24.0px,#00f5ff 28.5px,#02fffd 30.0px,#4bffb4 43.0px,#d7ff28 66.5px,#fffc00 75.0px,#ff9d00 98.5px,#ff4a00 114.5px,#ff0200 132.5px,#d60000 151.5px,#c20000 169.0px,#bf0000 196.3px,#cc0000 214.8px,#f00000 234.3px,#ff0300 240.8px,#ff5a00 261.8px,#ffb600 279.8px,#fdff02 298.8px,#98ff67 317.3px,#1cffe3 337.8px,#00fdff 343.3px,#00e3ff 345.8px,#00b2ff 349.3px,#0082ff 355.8px,#0049ff 361.3px,#0012ff 371.8px,#000fff 372.8px)"></i>
<i style="left:199px;width:1px;background:linear-gradient(#0014ff 0.0px,#0045ff 10.0px,#0067ff 14.0px,#0095ff 18.5px,#00bcff 24.0px,#00f8ff 28.5px,#05fffa 30.0px,#51ffae 43.5px,#d7ff28 66.0px,#fffd00 74.5px,#ff9c00 98.5px,#ff4a00 114.5px,#ff0100 132.5px,#d60000 150.0px,#c00000 168.0px,#bc0000 195.8px,#c90000 214.3px,#ed0000 233.8px,#ff0200 240.8px,#ff5a00 261.8px,#ffb500 279.8px,#fcff03 299.3px,#9bff64 317.3px,#20ffdf 337.8px,#00fdff 343.8px,#00dfff 346.3px,#00b7ff 349.3px,#0088ff 355.8px,#004fff 361.3px,#0017ff 371.8px,#0014ff 372.8px)"></i>
<i style="left:200px;width:1px;background:linear-gradient(#0019ff 0.0px,#004bff 10.0px,#006dff 14.0px,#009bff 18.5px,#00c1ff 24.0px,#00fcff 28.5px,#57ffa8 44.0px,#d9ff26 66.0px,#fffe00 74.0px,#ff9800 99.0px,#ff4900 114.5px,#ff0000 132.5px,#d60000 149.0px,#bd0000 167.5px,#b90000 195.3px,#c60000 213.8px,#ec0000 233.8px,#ff0300 241.3px,#ff6000 263.3px,#ffb100 279.3px,#feff01 299.3px,#a1ff5e 316.8px,#23ffdc 337.8px,#00fcff 344.3px,#00bcff 349.3px,#008fff 355.8px,#0056ff 361.3px,#001cff 371.8px,#0019ff 372.8px)"></i>
<i style="left:201px;width:1px;background:linear-gradient(#001eff 0.0px,#0052ff 10.0px,#0074ff 14.0px,#00a2ff 18.5px,#00c6ff 24.0px,#01fffe 28.5px,#22ffdd 34.0px,#66ff99 46.0px,#dbff24 66.0px,#fffc00 74.0px,#ff9700 99.0px,#ff4800 114.5px,#ff0100 132.0px,#d40000 149.5px,#bb0000 167.5px,#b70000 195.3px,#c40000 213.8px,#eb0000 233.8px,#ff0200 241.3px,#ff5f00 263.3px,#ffb000 279.3px,#fdff02 299.8px,#a3ff5c 316.8px,#26ffd9 337.8px,#05fffa 343.8px,#00fbff 344.8px,#00c1ff 349.3px,#0095ff 355.8px,#005cff 361.3px,#0021ff 371.8px,#001eff 372.8px)"></i>
<i style="left:202px;width:1px;background:linear-gradient(#0023ff 0.0px,#0058ff 10.0px,#007aff 14.0px,#00a8ff 18.5px,#00cbff 24.0px,#00feff 28.0px,#20ffdf 33.0px,#5cffa3 44.0px,#d8ff27 65.0px,#fffd00 73.5px,#ff9600 99.0px,#ff4700 114.5px,#ff0000 132.0px,#d40000 148.5px,#b90000 166.5px,#b40000 194.3px,#c00000 212.8px,#e90000 233.3px,#ff0300 241.8px,#ff6300 264.3px,#ffad00 278.8px,#fcff03 300.3px,#a6ff59 316.8px,#2cffd3 337.3px,#08fff7 343.8px,#00feff 344.8px,#00c6ff 349.3px,#009bff 355.8px,#0062ff 361.3px,#0026ff 371.8px,#0023ff 372.8px)"></i>
<i style="left:203px;width:1px;background:linear-gradient(#0028ff 0.0px,#005eff 10.0px,#0081ff 14.0px,#00aeff 18.5px,#00d0ff 24.0px,#00fdff 27.5px,#21ffde 32.5px,#5cffa3 43.5px,#d8ff27 64.5px,#fffe00 73.0px,#ff9500 99.0px,#ff4800 114.0px,#fe0000 132.0px,#d10000 149.0px,#b70000 166.5px,#b20000 194.3px,#be0000 212.8px,#e80000 233.3px,#ff0300 241.8px,#ff6200 264.3px,#ffac00 278.8px,#feff01 300.3px,#abff54 316.3px,#2fffd0 337.3px,#0cfff3 343.8px,#00fdff 345.3px,#00ccff 349.3px,#00a2ff 355.8px,#0069ff 361.3px,#002bff 371.8px,#0028ff 372.8px)"></i>
<i style="left:204px;width:1px;background:linear-gradient(#002dff 0.0px,#0064ff 10.0px,#0087ff 14.0px,#00b4ff 18.5px,#00d5ff 24.0px,#01fffe 27.5px,#1fffe0 31.5px,#5fffa0 43.5px,#d7ff28 64.0px,#fffc00 73.0px,#ff9400 99.0px,#ff4700 114.0px,#fe0000 132.0px,#d10000 149.0px,#b60000 166.5px,#b10000 194.8px,#bd0000 212.8px,#e60000 232.8px,#ff0200 241.8px,#ff6100 264.3px,#ffab00 278.8px,#fdff02 300.8px,#aeff51 316.3px,#32ffcd 337.3px,#10ffef 343.8px,#01fffe 345.3px,#00d1ff 349.3px,#00a8ff 355.8px,#006bff 361.8px,#002eff 372.3px,#002dff 372.8px)"></i>
<i style="left:205px;width:1px;background:linear-gradient(#0032ff 0.0px,#006aff 10.0px,#0093ff 14.5px,#00bbff 18.5px,#00daff 24.0px,#00ffff 27.0px,#1dffe2 30.5px,#64ff9b 44.0px,#d7ff28 63.5px,#fffd00 72.5px,#ff9100 99.5px,#ff4500 114.5px,#fe0000 132.0px,#d10000 149.0px,#b60000 166.5px,#b20000 195.3px,#bd0000 212.8px,#e70000 233.3px,#ff0200 241.8px,#ff6000 264.3px,#ffa800 278.3px,#fdff02 301.3px,#aeff51 316.8px,#35ffca 337.3px,#13ffec 343.8px,#00ffff 345.8px,#00d6ff 349.3px,#00afff 355.8px,#0071ff 361.8px,#0033ff 372.3px,#0032ff 372.8px)"></i>
<i style="left:206px;width:1px;background:linear-gradient(#0037ff 0.0px,#0071ff 10.0px,#009aff 14.5px,#00c1ff 18.5px,#00e0ff 24.0px,#04fffb 27.0px,#21ffde 30.5px,#67ff98 44.0px,#d9ff26 63.5px,#fffd00 72.0px,#ff9000 99.5px,#ff4500 114.5px,#ff0000 132.0px,#d20000 149.0px,#b70000 166.5px,#b30000 195.8px,#be0000 212.8px,#e80000 233.3px,#ff0300 241.8px,#ff6000 264.3px,#ffa600 278.3px,#fcff03 301.8px,#b0ff4f 316.8px,#3bffc4 336.8px,#17ffe8 343.8px,#00fcff 346.3px,#00dbff 349.3px,#00b5ff 355.8px,#0078ff 361.8px,#0039ff 372.3px,#0037ff 372.8px)"></i>
<i style="left:207px;width:1px;background:linear-gradient(#003eff 0.0px,#0078ff 10.0px,#00a1ff 14.5px,#00c8ff 18.5px,#00e6ff 24.0px,#02fffd 26.5px,#21ffde 30.0px,#70ff8f 45.0px,#d9ff26 63.0px,#fffe00 71.5px,#ffa900 93.5px,#ff7900 103.5px,#ff3000 119.5px,#fe0000 132.5px,#d20000 149.5px,#b90000 166.5px,#b60000 197.3px,#c20000 213.8px,#ea0000 233.8px,#ff0300 241.8px,#ff6200 264.8px,#ffa500 278.3px,#fff700 299.8px,#faff05 302.8px,#adff52 317.8px,#3effc1 336.8px,#1bffe4 343.8px,#02fffd 346.3px,#00deff 349.8px,#00c0ff 355.3px,#007fff 361.8px,#0040ff 372.3px,#003eff 372.8px)"></i>
<i style="left:208px;width:1px;background:linear-gradient(#0047ff 0.0px,#0085ff 10.5px,#00b0ff 15.0px,#00cfff 18.5px,#00edff 24.0px,#02fffd 26.0px,#23ffdc 29.5px,#7aff85 46.0px,#dcff23 63.0px,#fffd00 71.0px,#ffaa00 92.5px,#ff8000 102.0px,#ff3c00 116.5px,#fe0000 132.5px,#d40000 149.5px,#bb0000 167.0px,#b90000 198.8px,#c40000 214.3px,#eb0000 233.8px,#ff0200 241.3px,#ff5f00 264.3px,#ffa300 278.3px,#ffed00 297.8px,#fdff02 302.8px,#b4ff4b 317.3px,#45ffba 336.3px,#1cffe3 344.3px,#00fcff 347.3px,#00e3ff 350.3px,#00c8ff 355.3px,#0089ff 361.8px,#0049ff 372.3px,#0047ff 372.8px)"></i>
<i style="left:209px;width:1px;background:linear-gradient(#0054ff 0.0px,#0094ff 11.0px,#00d9ff 18.5px,#00faff 24.5px,#05fffa 25.5px,#2affd5 29.5px,#7fff80 46.0px,#deff21 62.5px,#fffe00 70.0px,#ffa800 92.5px,#ff7f00 102.0px,#ff3900 117.0px,#ff0000 132.5px,#d50000 149.5px,#bd0000 167.0px,#bb0000 200.8px,#c70000 215.3px,#ee0000 234.3px,#ff0300 241.3px,#ff5e00 264.3px,#ffa300 278.8px,#ffea00 297.8px,#fcff03 303.8px,#b3ff4c 318.3px,#4bffb4 336.3px,#23ffdc 344.3px,#00ffff 347.8px,#00e7ff 351.3px,#00cdff 355.8px,#0094ff 361.8px,#0054ff 372.8px)"></i>
<i style="left:210px;width:1px;background:linear-gradient(#0063ff 0.0px,#00a4ff 11.5px,#00e3ff 18.5px,#01fffe 24.0px,#2fffd0 29.0px,#8bff74 47.0px,#e3ff1c 62.5px,#fffd00 69.0px,#ffa600 92.0px,#ff7f00 101.5px,#ff3b00 116.5px,#fe0000 133.0px,#d60000 150.0px,#bf0000 167.0px,#be0000 202.3px,#cb0000 216.8px,#f10000 235.3px,#ff0400 241.3px,#ff5e00 264.8px,#ffa000 278.8px,#ffe900 298.8px,#fdff02 304.8px,#b6ff49 318.8px,#56ffa9 335.8px,#2cffd3 344.3px,#01fffe 348.8px,#00d8ff 355.8px,#00a0ff 361.8px,#0063ff 372.8px)"></i>
<i style="left:211px;width:1px;background:linear-gradient(#0072ff 0.0px,#00b4ff 12.0px,#00eeff 18.5px,#02fffd 22.5px,#1fffe0 26.0px,#3cffc3 29.5px,#8dff72 46.0px,#e7ff18 62.0px,#fffc00 68.0px,#ffa200 92.0px,#ff7900 102.0px,#ff3600 117.5px,#ff0000 133.0px,#d60000 150.5px,#c10000 167.5px,#c10000 205.3px,#d60000 222.3px,#ff0300 240.8px,#ff5a00 264.3px,#ff9c00 278.8px,#ffea00 300.3px,#fcff03 306.3px,#b6ff49 319.8px,#5effa1 335.8px,#36ffc9 344.3px,#05fffa 349.8px,#00f8ff 352.3px,#00deff 356.3px,#00adff 361.8px,#0072ff 372.8px)"></i>
<i style="left:212px;width:1px;background:linear-gradient(#0081ff 0.0px,#00c1ff 12.0px,#00f8ff 18.5px,#06fff9 21.0px,#1fffe0 25.0px,#43ffbc 29.0px,#97ff68 46.5px,#edff12 62.0px,#fffc00 66.5px,#ffa000 91.5px,#ff7600 102.0px,#ff3300 118.0px,#fe0000 133.5px,#d70000 151.0px,#c30000 167.5px,#c40000 206.8px,#df0000 226.3px,#ff0300 240.8px,#ff5800 264.3px,#ff9a00 279.3px,#ffec00 302.3px,#fdff02 307.3px,#baff45 320.3px,#67ff98 335.8px,#40ffbf 344.3px,#10ffef 349.8px,#00fbff 353.8px,#00d6ff 358.3px,#00b4ff 362.8px,#0081ff 372.8px)"></i>
<i style="left:213px;width:1px;background:linear-gradient(#0090ff 0.0px,#00cdff 12.0px,#01fffe 18.0px,#25ffda 24.5px,#4effb1 29.0px,#9fff60 46.5px,#f3ff0c 62.0px,#fffb00 65.5px,#ff9f00 90.5px,#ff7600 101.5px,#ff3200 118.0px,#fd0000 134.0px,#d70000 151.5px,#c50000 167.5px,#c60000 207.8px,#e50000 228.8px,#ff0200 240.3px,#ff5600 264.3px,#ff9600 279.3px,#ffe800 302.8px,#fcff03 308.8px,#bcff43 321.3px,#70ff8f 335.8px,#4affb5 344.3px,#1affe5 349.8px,#00fcff 355.3px,#00c6ff 361.8px,#0090ff 372.8px)"></i>
<i style="left:214px;width:1px;background:linear-gradient(#009fff 0.0px,#00ddff 12.5px,#01fffe 16.5px,#20ffdf 22.0px,#39ffc6 25.5px,#5bffa4 29.5px,#a1ff5e 45.5px,#f7ff08 61.5px,#fff900 64.5px,#ff9e00 89.5px,#ff7500 101.0px,#ff3300 117.5px,#fe0000 134.0px,#d90000 151.5px,#c70000 168.0px,#c90000 209.3px,#eb0000 231.3px,#ff0300 240.3px,#ff5400 264.3px,#ff9400 279.8px,#ffe700 303.8px,#fcff03 310.3px,#baff45 322.8px,#75ff8a 336.8px,#55ffaa 344.3px,#25ffda 349.8px,#05fffa 355.8px,#00f7ff 357.3px,#00d1ff 362.3px,#009fff 372.8px)"></i>
<i style="left:215px;width:1px;background:linear-gradient(#00afff 0.0px,#00e9ff 12.5px,#03fffc 15.5px,#21ffde 20.0px,#3bffc4 24.5px,#62ff9d 29.0px,#acff53 46.0px,#feff01 61.5px,#ffa000 87.5px,#ff7400 100.5px,#ff3200 117.5px,#fd0000 134.5px,#d90000 152.5px,#c90000 168.5px,#cb0000 209.8px,#ee0000 231.8px,#ff0200 239.8px,#ff5200 264.3px,#ff9000 279.8px,#ffe100 303.8px,#feff01 311.3px,#8bff74 333.8px,#5fffa0 344.3px,#2dffd2 350.3px,#0cfff3 356.3px,#00f9ff 358.3px,#00dbff 362.8px,#00afff 372.8px)"></i>
<i style="left:216px;width:1px;background:linear-gradient(#00beff 0.0px,#00f6ff 12.5px,#06fff9 14.5px,#2affd5 19.5px,#45ffba 24.5px,#6cff93 29.0px,#b3ff4c 46.0px,#fffe00 60.5px,#ffae00 82.0px,#ff7100 100.5px,#ff3000 118.0px,#fe0000 134.5px,#da0000 152.5px,#cb0000 168.5px,#ce0000 210.8px,#f10000 232.8px,#ff0300 239.8px,#ff5200 264.8px,#ff8e00 280.3px,#ffdc00 303.8px,#fdff02 312.8px,#98ff67 332.8px,#69ff96 344.3px,#38ffc7 350.3px,#17ffe8 356.3px,#00fdff 359.3px,#00deff 365.3px,#00beff 372.8px)"></i>
<i style="left:217px;width:1px;background:linear-gradient(#00cdff 0.0px,#03fffc 12.5px,#34ffcb 19.5px,#50ffaf 24.5px,#77ff88 29.0px,#bbff44 46.0px,#ffff00 59.0px,#ffaf00 80.0px,#ff6c00 101.0px,#ff2a00 119.5px,#fe0000 135.0px,#db0000 153.0px,#cd0000 168.5px,#d00000 210.8px,#f20000 232.8px,#ff0400 239.8px,#ff5200 265.3px,#ff8b00 280.8px,#ffd600 303.8px,#fdff02 314.3px,#a4ff5b 331.8px,#74ff8b 344.3px,#42ffbd 350.3px,#22ffdd 356.3px,#00ffff 360.8px,#00cdff 372.8px)"></i>
<i style="left:218px;width:1px;background:linear-gradient(#00dcff 0.0px,#03fffc 10.0px,#21ffde 15.0px,#41ffbe 20.0px,#5bffa4 24.5px,#81ff7e 29.0px,#c3ff3c 46.0px,#fffd00 58.0px,#ffac00 79.5px,#ff6900 101.0px,#ff2800 120.0px,#fe0000 135.5px,#dc0000 154.0px,#cf0000 169.0px,#d20000 211.3px,#f40000 233.3px,#ff0300 239.3px,#ff4e00 264.8px,#ff8900 281.3px,#ffd000 303.8px,#fdff02 315.8px,#b1ff4e 330.8px,#7eff81 344.3px,#4dffb2 350.3px,#29ffd6 356.8px,#07fff8 361.8px,#00fbff 364.8px,#00dcff 372.8px)"></i>
<i style="left:219px;width:1px;background:linear-gradient(#00eaff 0.0px,#03fffc 6.5px,#1effe1 13.0px,#4cffb3 20.0px,#65ff9a 24.5px,#8bff74 29.0px,#caff35 46.0px,#fffd00 56.5px,#ffad00 77.5px,#ff6400 101.5px,#ff2200 122.0px,#fc0000 136.5px,#da0000 156.5px,#d10000 171.5px,#d50000 211.3px,#f60000 233.3px,#ff0400 239.3px,#ff4e00 265.3px,#ff8700 282.3px,#ffcb00 303.8px,#fcff03 317.3px,#bbff44 330.3px,#88ff77 344.3px,#58ffa7 350.3px,#34ffcb 356.8px,#13ffec 361.8px,#00fcff 367.8px,#00eaff 372.8px)"></i>
<i style="left:220px;width:1px;background:linear-gradient(#00f6ff 0.0px,#05fffa 4.0px,#29ffd6 13.0px,#56ffa9 20.0px,#70ff8f 24.5px,#95ff6a 29.0px,#d0ff2f 45.5px,#fffd00 55.0px,#ffb700 73.0px,#ff5c00 103.0px,#ff1800 126.0px,#fc0000 137.5px,#d90000 160.0px,#d40000 182.0px,#d80000 211.8px,#fb0000 234.8px,#ff0a00 241.3px,#ff5300 267.3px,#ff8700 283.8px,#ffc700 304.3px,#feff01 318.3px,#c5ff3a 329.8px,#93ff6c 344.3px,#62ff9d 350.3px,#3effc1 356.8px,#1cffe3 362.3px,#00fcff 370.8px,#00f6ff 372.8px)"></i>
<i style="left:221px;width:1px;background:linear-gradient(#01fffe 0.0px,#30ffcf 12.5px,#60ff9f 20.0px,#7aff85 24.5px,#9dff62 28.5px,#dcff23 46.5px,#fffc00 54.0px,#ffc500 67.5px,#ff8a00 86.5px,#ff5100 105.5px,#ff0b00 132.0px,#fb0000 139.0px,#d90000 164.0px,#db0000 211.3px,#ff0300 237.3px,#ff4800 264.3px,#ff8700 285.3px,#ffc100 304.3px,#fff900 318.3px,#f8ff07 320.8px,#c6ff39 331.8px,#9dff62 344.3px,#6cff93 350.3px,#48ffb7 356.8px,#26ffd9 362.3px,#01fffe 372.8px)"></i>
<i style="left:222px;width:1px;background:linear-gradient(#0cfff3 0.0px,#37ffc8 12.0px,#6aff95 20.0px,#84ff7b 24.5px,#a7ff58 28.5px,#e3ff1c 46.5px,#fffd00 52.5px,#ffcf00 63.0px,#ff9000 82.5px,#ff4f00 105.5px,#ff0a00 133.0px,#fb0000 140.5px,#dc0000 165.0px,#de0000 211.3px,#ff0200 235.8px,#ff4200 262.8px,#ff8c00 288.8px,#ffc600 307.3px,#fff700 319.3px,#fcff03 321.3px,#ccff33 332.3px,#a7ff58 344.3px,#76ff89 350.3px,#52ffad 356.8px,#30ffcf 362.3px,#0cfff3 372.8px)"></i>
<i style="left:223px;width:1px;background:linear-gradient(#16ffe9 0.0px,#3effc1 11.5px,#74ff8b 20.0px,#8eff71 24.5px,#b1ff4e 28.5px,#ebff14 46.5px,#fffd00 51.0px,#ffd000 61.0px,#ff8e00 81.5px,#ff1d00 124.5px,#fd0000 141.0px,#df0000 166.0px,#e20000 211.3px,#ff0300 234.8px,#ff3e00 261.8px,#ffaf00 302.3px,#ffeb00 318.3px,#fbff04 322.8px,#cdff32 334.8px,#b1ff4e 344.3px,#80ff7f 350.3px,#5cffa3 356.8px,#37ffc8 362.8px,#16ffe9 372.8px)"></i>
<i style="left:224px;width:1px;background:linear-gradient(#20ffdf 0.0px,#41ffbe 10.0px,#6aff95 16.5px,#98ff67 24.5px,#bcff43 28.5px,#f3ff0c 46.5px,#fffb00 50.0px,#ffcb00 60.5px,#ff8900 81.5px,#ff2000 123.5px,#fd0000 142.5px,#e20000 166.5px,#e50000 211.3px,#ff0300 233.3px,#ff3700 259.3px,#ffa600 301.3px,#ffe400 318.3px,#feff01 323.8px,#d2ff2d 336.3px,#bcff43 344.3px,#89ff76 350.3px,#66ff99 356.8px,#41ffbe 362.8px,#20ffdf 372.8px)"></i>
<i style="left:225px;width:1px;background:linear-gradient(#2affd5 0.0px,#46ffb9 9.0px,#69ff96 15.0px,#8cff73 21.0px,#a2ff5d 24.5px,#c6ff39 28.5px,#f8ff07 46.0px,#fff900 49.0px,#ffc700 60.0px,#ff8600 81.0px,#ff2100 123.0px,#fe0000 144.0px,#e50000 167.0px,#e80000 211.3px,#ff0300 232.3px,#ff3200 257.8px,#ff9f00 300.8px,#ffdd00 318.3px,#feff01 325.3px,#d8ff27 337.8px,#c6ff39 344.3px,#93ff6c 350.3px,#70ff8f 356.8px,#48ffb7 363.3px,#2bffd4 372.3px,#2affd5 372.8px)"></i>
<i style="left:226px;width:1px;background:linear-gradient(#34ffcb 0.0px,#4affb5 8.0px,#6fff90 14.5px,#94ff6b 20.5px,#acff53 24.5px,#d0ff2f 28.5px,#fffc00 46.5px,#ffc000 60.0px,#ff8100 81.0px,#ff2100 123.0px,#fe0000 145.5px,#e90000 167.5px,#ec0000 211.8px,#ff0300 230.8px,#ff2d00 255.8px,#ff9800 300.3px,#ffd600 318.3px,#feff01 327.3px,#ddff22 339.8px,#cdff32 344.8px,#9dff62 350.3px,#76ff89 357.3px,#4fffb0 363.8px,#35ffca 371.8px,#34ffcb 372.8px)"></i>
<i style="left:227px;width:1px;background:linear-gradient(#3effc1 0.0px,#51ffae 7.5px,#7cff83 15.0px,#b5ff4a 24.5px,#d8ff27 28.5px,#fffd00 44.5px,#ffb800 61.0px,#ff7d00 81.0px,#ff2200 122.5px,#ff0000 146.5px,#ec0000 168.0px,#ef0000 211.8px,#ff0300 229.8px,#ff2a00 254.3px,#ff9200 299.8px,#ffd100 318.3px,#fffd00 328.3px,#d8ff27 344.3px,#a7ff58 350.3px,#7cff83 357.8px,#51ffae 365.3px,#3effc1 372.8px)"></i>
<i style="left:228px;width:1px;background:linear-gradient(#47ffb8 0.0px,#57ffa8 7.0px,#8dff72 16.5px,#c0ff3f 25.0px,#dcff23 29.0px,#fffc00 44.0px,#ffb600 61.0px,#ff7b00 81.0px,#ff2200 122.5px,#ff0200 146.0px,#ef0000 170.0px,#f30000 212.8px,#ff0400 228.8px,#ff2500 251.8px,#ff8700 296.8px,#ffcc00 317.8px,#fffc00 328.8px,#dcff23 343.8px,#c0ff3f 347.8px,#5bffa4 364.8px,#48ffb7 371.8px,#47ffb8 372.8px)"></i>
<i style="left:229px;width:1px;background:linear-gradient(#4dffb2 0.0px,#5cffa3 7.0px,#a9ff56 21.0px,#d3ff2c 28.5px,#fffc00 44.5px,#ffb600 61.5px,#ff7c00 81.0px,#ff2200 123.0px,#ff0500 144.0px,#f80000 158.0px,#f30000 183.0px,#f70000 213.8px,#ff0500 228.3px,#ff2100 249.3px,#ff6800 282.3px,#ff9500 300.8px,#ffd300 318.8px,#feff01 329.3px,#cdff32 345.8px,#6eff91 362.3px,#53ffac 368.8px,#4dffb2 372.8px)"></i>
<i style="left:230px;width:1px;background:linear-gradient(#4effb1 0.0px,#5affa5 6.5px,#9aff65 19.5px,#baff45 24.5px,#f9ff06 44.0px,#fff800 47.0px,#ffba00 62.0px,#ff8000 81.0px,#ff1f00 124.5px,#ff0700 143.5px,#fa0000 159.0px,#f70000 208.8px,#ff0400 226.3px,#ff1d00 246.8px,#ff5f00 277.3px,#ff9700 300.3px,#ffdb00 319.3px,#fdff02 327.8px,#c5ff3a 344.8px,#b0ff4f 350.3px,#88ff77 356.3px,#54ffab 368.3px,#4effb1 372.8px)"></i>
<i style="left:231px;width:1px;background:linear-gradient(#49ffb6 0.0px,#58ffa7 7.0px,#7dff82 16.0px,#93ff6c 20.0px,#aeff51 24.0px,#c4ff3b 33.0px,#fffd00 47.5px,#ffb800 64.5px,#ff8200 82.0px,#ff1d00 126.0px,#ff0800 143.5px,#fb0000 162.0px,#fd0000 214.3px,#ff1400 241.3px,#ff5300 270.8px,#ff9c00 300.3px,#ffe700 320.3px,#fdff02 326.3px,#b8ff47 343.3px,#a9ff56 349.8px,#81ff7e 355.8px,#5cffa3 364.8px,#4affb5 371.3px,#49ffb6 372.8px)"></i>
<i style="left:232px;width:1px;background:linear-gradient(#42ffbd 0.0px,#51ffae 7.0px,#6fff90 14.5px,#80ff7f 19.0px,#9fff60 23.5px,#aeff51 31.5px,#fffd00 49.0px,#ffa900 70.5px,#ff7700 88.5px,#ff1a00 128.0px,#ff0700 147.5px,#fd0000 169.5px,#ff0300 219.3px,#ff1700 243.3px,#ff5a00 272.3px,#ffa000 299.8px,#fff200 321.3px,#fcff03 324.8px,#a9ff56 342.8px,#9dff62 349.8px,#78ff87 355.3px,#5affa5 363.8px,#45ffba 370.3px,#42ffbd 372.8px)"></i>
<i style="left:233px;width:1px;background:linear-gradient(#3bffc4 0.0px,#49ffb6 7.0px,#63ff9c 14.0px,#73ff8c 19.0px,#91ff6e 23.5px,#99ff66 30.5px,#feff01 50.0px,#ffa200 74.0px,#ff2f00 119.0px,#ff1200 134.0px,#ff0100 169.0px,#ff0500 218.8px,#ff1700 242.8px,#ff5b00 271.3px,#ffa400 299.3px,#fcff03 323.3px,#98ff67 342.8px,#8fff70 349.8px,#6bff94 355.3px,#55ffaa 363.3px,#3effc1 369.8px,#3bffc4 372.8px)"></i>
<i style="left:234px;width:1px;background:linear-gradient(#33ffcc 0.0px,#42ffbd 7.0px,#59ffa6 13.5px,#63ff9c 18.5px,#83ff7c 23.5px,#87ff78 30.0px,#caff35 41.5px,#fbff04 51.0px,#fff300 55.0px,#ffa800 74.0px,#ff7500 93.0px,#ff1b00 128.0px,#ff0c00 143.5px,#ff0500 181.5px,#ff0a00 224.3px,#ff1900 243.8px,#ff6100 272.3px,#ffa600 298.3px,#ffef00 316.8px,#fdff02 321.3px,#cdff32 330.8px,#89ff76 342.3px,#84ff7b 346.8px,#81ff7e 349.8px,#5fffa0 355.3px,#4fffb0 362.8px,#37ffc8 369.8px,#33ffcc 372.8px)"></i>
<i style="left:235px;width:1px;background:linear-gradient(#2bffd4 0.0px,#3cffc3 7.5px,#4effb1 13.0px,#56ffa9 18.5px,#75ff8a 23.5px,#78ff87 30.0px,#a3ff5c 37.0px,#e8ff17 48.5px,#fffd00 54.5px,#ffb100 73.0px,#ff7c00 91.5px,#ff1900 129.0px,#ff0c00 147.0px,#ff0900 213.3px,#ff1500 241.3px,#ff5800 268.3px,#ffac00 298.3px,#ffe800 313.3px,#fdff02 319.3px,#d3ff2c 328.3px,#7aff85 342.3px,#75ff8a 346.3px,#73ff8c 349.8px,#54ffab 354.8px,#47ffb8 362.8px,#2fffd0 369.8px,#2bffd4 372.8px)"></i>
<i style="left:236px;width:1px;background:linear-gradient(#23ffdc 0.0px,#34ffcb 7.5px,#44ffbb 12.5px,#49ffb6 18.5px,#68ff97 24.0px,#69ff96 29.5px,#85ff7a 34.5px,#dcff23 48.0px,#fffc00 57.0px,#ffbb00 72.0px,#ff8000 91.5px,#ff1b00 128.5px,#ff0e00 143.5px,#ff0d00 223.8px,#ff1900 243.3px,#ff6500 271.3px,#ffb100 297.8px,#ffe700 311.3px,#fcff03 317.3px,#cbff34 327.8px,#6dff92 342.3px,#67ff98 346.3px,#65ff9a 349.8px,#48ffb7 354.8px,#3effc1 362.8px,#27ffd8 369.8px,#23ffdc 372.8px)"></i>
<i style="left:237px;width:1px;background:linear-gradient(#1affe5 0.0px,#2affd5 7.5px,#39ffc6 12.5px,#3effc1 19.0px,#5affa5 24.0px,#62ff9d 30.0px,#99ff66 39.5px,#d4ff2b 49.0px,#fffd00 59.0px,#ffc600 71.5px,#ff7e00 94.5px,#ff2200 125.5px,#ff1200 135.0px,#ff0b00 175.5px,#ff1100 235.3px,#ff1d00 245.3px,#ff6e00 273.3px,#ffc200 300.3px,#fff500 312.3px,#fcff03 314.8px,#beff41 327.8px,#64ff9b 342.3px,#5cffa3 347.3px,#54ffab 350.3px,#3bffc4 354.8px,#35ffca 362.8px,#1dffe2 370.3px,#1affe5 372.8px)"></i>
<i style="left:238px;width:1px;background:linear-gradient(#0efff1 0.0px,#1fffe0 7.5px,#2dffd2 12.5px,#31ffce 19.0px,#4fffb0 25.0px,#63ff9c 32.0px,#9eff61 42.5px,#d2ff2d 51.5px,#fffd00 61.0px,#ffcd00 72.0px,#ff3e00 116.0px,#ff1500 131.5px,#ff0b00 155.5px,#ff0e00 231.3px,#ff1a00 244.3px,#ff7000 272.8px,#ffe500 306.8px,#fbff04 312.8px,#acff53 328.3px,#6dff92 338.8px,#54ffab 345.3px,#45ffba 350.3px,#2effd1 354.8px,#29ffd6 362.8px,#11ffee 370.3px,#0efff1 372.8px)"></i>
<i style="left:239px;width:1px;background:linear-gradient(#00ffff 0.0px,#10ffef 7.5px,#1fffe0 12.5px,#23ffdc 19.0px,#4dffb2 27.5px,#7aff85 39.0px,#ccff33 53.0px,#fffd00 63.0px,#ffd200 73.5px,#ff4400 114.0px,#ff1400 131.5px,#ff0800 154.5px,#ff0900 224.8px,#ff1700 242.8px,#ff6c00 270.8px,#fff300 307.8px,#fbff04 310.8px,#95ff6a 329.3px,#6cff93 336.8px,#39ffc6 349.8px,#21ffde 354.3px,#1affe5 362.8px,#02fffd 370.8px,#00ffff 372.8px)"></i>
<i style="left:240px;width:1px;background:linear-gradient(#00ecff 0.0px,#02fffd 8.5px,#0efff1 13.5px,#16ffe9 19.5px,#4dffb2 29.5px,#6eff91 39.5px,#ffff00 64.5px,#ff4d00 111.5px,#ff1300 131.5px,#ff0400 153.5px,#ff0300 214.3px,#ff1100 239.8px,#ff2d00 250.8px,#ff7e00 274.8px,#fcff03 308.8px,#65ff9a 335.3px,#42ffbd 345.8px,#14ffeb 353.8px,#08fff7 362.8px,#00fbff 365.8px,#00ecff 372.8px)"></i>
<i style="left:241px;width:1px;background:linear-gradient(#00d4ff 0.0px,#00e9ff 8.0px,#00fbff 14.5px,#04fffb 19.0px,#23ffdc 24.5px,#42ffbd 28.5px,#62ff9d 39.5px,#fdff02 66.0px,#ffa100 90.5px,#ff4b00 112.5px,#ff1200 131.5px,#ff0100 152.5px,#fc0000 208.3px,#ff0700 231.3px,#ff1800 244.3px,#ff7500 271.8px,#ffe700 300.3px,#fdff02 306.8px,#5cffa3 334.8px,#40ffbf 344.8px,#0ffff0 351.3px,#00feff 355.8px,#00efff 363.3px,#00d5ff 371.8px,#00d4ff 372.8px)"></i>
<i style="left:242px;width:1px;background:linear-gradient(#00b8ff 0.0px,#00d1ff 8.5px,#03fffc 22.5px,#1dffe2 25.5px,#39ffc6 28.5px,#59ffa6 39.5px,#f9ff06 66.5px,#fffa00 69.0px,#ffa600 90.5px,#ff4e00 112.0px,#ff1100 131.5px,#fe0000 149.0px,#f50000 185.0px,#fd0000 222.3px,#ff0d00 239.3px,#ff2900 249.8px,#ff7e00 273.3px,#ffe900 298.8px,#fdff02 305.3px,#a5ff5a 320.8px,#55ffaa 334.3px,#39ffc6 344.3px,#1dffe2 347.3px,#03fffc 350.3px,#00baff 371.8px,#00b8ff 372.8px)"></i>
<i style="left:243px;width:1px;background:linear-gradient(#009bff 0.0px,#00b7ff 9.0px,#00f6ff 23.5px,#00ffff 24.5px,#2cffd3 28.0px,#3dffc2 32.0px,#52ffad 39.5px,#f3ff0c 66.5px,#fffc00 70.0px,#ffa300 92.0px,#ff4a00 113.5px,#ff0f00 131.5px,#fd0000 145.5px,#f10000 175.5px,#f60000 216.8px,#ff0400 233.3px,#ff1800 244.8px,#ff7700 270.8px,#ffeb00 298.3px,#fcff03 304.3px,#bdff42 315.8px,#4dffb2 334.3px,#30ffcf 344.3px,#14ffeb 346.8px,#00ffff 348.3px,#00ebff 351.3px,#00a0ff 370.3px,#009bff 372.8px)"></i>
<i style="left:244px;width:1px;background:linear-gradient(#007dff 0.0px,#009eff 9.5px,#00d3ff 19.5px,#00e3ff 23.5px,#00fcff 25.5px,#26ffd9 28.5px,#38ffc7 33.5px,#4effb1 40.0px,#eeff11 66.5px,#fffd00 71.0px,#ffa000 93.5px,#ff4600 115.0px,#ff0d00 132.0px,#fd0000 143.0px,#ec0000 171.0px,#f00000 212.8px,#ff0300 234.3px,#ff1900 245.3px,#ff7800 270.3px,#ffec00 297.3px,#fcff03 303.3px,#c7ff38 313.3px,#47ffb8 334.3px,#2affd5 343.8px,#16ffe9 345.8px,#00fcff 347.3px,#00e3ff 349.3px,#00bcff 357.8px,#008fff 366.8px,#007dff 372.8px)"></i>
<i style="left:245px;width:1px;background:linear-gradient(#0061ff 0.0px,#0085ff 9.5px,#00acff 15.5px,#00c2ff 19.5px,#00d2ff 23.5px,#00edff 25.5px,#01fffe 26.5px,#1dffe2 28.5px,#2effd1 32.5px,#46ffb9 39.5px,#e9ff16 66.5px,#fffd00 72.0px,#ff9a00 95.5px,#ff4500 115.5px,#ff0c00 132.0px,#fc0000 141.0px,#e80000 168.0px,#ea0000 209.8px,#ff0300 235.8px,#ff1c00 246.3px,#ff7a00 270.3px,#ffea00 295.8px,#fdff02 301.8px,#ceff31 311.3px,#3fffc0 334.8px,#20ffdf 343.8px,#0afff5 345.8px,#01fffe 346.3px,#00d7ff 348.8px,#00c7ff 351.8px,#00b3ff 356.3px,#0087ff 362.8px,#0062ff 372.3px,#0061ff 372.8px)"></i>
<i style="left:246px;width:1px;background:linear-gradient(#0049ff 0.0px,#0072ff 10.0px,#0097ff 15.0px,#00b0ff 18.5px,#00c3ff 23.5px,#00e0ff 25.5px,#00fdff 27.0px,#17ffe8 29.0px,#2dffd2 35.0px,#49ffb6 41.0px,#e2ff1d 66.0px,#fffd00 73.0px,#ff9700 97.0px,#ff4400 116.0px,#ff0b00 132.0px,#fc0000 139.5px,#e40000 166.0px,#e40000 206.3px,#fb0000 232.8px,#ff0900 239.8px,#ff3200 252.3px,#ff8200 271.3px,#ffe900 294.8px,#fdff02 300.8px,#ccff33 310.8px,#36ffc9 335.3px,#1affe5 343.3px,#07fff8 345.3px,#00fdff 345.8px,#00ceff 348.3px,#00bdff 350.3px,#00a7ff 355.8px,#0074ff 362.3px,#004aff 372.3px,#0049ff 372.8px)"></i>
<i style="left:247px;width:1px;background:linear-gradient(#0037ff 0.0px,#0065ff 10.5px,#0089ff 15.0px,#00a3ff 18.5px,#00b8ff 23.5px,#00ccff 25.0px,#00fcff 27.5px,#17ffe8 30.5px,#3affc5 39.5px,#dbff24 65.5px,#fffd00 74.0px,#ff9600 98.0px,#ff4400 116.0px,#ff0a00 132.0px,#fb0000 138.5px,#e00000 164.5px,#de0000 202.3px,#ef0000 225.3px,#ff0300 237.8px,#ff2300 248.3px,#ff7d00 269.8px,#ffe100 291.8px,#fdff02 299.8px,#caff35 310.3px,#30ffcf 335.3px,#11ffee 343.3px,#00fcff 345.3px,#00c3ff 348.3px,#00b1ff 350.3px,#009aff 355.8px,#0068ff 361.8px,#0039ff 372.3px,#0037ff 372.8px)"></i>
<i style="left:248px;width:1px;background:linear-gradient(#002aff 0.0px,#005cff 11.0px,#0099ff 18.5px,#00afff 23.5px,#00ccff 25.5px,#00f9ff 28.0px,#05fffa 29.0px,#1dffe2 34.5px,#3dffc2 41.0px,#cdff32 64.0px,#ffff00 74.5px,#ff9c00 97.5px,#ff4700 115.5px,#ff0800 132.0px,#fb0000 137.5px,#dd0000 161.5px,#d80000 195.3px,#e30000 217.3px,#ff0200 238.3px,#ff2600 249.3px,#ff8000 269.8px,#ffdb00 289.3px,#fdff02 298.8px,#c7ff38 309.8px,#27ffd8 335.8px,#08fff7 343.3px,#00ffff 344.3px,#00e1ff 346.3px,#00b4ff 348.8px,#00a4ff 351.3px,#008fff 355.8px,#005cff 361.8px,#002aff 372.8px)"></i>
<i style="left:249px;width:1px;background:linear-gradient(#001fff 0.0px,#0055ff 11.5px,#008fff 18.5px,#00a8ff 23.5px,#00c4ff 25.5px,#00f0ff 28.0px,#00feff 29.5px,#31ffce 40.0px,#b0ff4f 60.0px,#ecff13 71.0px,#fffd00 76.0px,#ff9d00 98.0px,#ff4a00 115.0px,#ff0700 132.0px,#fa0000 137.0px,#da0000 160.0px,#d20000 189.8px,#db0000 214.3px,#fb0000 236.3px,#ff0c00 242.3px,#ff6e00 265.8px,#ffce00 285.3px,#fdff02 297.8px,#c2ff3d 309.8px,#3bffc4 331.3px,#18ffe7 337.8px,#00feff 343.3px,#00e9ff 345.3px,#00adff 348.8px,#009aff 351.8px,#0085ff 355.8px,#0052ff 361.8px,#001fff 372.8px)"></i>
<i style="left:250px;width:1px;background:linear-gradient(#0014ff 0.0px,#004eff 12.0px,#0085ff 18.5px,#00a0ff 23.5px,#00bcff 25.5px,#00e7ff 28.0px,#00feff 31.0px,#28ffd7 39.5px,#96ff69 56.5px,#e3ff1c 70.0px,#fffc00 77.0px,#ffa100 98.0px,#ff4b00 115.0px,#ff0600 132.0px,#fa0000 136.5px,#d80000 158.0px,#cd0000 180.0px,#d40000 210.8px,#f50000 234.3px,#ff0300 239.8px,#ff3500 252.8px,#ff8500 269.8px,#ffd100 285.3px,#fdff02 296.8px,#c0ff3f 309.3px,#3cffc3 330.3px,#13ffec 337.3px,#00fcff 342.3px,#00e7ff 344.8px,#00a5ff 348.8px,#0091ff 351.8px,#0076ff 356.3px,#0048ff 361.8px,#0014ff 372.8px)"></i>
<i style="left:251px;width:1px;background:linear-gradient(#0009ff 0.0px,#0044ff 12.0px,#007eff 19.0px,#0098ff 23.5px,#00bdff 26.0px,#00e3ff 28.5px,#00fdff 32.5px,#22ffdd 39.5px,#84ff7b 54.5px,#deff21 70.0px,#fffc00 78.0px,#ffa700 97.5px,#ff4e00 114.5px,#ff0500 132.0px,#f70000 137.0px,#d30000 158.5px,#c80000 180.0px,#cf0000 210.3px,#f20000 233.8px,#ff0300 240.3px,#ff4300 255.8px,#ff9100 271.3px,#ffd700 285.8px,#feff01 295.8px,#bbff44 309.3px,#3affc5 329.8px,#0cfff3 337.3px,#00fbff 340.8px,#00e3ff 344.3px,#00bdff 346.8px,#0098ff 349.3px,#006cff 356.3px,#003eff 361.8px,#0009ff 372.8px)"></i>
<i style="left:252px;width:1px;background:linear-gradient(#0000fc 0.0px,#000eff 3.5px,#003eff 12.5px,#0075ff 19.0px,#0091ff 23.5px,#00b5ff 26.0px,#00daff 28.5px,#00f8ff 33.0px,#05fffa 35.5px,#40ffbf 44.5px,#d2ff2d 68.5px,#fffe00 78.5px,#ffaa00 97.5px,#ff5100 114.0px,#ff0400 132.0px,#ec0000 140.5px,#c90000 163.5px,#c30000 193.3px,#ce0000 213.8px,#f30000 235.3px,#ff0400 240.8px,#ff5100 258.8px,#ffca00 281.8px,#fcff03 295.3px,#b6ff49 309.3px,#38ffc7 329.3px,#05fffa 337.3px,#00f8ff 339.8px,#00daff 344.3px,#00adff 347.3px,#008cff 349.8px,#0062ff 356.3px,#0034ff 361.8px,#0000fe 372.3px,#0000fc 372.8px)"></i>
<i style="left:253px;width:1px;background:linear-gradient(#0000f1 0.0px,#0003ff 3.5px,#0038ff 13.0px,#006eff 19.5px,#008aff 23.5px,#00b6ff 26.5px,#00d6ff 29.0px,#00fdff 35.5px,#21ffde 41.0px,#74ff8b 53.5px,#daff25 71.0px,#fffd00 79.5px,#ffae00 97.5px,#ff5200 114.0px,#ff0200 132.0px,#d40000 152.0px,#c10000 169.0px,#bf0000 198.8px,#cc0000 215.3px,#f20000 235.3px,#ff0200 240.8px,#ff5200 258.8px,#ffc900 280.8px,#fdff02 294.3px,#b4ff4b 308.8px,#33ffcc 329.3px,#00ffff 336.8px,#00daff 343.3px,#00beff 345.8px,#008fff 348.8px,#0074ff 352.3px,#004eff 357.3px,#0027ff 362.3px,#0000fd 370.3px,#0000f1 372.8px)"></i>
<i style="left:254px;width:1px;background:linear-gradient(#0000e6 0.0px,#0001ff 5.0px,#002eff 13.0px,#0066ff 19.5px,#0082ff 23.5px,#00c9ff 28.5px,#00ecff 33.5px,#04fffb 37.5px,#67ff98 52.0px,#d9ff26 71.5px,#fffe00 80.0px,#ffb100 97.5px,#ff5500 113.5px,#ff0300 131.5px,#d20000 151.5px,#bd0000 168.0px,#ba0000 197.3px,#c60000 214.3px,#ee0000 234.8px,#ff0300 241.3px,#ff5d00 260.8px,#ffca00 280.3px,#fcff03 293.8px,#b3ff4c 308.3px,#32ffcd 328.8px,#01fffe 335.8px,#00d3ff 343.3px,#00b6ff 345.8px,#0082ff 349.3px,#004aff 356.8px,#0020ff 361.8px,#0000fe 368.3px,#0000e6 372.8px)"></i>
<i style="left:255px;width:1px;background:linear-gradient(#0000dc 0.0px,#0003ff 7.0px,#0025ff 13.0px,#005fff 19.5px,#007cff 23.5px,#00c4ff 28.5px,#00e6ff 33.0px,#04fffb 38.0px,#61ff9e 51.5px,#d6ff29 71.5px,#fffe00 80.5px,#ffb200 97.5px,#ff5500 113.5px,#ff0200 131.5px,#d30000 149.5px,#b90000 167.0px,#b60000 195.8px,#c10000 213.3px,#eb0000 234.3px,#ff0200 241.3px,#ff5d00 260.8px,#ffc900 279.8px,#feff01 292.8px,#b3ff4c 307.8px,#2fffd0 328.8px,#00ffff 335.3px,#00ceff 343.3px,#00b1ff 345.8px,#007cff 349.3px,#0042ff 356.8px,#0017ff 361.8px,#0000fd 366.8px,#0000dc 372.8px)"></i>
<i style="left:256px;width:1px;background:linear-gradient(#0000d6 0.0px,#0002ff 8.0px,#0020ff 13.0px,#0059ff 19.0px,#0078ff 23.5px,#00a6ff 26.5px,#00c8ff 29.0px,#00f0ff 35.0px,#03fffc 38.0px,#5fffa0 51.5px,#d7ff28 72.0px,#fffd00 81.0px,#ffb000 98.0px,#ff5500 113.5px,#ff0200 131.5px,#d20000 149.0px,#b80000 166.5px,#b30000 194.8px,#bf0000 212.8px,#e90000 233.8px,#ff0300 241.8px,#ff6800 262.8px,#ffc700 279.3px,#fdff02 292.8px,#aeff51 308.3px,#2effd1 328.8px,#00feff 335.3px,#00cdff 343.3px,#00afff 345.8px,#007eff 348.8px,#0062ff 352.3px,#003eff 356.8px,#0015ff 361.3px,#0000fc 365.8px,#0000d6 372.8px)"></i>
<i style="left:257px;width:1px;background:linear-gradient(#0000d4 0.0px,#0001ff 8.0px,#001fff 13.0px,#0059ff 19.0px,#0078ff 23.5px,#009eff 26.0px,#00c4ff 28.5px,#00e6ff 33.0px,#03fffc 38.0px,#5fffa0 51.5px,#d9ff26 72.5px,#fffd00 81.0px,#ffac00 98.5px,#ff5500 113.5px,#ff0200 131.5px,#d20000 150.0px,#b90000 167.0px,#b50000 195.8px,#c10000 213.3px,#eb0000 234.3px,#ff0200 241.3px,#ff5d00 260.8px,#ffc900 279.8px,#fcff03 292.8px,#aaff55 308.8px,#2effd1 328.8px,#00ffff 335.3px,#00ceff 343.3px,#00afff 345.8px,#007eff 348.8px,#0062ff 352.3px,#0044ff 356.3px,#0013ff 361.3px,#0000fd 365.3px,#0000d4 372.8px)"></i>
<i style="left:258px;width:1px;background:linear-gradient(#0000d6 0.0px,#0003ff 8.0px,#0022ff 13.0px,#005bff 19.0px,#007aff 23.5px,#00a0ff 26.0px,#00c6ff 28.5px,#00e7ff 33.0px,#01fffe 37.5px,#62ff9d 52.0px,#daff25 73.0px,#fffd00 81.0px,#ffa900 99.0px,#ff5500 113.5px,#ff0300 131.5px,#d10000 152.0px,#bd0000 168.0px,#ba0000 197.8px,#c60000 214.3px,#f00000 235.3px,#ff0300 241.3px,#ff5d00 260.8px,#ffc800 279.8px,#fcff03 292.8px,#a4ff5b 309.8px,#2cffd3 329.3px,#00fdff 335.8px,#00d0ff 343.3px,#00b1ff 345.8px,#0080ff 348.8px,#0064ff 352.3px,#0046ff 356.3px,#0016ff 361.3px,#0000fd 365.8px,#0000d6 372.8px)"></i>
<i style="left:259px;width:1px;background:linear-gradient(#0000d9 0.0px,#0001ff 7.0px,#0026ff 13.0px,#005fff 19.0px,#007dff 23.5px,#00a2ff 26.0px,#00c8ff 28.5px,#00e9ff 33.0px,#03fffc 37.5px,#63ff9c 52.0px,#daff25 73.0px,#fffd00 81.0px,#ffa500 99.5px,#ff5300 114.0px,#ff0400 131.5px,#f40000 136.5px,#cb0000 158.0px,#bf0000 174.5px,#c20000 205.3px,#d90000 223.3px,#ff0200 240.8px,#ff4e00 257.8px,#ff9c00 271.8px,#ffd400 282.8px,#fcff03 292.8px,#9eff61 310.8px,#2cffd3 329.3px,#00ffff 335.8px,#00d2ff 343.3px,#00b3ff 345.8px,#0083ff 348.8px,#0068ff 352.3px,#004aff 356.3px,#001aff 361.3px,#0000fe 366.3px,#0000d9 372.8px)"></i>
<i style="left:260px;width:1px;background:linear-gradient(#0000dd 0.0px,#0003ff 6.5px,#002bff 13.0px,#0062ff 19.0px,#0080ff 23.5px,#00a5ff 26.0px,#00caff 28.5px,#00eaff 33.0px,#01fffe 37.0px,#66ff99 52.5px,#dcff23 73.5px,#fffd00 81.0px,#ffa100 100.0px,#ff5100 114.5px,#ff0500 131.5px,#f90000 135.5px,#d10000 157.0px,#c50000 173.5px,#c70000 205.8px,#e20000 226.3px,#ff0200 240.3px,#ff3c00 253.8px,#ff8c00 269.3px,#ffca00 280.8px,#fcff03 292.8px,#97ff68 311.8px,#2dffd2 329.3px,#00fdff 336.3px,#00d4ff 343.3px,#00b6ff 345.8px,#0086ff 348.8px,#006bff 352.3px,#0049ff 356.8px,#001cff 361.8px,#0000fc 367.3px,#0000dd 372.8px)"></i>
<i style="left:261px;width:1px;background:linear-gradient(#0000e1 0.0px,#0001ff 5.5px,#002fff 13.0px,#0066ff 19.0px,#0084ff 23.5px,#00b0ff 26.5px,#00d1ff 29.0px,#00f6ff 35.0px,#02fffd 37.0px,#66ff99 52.5px,#ddff22 74.0px,#fffd00 81.0px,#ff9d00 100.5px,#ff4f00 115.0px,#ff0700 131.5px,#f90000 136.0px,#d20000 160.0px,#c80000 183.0px,#d00000 211.3px,#f80000 236.3px,#ff0500 240.8px,#ff4600 255.8px,#ff9100 270.3px,#ffcd00 281.8px,#fcff03 292.8px,#91ff6e 312.8px,#2affd5 329.8px,#00feff 336.3px,#00d6ff 343.3px,#00b8ff 345.8px,#0089ff 348.8px,#006fff 352.3px,#004dff 356.8px,#0020ff 361.8px,#0000fd 367.8px,#0000e1 372.8px)"></i>
<i style="left:262px;width:1px;background:linear-gradient(#0000e6 0.0px,#0002ff 5.0px,#0034ff 13.0px,#006aff 19.0px,#0087ff 23.5px,#00b3ff 26.5px,#00d3ff 29.0px,#00f8ff 35.0px,#04fffb 37.0px,#69ff96 53.0px,#dfff20 74.5px,#fffd00 81.0px,#ff9700 101.5px,#ff4900 116.5px,#ff0800 131.5px,#fb0000 136.0px,#d40000 162.0px,#ce0000 193.3px,#d80000 213.8px,#fe0000 237.8px,#ff1900 245.8px,#ff8200 267.8px,#ffc500 280.3px,#feff01 292.3px,#8bff74 313.8px,#2bffd4 329.8px,#00fdff 336.8px,#00d7ff 343.3px,#00bbff 345.8px,#008dff 348.8px,#0072ff 352.3px,#0051ff 356.8px,#0025ff 361.8px,#0000fe 368.3px,#0000e6 372.8px)"></i>
<i style="left:263px;width:1px;background:linear-gradient(#0000ea 0.0px,#0004ff 4.5px,#0039ff 13.0px,#006dff 19.0px,#008bff 23.5px,#00b5ff 26.5px,#00d5ff 29.0px,#00fcff 35.5px,#18ffe7 40.0px,#6cff93 53.5px,#e4ff1b 75.5px,#fffd00 81.0px,#ff9000 102.5px,#ff4200 118.0px,#ff0900 131.5px,#fb0000 137.0px,#d70000 164.5px,#d50000 201.8px,#e30000 219.3px,#ff0300 238.8px,#ff2400 248.3px,#ff8800 268.8px,#ffc900 281.3px,#feff01 292.3px,#7aff85 316.8px,#25ffda 330.8px,#00ffff 336.8px,#00d9ff 343.3px,#00bdff 345.8px,#0090ff 348.8px,#0073ff 352.8px,#0050ff 357.3px,#0026ff 362.3px,#0000fc 369.3px,#0000ea 372.8px)"></i>
<i style="left:264px;width:1px;background:linear-gradient(#0000ee 0.0px,#0001ff 3.5px,#003dff 13.0px,#0071ff 19.0px,#008eff 23.5px,#00b8ff 26.5px,#00d7ff 29.0px,#00fdff 35.5px,#34ffcb 44.0px,#cfff30 71.5px,#fffd00 81.0px,#ffbc00 94.0px,#ff4e00 115.5px,#ff0c00 131.0px,#fd0000 137.5px,#dc0000 166.0px,#dc0000 206.8px,#fd0000 235.3px,#ff0f00 242.8px,#ff7900 266.3px,#ffc500 280.8px,#feff01 292.3px,#56ffa9 323.3px,#01fffe 336.8px,#00dbff 343.3px,#00c0ff 345.8px,#0093ff 348.8px,#0077ff 352.8px,#0050ff 357.8px,#0025ff 363.3px,#0000fd 369.8px,#0000ee 372.8px)"></i>
<i style="left:265px;width:1px;background:linear-gradient(#0000f2 0.0px,#0003ff 3.0px,#0042ff 13.0px,#0075ff 19.0px,#0091ff 23.5px,#00d4ff 28.5px,#00f5ff 33.5px,#02fffd 36.0px,#74ff8b 55.0px,#fffd00 81.0px,#ffc400 92.0px,#ff4a00 116.5px,#ff0d00 131.0px,#fc0000 139.0px,#e00000 167.0px,#e20000 209.3px,#ff0300 237.3px,#ff1b00 245.8px,#ff8400 268.3px,#ffc900 281.8px,#feff01 292.3px,#44ffbb 326.3px,#00ffff 337.3px,#00d9ff 343.8px,#00bbff 346.3px,#0091ff 349.3px,#005dff 356.8px,#002dff 362.8px,#0000fe 370.3px,#0000f2 372.8px)"></i>
<i style="left:266px;width:1px;background:linear-gradient(#0000f6 0.0px,#0004ff 2.5px,#0047ff 13.0px,#007bff 19.5px,#009aff 24.0px,#00d6ff 28.5px,#00f7ff 33.5px,#04fffb 36.0px,#77ff88 55.5px,#fffd00 81.0px,#ffc500 91.5px,#ff4800 117.0px,#ff0e00 131.0px,#fd0000 140.5px,#e50000 168.0px,#e80000 210.8px,#ff0300 235.8px,#ff1800 244.8px,#ff8400 268.3px,#ffca00 282.3px,#feff01 292.3px,#38ffc7 328.3px,#00feff 337.8px,#00dbff 343.8px,#00b5ff 346.8px,#0095ff 349.3px,#0061ff 356.8px,#0031ff 362.8px,#0000fd 371.3px,#0000f6 372.8px)"></i>
<i style="left:267px;width:1px;background:linear-gradient(#0000fa 0.0px,#0005ff 2.0px,#004bff 13.0px,#007fff 19.5px,#009dff 24.0px,#00d9ff 28.5px,#00fbff 34.0px,#08fff7 36.5px,#75ff8a 55.0px,#fffd00 81.0px,#ffc800 90.5px,#ff4900 117.0px,#ff1000 131.0px,#fd0000 143.0px,#ea0000 169.5px,#ee0000 212.3px,#ff0300 234.3px,#ff1600 243.8px,#ff8300 268.3px,#ffcd00 283.3px,#feff01 292.3px,#36ffc9 328.8px,#00ffff 337.8px,#00ddff 343.8px,#00b8ff 346.8px,#0098ff 349.3px,#0066ff 356.8px,#0033ff 363.3px,#0000fe 371.8px,#0000fa 372.8px)"></i>
<i style="left:268px;width:1px;background:linear-gradient(#0000fe 0.0px,#003aff 10.0px,#0083ff 19.5px,#00a1ff 24.0px,#00dbff 28.5px,#00fcff 34.0px,#1affe5 39.5px,#75ff8a 55.0px,#fffc00 81.0px,#ffca00 90.0px,#ff4900 117.0px,#ff1100 131.0px,#fe0000 145.5px,#ef0000 170.5px,#f30000 213.3px,#ff0400 232.8px,#ff1500 243.3px,#ff8000 267.8px,#ffec00 289.3px,#fbff04 292.8px,#34ffcb 329.3px,#00ffff 338.3px,#00dfff 343.8px,#00bbff 346.8px,#009cff 349.3px,#0065ff 357.3px,#0031ff 364.3px,#0000fe 372.8px)"></i>
<i style="left:269px;width:1px;background:linear-gradient(#0004ff 0.0px,#0046ff 11.0px,#0086ff 19.5px,#00a4ff 24.0px,#00ddff 28.5px,#00feff 34.0px,#2bffd4 42.0px,#adff52 65.5px,#fbff04 80.0px,#ffe900 84.0px,#ffb700 94.0px,#ff5000 115.5px,#ff1300 130.5px,#ff0200 145.5px,#f40000 174.5px,#f80000 214.3px,#ff0500 230.3px,#ff1400 242.8px,#ff8000 267.8px,#ffe900 288.8px,#fbff04 292.8px,#31ffce 329.8px,#01fffe 338.3px,#00e1ff 343.8px,#00beff 346.8px,#009bff 349.8px,#006aff 357.3px,#002fff 365.3px,#0004ff 372.8px)"></i>
<i style="left:270px;width:1px;background:linear-gradient(#0008ff 0.0px,#0047ff 10.5px,#008dff 20.0px,#00a7ff 24.0px,#00dfff 28.5px,#00ffff 34.0px,#b7ff48 67.5px,#fbff04 80.0px,#ffeb00 83.5px,#ffbf00 92.0px,#ff4c00 116.5px,#ff1400 130.5px,#ff0500 146.0px,#f80000 166.0px,#fb0000 214.3px,#ff0e00 238.8px,#ff2100 246.3px,#ff8c00 270.3px,#ffe500 288.3px,#feff01 292.3px,#c1ff3e 303.3px,#2fffd0 330.3px,#00ffff 338.8px,#00dfff 344.3px,#00a3ff 349.3px,#006aff 357.8px,#0026ff 367.3px,#0008ff 372.8px)"></i>
<i style="left:271px;width:1px;background:linear-gradient(#000cff 0.0px,#0048ff 10.0px,#0091ff 20.0px,#00abff 24.0px,#00e1ff 28.5px,#00ffff 33.5px,#36ffc9 43.5px,#f7ff08 79.5px,#fffc00 81.0px,#ffcb00 89.0px,#ff4c00 116.5px,#ff1500 130.5px,#ff0600 146.0px,#fb0000 165.5px,#fe0000 215.3px,#ff1300 241.3px,#ff3500 250.8px,#ff8e00 270.8px,#ffe100 287.8px,#feff01 292.3px,#c6ff39 302.3px,#30ffcf 330.3px,#00ffff 339.3px,#00e1ff 344.3px,#00a2ff 349.8px,#006eff 357.8px,#0025ff 368.3px,#000cff 372.8px)"></i>
<i style="left:272px;width:1px;background:linear-gradient(#0011ff 0.0px,#0050ff 10.5px,#0095ff 20.0px,#00afff 24.0px,#00e7ff 29.0px,#01fffe 33.5px,#40ffbf 45.0px,#f4ff0b 79.0px,#fffc00 81.0px,#ffca00 89.0px,#ff4d00 116.5px,#ff1600 130.5px,#ff0700 146.5px,#fd0000 169.0px,#ff0300 219.3px,#ff1400 241.3px,#ff3600 250.8px,#ff9000 271.3px,#ffe000 287.8px,#feff01 292.3px,#caff35 301.3px,#31ffce 330.3px,#01fffe 339.3px,#00e3ff 344.3px,#00a7ff 349.8px,#0072ff 357.8px,#0026ff 368.8px,#0011ff 372.8px)"></i>
<i style="left:273px;width:1px;background:linear-gradient(#0016ff 0.0px,#0058ff 11.0px,#009cff 20.5px,#00b9ff 24.5px,#00e9ff 29.0px,#02fffd 33.5px,#4cffb3 47.0px,#f0ff0f 78.5px,#fffc00 81.0px,#ffcb00 88.5px,#ff4f00 116.0px,#ff1700 130.5px,#ff0800 146.5px,#fe0000 173.5px,#ff0400 217.8px,#ff1400 241.3px,#ff3600 250.8px,#ff8f00 271.3px,#ffdc00 287.3px,#feff01 292.3px,#ccff33 300.8px,#32ffcd 330.3px,#00ffff 339.8px,#00e1ff 344.8px,#00acff 349.8px,#0073ff 358.3px,#0022ff 370.3px,#0016ff 372.8px)"></i>
<i style="left:274px;width:1px;background:linear-gradient(#001bff 0.0px,#0064ff 12.0px,#00a4ff 21.0px,#00c3ff 25.0px,#00eaff 29.0px,#01fffe 33.0px,#44ffbb 45.5px,#f0ff0f 78.5px,#fffc00 81.0px,#ffca00 88.5px,#ff4f00 116.0px,#ff1700 130.5px,#ff0900 147.0px,#ff0100 178.0px,#ff0500 219.3px,#ff1500 241.3px,#ff3700 250.8px,#ff8e00 271.3px,#ffdb00 287.3px,#ffff00 292.3px,#ccff33 300.8px,#30ffcf 330.8px,#00feff 340.3px,#00deff 345.3px,#00adff 350.3px,#0073ff 358.8px,#001fff 371.8px,#001bff 372.8px)"></i>
<i style="left:275px;width:1px;background:linear-gradient(#0020ff 0.0px,#0070ff 13.0px,#00c7ff 25.0px,#00efff 29.5px,#02fffd 33.0px,#eeff11 78.0px,#ffff00 80.5px,#ffcc00 88.0px,#ff5100 115.5px,#ff1800 130.5px,#ff0900 147.0px,#ff0300 181.0px,#ff0700 221.3px,#ff1600 241.3px,#ff3900 251.3px,#ff9000 271.8px,#ffda00 287.3px,#fcff03 292.8px,#c7ff38 301.8px,#2dffd2 331.3px,#00ffff 340.3px,#00e0ff 345.3px,#00afff 350.8px,#003fff 367.3px,#0020ff 372.8px)"></i>
<i style="left:276px;width:1px;background:linear-gradient(#0026ff 0.0px,#0078ff 13.5px,#00d0ff 25.5px,#00f5ff 30.5px,#03fffc 33.0px,#efff10 78.0px,#fffd00 80.5px,#ffc900 88.5px,#ff5100 115.5px,#ff1900 130.5px,#ff0a00 147.0px,#ff0400 185.5px,#ff0a00 224.8px,#ff1800 241.8px,#ff4900 255.3px,#ff9900 273.8px,#ffda00 287.3px,#fdff02 292.8px,#c3ff3c 302.8px,#2bffd4 331.8px,#00fdff 340.8px,#00ddff 345.8px,#00aeff 351.8px,#004dff 365.8px,#0026ff 372.8px)"></i>
<i style="left:277px;width:1px;background:linear-gradient(#002bff 0.0px,#0080ff 14.0px,#00f5ff 30.5px,#03fffc 33.0px,#f1ff0e 78.0px,#fffc00 80.5px,#ffc800 88.5px,#ff5100 115.5px,#ff1a00 130.5px,#ff0b00 147.0px,#ff0600 193.3px,#ff0d00 230.8px,#ff1b00 242.8px,#ff8100 268.8px,#ffd900 287.3px,#feff01 292.8px,#bcff43 304.3px,#29ffd6 332.3px,#00fdff 340.8px,#00d7ff 346.8px,#005bff 364.3px,#002bff 372.8px)"></i>
<i style="left:278px;width:1px;background:linear-gradient(#0030ff 0.0px,#0084ff 14.0px,#00f0ff 29.5px,#03fffc 33.0px,#efff10 77.5px,#fffb00 80.5px,#ffc500 89.0px,#ff5100 115.5px,#ff1900 131.0px,#ff0b00 149.0px,#ff0900 214.8px,#ff1500 239.3px,#ff2a00 247.3px,#ff8f00 271.8px,#ffd800 287.3px,#fcff03 293.3px,#a8ff57 308.3px,#2affd5 332.3px,#00fdff 340.8px,#00c9ff 349.3px,#0063ff 363.8px,#0030ff 372.8px)"></i>
<i style="left:279px;width:1px;background:linear-gradient(#0035ff 0.0px,#0088ff 14.0px,#00daff 25.5px,#03fffc 33.0px,#a6ff59 64.0px,#fffd00 80.0px,#ffc500 89.0px,#ff5400 115.0px,#ff1a00 131.0px,#ff0c00 149.0px,#ff0c00 223.8px,#ff1a00 241.8px,#ff5500 258.3px,#ffcc00 285.3px,#feff01 293.3px,#a3ff5c 309.3px,#27ffd8 332.8px,#00fdff 340.8px,#00c0ff 351.3px,#006bff 363.3px,#0035ff 372.8px)"></i>
<i style="left:280px;width:1px;background:linear-gradient(#003aff 0.0px,#0090ff 14.5px,#00d9ff 24.5px,#02fffd 33.0px,#94ff6b 60.5px,#f6ff09 78.0px,#fffb00 80.0px,#ffc400 89.0px,#ff5400 115.0px,#ff1b00 131.0px,#ff0d00 148.5px,#ff0e00 227.3px,#ff1c00 242.3px,#ff7300 265.8px,#ffd700 287.3px,#fcff03 293.8px,#9cff63 310.8px,#28ffd7 332.8px,#00fcff 340.8px,#00c9ff 350.8px,#0073ff 362.8px,#003aff 372.8px)"></i>
<i style="left:281px;width:1px;background:linear-gradient(#003fff 0.0px,#0094ff 14.5px,#00dbff 24.0px,#02fffd 33.0px,#86ff79 57.5px,#e5ff1a 75.0px,#fffd00 79.5px,#ffc300 89.0px,#ff5600 114.5px,#ff1b00 131.0px,#ff0e00 148.0px,#ff0f00 229.8px,#ff1f00 243.3px,#ff8500 269.8px,#ffd900 287.8px,#feff01 293.8px,#9fff60 310.3px,#28ffd7 332.8px,#00feff 340.3px,#00d2ff 350.3px,#007dff 361.8px,#003fff 372.8px)"></i>
<i style="left:282px;width:1px;background:linear-gradient(#0045ff 0.0px,#0099ff 14.5px,#00deff 23.5px,#00fbff 32.0px,#0dfff2 35.0px,#81ff7e 56.5px,#daff25 73.0px,#ffff00 79.0px,#ffc100 89.5px,#ff5600 114.5px,#ff1c00 131.0px,#ff0e00 148.0px,#ff1100 231.3px,#ff2000 243.3px,#ff8400 269.8px,#ffd800 287.8px,#fcff03 294.3px,#9fff60 310.3px,#2cffd3 332.3px,#00feff 340.3px,#00e7ff 346.3px,#00d8ff 350.3px,#0085ff 361.3px,#0045ff 372.8px)"></i>
<i style="left:283px;width:1px;background:linear-gradient(#004aff 0.0px,#009dff 14.5px,#00e0ff 23.0px,#00f5ff 31.0px,#03fffc 33.5px,#73ff8c 53.5px,#d2ff2d 71.5px,#fffd00 79.0px,#ffc000 89.5px,#ff5600 114.5px,#ff1c00 131.0px,#ff0f00 148.0px,#ff1100 231.8px,#ff2100 243.8px,#ff8600 270.3px,#ffda00 288.3px,#feff01 294.3px,#a2ff5d 309.8px,#2cffd3 332.3px,#00fdff 340.3px,#00eaff 345.3px,#00e0ff 349.8px,#008cff 360.8px,#004aff 372.8px)"></i>
<i style="left:284px;width:1px;background:linear-gradient(#004dff 0.0px,#00a0ff 14.5px,#00e5ff 23.0px,#00f2ff 30.5px,#03fffc 33.5px,#6eff91 52.5px,#cdff32 70.5px,#ffff00 78.5px,#ffbd00 90.0px,#ff5600 114.5px,#ff1c00 131.0px,#ff0e00 148.0px,#ff1100 230.8px,#ff2000 243.3px,#ff8400 269.8px,#ffda00 288.3px,#fcff03 294.8px,#a3ff5c 309.8px,#2dffd2 332.3px,#00fcff 340.3px,#00ecff 344.8px,#00e5ff 349.8px,#0093ff 360.3px,#004dff 372.8px)"></i>
<i style="left:285px;width:1px;background:linear-gradient(#004fff 0.0px,#00a2ff 14.5px,#00e7ff 23.0px,#00f2ff 30.5px,#03fffc 33.5px,#6cff93 52.0px,#cbff34 70.0px,#fffd00 78.5px,#ffba00 90.5px,#ff5500 114.5px,#ff1c00 131.0px,#ff0d00 148.0px,#ff0f00 228.8px,#ff1e00 242.8px,#ff8100 269.3px,#ffd900 288.3px,#feff01 294.8px,#a6ff59 309.3px,#30ffcf 331.8px,#00fcff 340.3px,#00ecff 344.8px,#00e7ff 349.8px,#0094ff 360.3px,#004fff 372.8px)"></i>
<i style="left:286px;width:1px;background:linear-gradient(#004eff 0.0px,#009eff 14.0px,#00e7ff 23.0px,#00f3ff 30.5px,#04fffb 33.5px,#70ff8f 52.5px,#c9ff36 69.5px,#fffe00 78.0px,#ffba00 90.5px,#ff5500 114.5px,#ff1c00 131.0px,#ff0d00 148.0px,#ff0d00 225.3px,#ff1c00 241.8px,#ff6400 262.3px,#ffd500 287.8px,#fdff02 295.3px,#a7ff58 309.3px,#31ffce 331.8px,#00fdff 340.3px,#00edff 344.8px,#00e7ff 349.8px,#008dff 361.3px,#004eff 372.8px)"></i>
<i style="left:287px;width:1px;background:linear-gradient(#004cff 0.0px,#0095ff 13.0px,#00e5ff 23.0px,#00f7ff 31.0px,#02fffd 33.0px,#73ff8c 53.0px,#c9ff36 69.5px,#fffd00 78.0px,#ffb700 91.0px,#ff5400 114.5px,#ff1b00 131.0px,#ff0b00 148.5px,#ff0900 215.8px,#ff1500 237.8px,#ff2800 246.3px,#ff8b00 271.8px,#ffdf00 289.8px,#feff01 295.3px,#aaff55 308.8px,#32ffcd 331.8px,#00ffff 340.3px,#00edff 345.3px,#00e5ff 349.8px,#0085ff 362.3px,#004cff 372.8px)"></i>
<i style="left:288px;width:1px;background:linear-gradient(#0048ff 0.0px,#0088ff 11.5px,#00e2ff 23.0px,#00fbff 31.5px,#0afff5 34.0px,#7bff84 54.5px,#caff35 69.5px,#fffe00 77.5px,#ffb400 91.5px,#ff5400 114.5px,#ff1b00 131.0px,#ff0a00 148.5px,#ff0600 201.8px,#ff1000 233.3px,#ff2100 244.3px,#ff8400 270.3px,#ffe100 290.3px,#fdff02 295.8px,#adff52 308.3px,#32ffcd 331.8px,#00feff 340.8px,#00ebff 346.3px,#00dfff 350.3px,#007eff 362.8px,#0048ff 372.8px)"></i>
<i style="left:289px;width:1px;background:linear-gradient(#0045ff 0.0px,#0075ff 9.0px,#00abff 16.0px,#00dfff 23.0px,#03fffc 32.5px,#83ff7c 56.0px,#c8ff37 69.0px,#fffc00 77.5px,#ffb200 92.0px,#ff5100 115.0px,#ff1a00 131.0px,#ff0900 148.5px,#ff0400 187.3px,#ff0a00 224.8px,#ff1a00 241.8px,#ff6800 263.8px,#ffdb00 289.3px,#ffff00 295.8px,#adff52 308.3px,#33ffcc 331.8px,#00fdff 341.3px,#00daff 350.8px,#0075ff 363.8px,#0045ff 372.8px)"></i>
<i style="left:290px;width:1px;background:linear-gradient(#0042ff 0.0px,#0067ff 7.5px,#009cff 14.5px,#00d4ff 21.5px,#02fffd 32.0px,#8bff74 57.5px,#c9ff36 69.0px,#fffe00 77.0px,#ffaf00 92.5px,#ff5100 115.0px,#ff1900 131.5px,#ff0700 150.5px,#ff0200 186.0px,#ff0700 221.8px,#ff1800 240.8px,#ff3f00 252.8px,#ff9000 273.3px,#ffec00 292.8px,#fdff02 296.3px,#b1ff4e 307.8px,#33ffcc 331.8px,#00feff 341.3px,#00d4ff 351.3px,#009cff 358.3px,#0067ff 365.3px,#0042ff 372.8px)"></i>
<i style="left:291px;width:1px;background:linear-gradient(#003eff 0.0px,#005dff 6.5px,#0091ff 13.5px,#00c5ff 19.5px,#00ebff 27.0px,#03fffc 32.0px,#96ff69 59.5px,#cdff32 69.5px,#ffff00 76.5px,#ffb000 92.0px,#ff5200 114.5px,#ff1900 131.5px,#ff0600 151.0px,#ff0000 181.5px,#ff0500 219.3px,#ff1700 240.3px,#ff3900 251.3px,#ff8d00 272.8px,#ffed00 293.3px,#fcff03 296.8px,#b2ff4d 307.8px,#34ffcb 331.8px,#00fdff 341.8px,#00cbff 352.3px,#009fff 357.8px,#006aff 364.3px,#0041ff 371.8px,#003eff 372.8px)"></i>
<i style="left:292px;width:1px;background:linear-gradient(#003bff 0.0px,#0058ff 6.5px,#008fff 13.5px,#00c0ff 19.0px,#00ffff 31.0px,#a6ff59 62.5px,#daff25 71.0px,#fffd00 76.5px,#ffad00 92.5px,#ff5000 115.0px,#ff1800 131.5px,#ff0500 151.5px,#fd0000 176.5px,#ff0300 219.3px,#ff1700 240.8px,#ff4100 253.8px,#ff9000 273.8px,#fff100 294.3px,#fbff04 297.3px,#b4ff4b 307.8px,#30ffcf 332.8px,#00fdff 342.3px,#00bdff 354.3px,#0069ff 363.8px,#0041ff 370.8px,#003bff 372.8px)"></i>
<i style="left:293px;width:1px;background:linear-gradient(#0038ff 0.0px,#0051ff 6.0px,#0083ff 12.5px,#00bcff 18.5px,#00ffff 30.5px,#d0ff2f 69.0px,#fffd00 76.0px,#ffb200 91.0px,#ff5100 114.5px,#ff1800 131.5px,#ff0300 152.0px,#fc0000 208.8px,#ff0800 227.8px,#ff1b00 242.8px,#ff7900 268.8px,#ffec00 293.8px,#feff01 297.3px,#b4ff4b 308.3px,#00fdff 342.8px,#00b4ff 355.3px,#0065ff 363.8px,#003fff 370.3px,#0038ff 372.8px)"></i>
<i style="left:294px;width:1px;background:linear-gradient(#0035ff 0.0px,#004aff 5.5px,#0077ff 11.5px,#00b8ff 18.0px,#00e9ff 26.5px,#01fffe 30.0px,#d4ff2b 69.0px,#fffd00 75.5px,#ffb500 90.0px,#ff5000 114.5px,#ff1700 131.5px,#ff0100 152.5px,#f90000 182.0px,#fd0000 215.8px,#ff1300 238.8px,#ff2e00 248.8px,#ff8500 271.8px,#ffee00 294.8px,#feff01 297.8px,#b4ff4b 309.3px,#01fffe 342.8px,#00c8ff 351.8px,#00abff 356.3px,#0066ff 363.3px,#0040ff 369.3px,#0035ff 372.8px)"></i>
<i style="left:295px;width:1px;background:linear-gradient(#0032ff 0.0px,#0047ff 5.5px,#0071ff 11.0px,#00b7ff 18.0px,#00ddff 25.0px,#01fffe 29.5px,#d9ff26 69.0px,#fffd00 75.0px,#ffb700 89.0px,#ff4d00 115.0px,#ff1700 131.5px,#ff0000 152.5px,#f70000 174.5px,#fb0000 214.8px,#ff0a00 231.8px,#ff1d00 243.8px,#ff7b00 269.8px,#ffeb00 294.8px,#feff01 298.3px,#abff54 311.8px,#01fffe 343.3px,#00cbff 350.8px,#00afff 355.8px,#005fff 363.8px,#003dff 369.3px,#0032ff 372.8px)"></i>
<i style="left:296px;width:1px;background:linear-gradient(#0032ff 0.0px,#0046ff 5.5px,#0071ff 11.0px,#00b8ff 18.0px,#00deff 25.0px,#00ffff 29.0px,#dfff20 69.0px,#fffc00 74.5px,#ffb700 88.5px,#ff4c00 115.0px,#ff1500 132.0px,#fe0000 152.5px,#f50000 172.5px,#f90000 213.8px,#ff0600 228.3px,#ff1b00 243.3px,#ff7800 269.3px,#ffe800 294.8px,#fcff03 299.3px,#89ff76 318.8px,#00ffff 343.8px,#00d0ff 349.8px,#00b4ff 355.3px,#005fff 363.8px,#003cff 369.3px,#0032ff 372.8px)"></i>
<i style="left:297px;width:1px;background:linear-gradient(#0035ff 0.0px,#004aff 5.5px,#0079ff 11.5px,#00baff 18.0px,#00dcff 24.5px,#00feff 28.5px,#deff21 68.0px,#fffe00 73.5px,#ffb900 87.5px,#ff4900 115.5px,#ff1500 132.0px,#fe0000 151.5px,#f30000 171.0px,#f70000 213.3px,#ff0400 227.8px,#ff1900 242.8px,#ff7400 268.8px,#ffe500 294.8px,#fdff02 299.8px,#66ff99 325.8px,#00feff 344.3px,#00d2ff 349.8px,#00b7ff 355.3px,#005fff 364.3px,#003eff 369.8px,#0035ff 372.8px)"></i>
<i style="left:298px;width:1px;background:linear-gradient(#003cff 0.0px,#0052ff 5.5px,#0085ff 12.0px,#00beff 18.0px,#00e3ff 25.0px,#01fffe 28.5px,#d7ff28 66.0px,#fffd00 73.0px,#ffb500 88.0px,#ff4700 116.0px,#ff1400 132.0px,#fd0000 150.5px,#f10000 170.0px,#f50000 212.8px,#ff0400 228.3px,#ff1a00 243.3px,#ff7300 268.8px,#ffe200 294.8px,#feff01 300.3px,#44ffbb 332.3px,#00fdff 344.8px,#00d6ff 349.8px,#00b7ff 355.8px,#0066ff 364.3px,#0043ff 370.3px,#003cff 372.8px)"></i>
<i style="left:299px;width:1px;background:linear-gradient(#0043ff 0.0px,#005eff 6.0px,#009bff 13.5px,#00c6ff 18.5px,#00e7ff 25.0px,#00ffff 28.0px,#cdff32 63.5px,#ffff00 72.0px,#ffb200 88.0px,#ff4400 116.5px,#ff1300 132.5px,#fd0000 150.0px,#ef0000 169.5px,#f30000 212.8px,#ff0400 228.8px,#ff1a00 243.3px,#ff7200 268.8px,#ffdf00 294.8px,#fdff02 301.3px,#45ffba 332.8px,#00ffff 344.8px,#00d8ff 350.3px,#00bbff 355.8px,#006cff 364.8px,#0047ff 371.3px,#0043ff 372.8px)"></i>
<i style="left:300px;width:1px;background:linear-gradient(#004bff 0.0px,#006bff 6.5px,#00afff 15.0px,#00cfff 19.5px,#00efff 25.5px,#03fffc 28.0px,#c6ff39 61.5px,#ffff00 71.0px,#ffac00 89.0px,#ff4100 117.0px,#ff1200 132.5px,#fd0000 149.0px,#ed0000 168.5px,#f10000 212.3px,#ff0300 229.3px,#ff1b00 243.8px,#ff7300 269.3px,#ffdf00 295.3px,#fcff03 302.3px,#59ffa6 329.8px,#00feff 345.3px,#00daff 350.8px,#00bcff 356.3px,#006eff 365.8px,#004cff 372.3px,#004bff 372.8px)"></i>
<i style="left:301px;width:1px;background:linear-gradient(#0052ff 0.0px,#0078ff 7.0px,#00d1ff 19.0px,#00f6ff 26.0px,#05fffa 28.0px,#c4ff3b 60.5px,#feff01 70.0px,#ffa400 90.5px,#ff3f00 117.5px,#ff1100 133.0px,#fc0000 148.5px,#ec0000 168.0px,#ef0000 211.8px,#ff0300 229.8px,#ff1a00 243.8px,#ff7100 269.3px,#ffdb00 295.3px,#feff01 302.8px,#65ff9a 328.3px,#00fdff 345.8px,#00daff 351.8px,#00beff 356.8px,#0071ff 366.8px,#0052ff 372.8px)"></i>
<i style="left:302px;width:1px;background:linear-gradient(#005aff 0.0px,#0084ff 7.5px,#00d5ff 19.0px,#01fffe 27.0px,#c5ff3a 60.0px,#feff01 69.0px,#ffa100 91.0px,#ff3c00 118.0px,#ff1000 133.0px,#fc0000 147.5px,#ea0000 168.0px,#ed0000 211.8px,#ff0400 230.8px,#ff1b00 244.3px,#ff7000 269.3px,#ffdb00 295.8px,#feff01 303.8px,#76ff89 325.8px,#00fdff 346.3px,#00bfff 357.3px,#006eff 368.8px,#005aff 372.8px)"></i>
<i style="left:303px;width:1px;background:linear-gradient(#0062ff 0.0px,#0096ff 9.0px,#00d9ff 19.0px,#00ffff 26.5px,#c6ff39 59.5px,#feff01 68.0px,#ff9d00 91.5px,#ff3c00 118.0px,#ff1000 133.0px,#fc0000 147.0px,#e80000 167.5px,#eb0000 211.3px,#ff0300 231.3px,#ff1c00 244.8px,#ff7100 269.8px,#ffda00 296.3px,#feff01 304.8px,#85ff7a 323.8px,#00fcff 346.8px,#00c3ff 357.3px,#006bff 370.8px,#0062ff 372.8px)"></i>
<i style="left:304px;width:1px;background:linear-gradient(#006aff 0.0px,#00a6ff 10.5px,#00ddff 19.5px,#02fffd 26.5px,#c6ff39 59.0px,#fffe00 67.5px,#ff9d00 91.0px,#ff3900 118.5px,#ff0f00 133.5px,#fc0000 146.5px,#e70000 167.5px,#ea0000 211.3px,#ff0300 231.3px,#ff1c00 244.8px,#ff7000 269.8px,#ffd900 296.8px,#fdff02 305.8px,#90ff6f 322.3px,#00feff 346.8px,#00c1ff 358.3px,#006eff 371.8px,#006aff 372.8px)"></i>
<i style="left:305px;width:1px;background:linear-gradient(#0072ff 0.0px,#00bcff 13.0px,#00e4ff 20.5px,#00ffff 26.0px,#c4ff3b 58.5px,#ffff00 67.0px,#ff9b00 91.5px,#ff3900 118.5px,#ff0f00 133.5px,#fc0000 146.0px,#e60000 167.5px,#ea0000 211.3px,#ff0300 231.8px,#ff1d00 245.3px,#ff6f00 269.8px,#ffe400 299.8px,#fcff03 306.3px,#94ff6b 321.8px,#00ffff 346.8px,#00deff 353.8px,#0072ff 372.8px)"></i>
<i style="left:306px;width:1px;background:linear-gradient(#007aff 0.0px,#00e2ff 19.5px,#00ffff 26.0px,#c3ff3c 58.5px,#feff01 67.0px,#ff9800 92.5px,#ff3b00 118.0px,#ff0e00 133.5px,#fc0000 146.0px,#e70000 167.5px,#ea0000 211.3px,#ff0300 231.8px,#ff1d00 245.3px,#ff6f00 269.8px,#ffeb00 301.3px,#feff01 305.8px,#8dff72 322.8px,#00fcff 347.3px,#00c4ff 359.3px,#007aff 372.8px)"></i>
<i style="left:307px;width:1px;background:linear-gradient(#0082ff 0.0px,#00e4ff 19.5px,#03fffc 26.5px,#b6ff49 57.0px,#fdff02 67.5px,#ff9300 94.0px,#ff3d00 117.5px,#ff0e00 133.5px,#fc0000 146.0px,#e70000 167.5px,#eb0000 211.8px,#ff0300 231.8px,#ff1d00 245.3px,#ff7000 269.8px,#ffec00 300.8px,#fdff02 305.3px,#81ff7e 324.3px,#00fcff 347.3px,#00c3ff 360.3px,#0082ff 372.8px)"></i>
<i style="left:308px;width:1px;background:linear-gradient(#008aff 0.0px,#00e4ff 19.0px,#03fffc 26.5px,#a3ff5c 54.5px,#feff01 68.5px,#ff9500 94.0px,#ff3f00 117.0px,#ff0f00 133.0px,#fc0000 146.0px,#e80000 167.5px,#eb0000 211.8px,#ff0300 231.8px,#ff1d00 245.3px,#ff7100 269.8px,#ffed00 300.3px,#fcff03 304.8px,#72ff8d 326.3px,#00fdff 347.3px,#00c6ff 360.8px,#008aff 372.8px)"></i>
<i style="left:309px;width:1px;background:linear-gradient(#0092ff 0.0px,#00e3ff 18.0px,#03fffc 26.5px,#84ff7b 50.0px,#fcff03 69.0px,#ff6800 105.5px,#ff1400 131.0px,#fd0000 145.0px,#e80000 167.5px,#ec0000 211.8px,#ff0300 231.8px,#ff1d00 245.3px,#ff7200 269.8px,#fff100 300.3px,#fcff03 303.8px,#b2ff4d 315.3px,#34ffcb 336.8px,#00fdff 347.3px,#00c6ff 361.8px,#0092ff 372.8px)"></i>
<i style="left:310px;width:1px;background:linear-gradient(#009aff 0.0px,#00e2ff 17.0px,#02fffd 26.5px,#63ff9c 45.0px,#fdff02 70.0px,#ff7700 102.0px,#ff2000 126.5px,#ff0600 138.5px,#fa0000 147.5px,#e90000 168.0px,#ec0000 212.3px,#ff0300 231.8px,#ff1c00 244.8px,#ff7200 269.8px,#fff200 299.8px,#fdff02 302.8px,#b9ff46 313.8px,#3cffc3 334.8px,#00fdff 347.3px,#00caff 362.3px,#009aff 372.8px)"></i>
<i style="left:311px;width:1px;background:linear-gradient(#00a2ff 0.0px,#00e1ff 15.5px,#02fffd 26.5px,#51ffae 42.5px,#feff01 71.0px,#ff8e00 96.5px,#ff4000 117.0px,#ff0f00 133.0px,#fd0000 145.5px,#e90000 168.0px,#ed0000 212.3px,#ff0300 231.8px,#ff1c00 244.8px,#ff7300 269.8px,#fff500 299.8px,#fcff03 302.3px,#3dffc2 333.8px,#00ffff 346.8px,#00cbff 363.3px,#00a2ff 372.8px)"></i>
<i style="left:312px;width:1px;background:linear-gradient(#00aaff 0.0px,#00e2ff 14.5px,#02fffd 26.5px,#42ffbd 40.5px,#fdff02 71.5px,#ff6a00 105.5px,#ff1400 131.0px,#fd0000 145.0px,#ea0000 168.0px,#ed0000 212.3px,#ff0400 232.3px,#ff1d00 245.3px,#ff7600 270.3px,#fff600 299.3px,#fbff04 301.8px,#37ffc8 334.3px,#00ffff 346.8px,#00d1ff 363.3px,#00aaff 372.8px)"></i>
<i style="left:313px;width:1px;background:linear-gradient(#00afff 0.0px,#00e3ff 14.0px,#02fffd 27.0px,#3cffc3 40.0px,#ffff00 72.5px,#ff9100 96.5px,#ff4100 117.0px,#ff0f00 133.0px,#fd0000 145.5px,#eb0000 168.0px,#ee0000 212.8px,#ff0300 232.3px,#ff1d00 245.3px,#ff7700 270.3px,#fff700 298.8px,#fcff03 300.8px,#31ffce 334.8px,#00feff 346.8px,#00d5ff 363.3px,#00afff 372.8px)"></i>
<i style="left:314px;width:1px;background:linear-gradient(#00afff 0.0px,#00e1ff 14.0px,#02fffd 27.5px,#3bffc4 40.5px,#feff01 73.0px,#ff7a00 102.0px,#ff2100 126.5px,#ff0600 138.5px,#fa0000 148.0px,#eb0000 169.0px,#ee0000 212.8px,#ff0300 232.3px,#ff1c00 244.8px,#ff7600 269.8px,#fff800 298.3px,#f9ff06 300.8px,#2effd1 334.8px,#00feff 346.3px,#00d2ff 363.8px,#00afff 372.8px)"></i>
<i style="left:315px;width:1px;background:linear-gradient(#00a6ff 0.0px,#00dbff 14.5px,#00fcff 27.0px,#1fffe0 35.5px,#66ff99 48.5px,#feff01 73.5px,#ff7b00 102.0px,#ff2100 126.5px,#ff0700 138.0px,#fb0000 147.0px,#ec0000 168.5px,#ef0000 213.3px,#ff0300 232.3px,#ff1c00 244.8px,#ff7600 269.8px,#fff500 297.3px,#fbff04 299.8px,#2dffd2 334.3px,#00feff 345.3px,#00e5ff 354.3px,#00c4ff 365.3px,#00a6ff 372.8px)"></i>
<i style="left:316px;width:1px;background:linear-gradient(#0098ff 0.0px,#00d6ff 16.5px,#00f2ff 26.0px,#03fffc 29.5px,#3cffc3 42.0px,#fffe00 74.5px,#ff9800 95.5px,#ff4500 116.0px,#ff1000 132.5px,#fd0000 145.0px,#ec0000 168.5px,#f00000 213.3px,#ff0300 232.3px,#ff1c00 244.8px,#ff7700 269.8px,#ffe800 294.3px,#fdff02 298.8px,#2cffd3 333.8px,#00feff 344.3px,#00e2ff 351.8px,#00b8ff 364.8px,#0098ff 372.8px)"></i>
<i style="left:317px;width:1px;background:linear-gradient(#0087ff 0.0px,#00d4ff 19.5px,#00ecff 26.0px,#02fffd 30.0px,#38ffc7 42.0px,#fffe00 75.0px,#ffa100 93.5px,#ff4900 115.0px,#ff1000 132.5px,#fd0000 145.0px,#ed0000 168.5px,#f00000 213.8px,#ff0300 232.3px,#ff1c00 244.8px,#ff7800 269.8px,#ffde00 291.8px,#fdff02 298.3px,#2bffd4 333.3px,#00fcff 343.8px,#00dbff 350.8px,#00afff 363.3px,#0087ff 372.8px)"></i>
<i style="left:318px;width:1px;background:linear-gradient(#0076ff 0.0px,#00cdff 20.5px,#00e3ff 25.5px,#01fffe 30.5px,#34ffcb 42.0px,#fffe00 75.5px,#ffa900 92.0px,#ff4b00 114.5px,#ff1200 132.0px,#fd0000 145.0px,#ed0000 168.5px,#f10000 214.3px,#ff0300 232.3px,#ff1c00 244.8px,#ff7800 269.8px,#ffd700 290.3px,#fdff02 297.8px,#67ff98 322.3px,#1bffe4 335.8px,#00fdff 342.8px,#00d2ff 350.8px,#00a9ff 361.3px,#0076ff 372.8px)"></i>
<i style="left:319px;width:1px;background:linear-gradient(#0064ff 0.0px,#00c5ff 21.0px,#00dcff 25.5px,#00fcff 30.5px,#26ffd9 40.0px,#74ff8b 53.0px,#fffe00 76.0px,#ffae00 91.0px,#ff4b00 114.5px,#ff1200 132.0px,#fd0000 145.0px,#ee0000 169.0px,#f20000 214.3px,#ff0300 232.3px,#ff1c00 244.8px,#ff7900 269.8px,#ffd300 289.3px,#fdff02 297.3px,#6dff92 320.8px,#21ffde 333.8px,#00fcff 342.3px,#00c9ff 350.8px,#00a4ff 359.3px,#0064ff 372.8px)"></i>
<i style="left:320px;width:1px;background:linear-gradient(#0053ff 0.0px,#009fff 15.0px,#00ceff 24.5px,#00f4ff 29.5px,#02fffd 32.5px,#32ffcd 43.0px,#f7ff08 75.0px,#fffc00 77.0px,#ffb100 90.5px,#ff4c00 114.5px,#ff1200 132.0px,#fd0000 145.0px,#ef0000 169.0px,#f20000 214.8px,#ff0300 232.3px,#ff1c00 244.8px,#ff7a00 269.8px,#ffd200 288.8px,#fdff02 296.8px,#6dff92 320.3px,#25ffda 332.3px,#00fdff 341.3px,#00e3ff 345.8px,#00c2ff 350.3px,#009cff 358.3px,#0053ff 372.8px)"></i>
<i style="left:321px;width:1px;background:linear-gradient(#0042ff 0.0px,#0088ff 13.5px,#00b1ff 20.5px,#00c6ff 24.5px,#00edff 29.0px,#02fffd 33.5px,#36ffc9 44.5px,#dcff23 71.0px,#fffe00 77.0px,#ffb600 89.5px,#ff4c00 114.5px,#ff1200 132.0px,#fd0000 145.0px,#ef0000 169.5px,#f30000 215.3px,#ff0300 232.3px,#ff1c00 244.8px,#ff7a00 269.8px,#ffd000 288.3px,#fdff02 296.3px,#6cff93 319.8px,#26ffd9 331.3px,#00fdff 340.3px,#00e2ff 345.3px,#00bcff 349.8px,#0096ff 357.3px,#0057ff 368.3px,#0042ff 372.8px)"></i>
<i style="left:322px;width:1px;background:linear-gradient(#0031ff 0.0px,#0077ff 13.0px,#00a2ff 19.5px,#00bfff 24.5px,#00e9ff 29.0px,#03fffc 34.5px,#3bffc4 46.0px,#c4ff3b 67.5px,#fffe00 77.5px,#ffb900 89.0px,#ff4d00 114.5px,#ff1200 132.0px,#fd0000 145.0px,#f00000 169.5px,#f40000 215.8px,#ff0300 232.3px,#ff1d00 244.8px,#ff7b00 269.8px,#ffcf00 287.8px,#fdff02 295.8px,#6cff93 319.3px,#2affd5 329.8px,#01fffe 338.8px,#00e6ff 344.3px,#00b3ff 349.8px,#008aff 357.3px,#0057ff 365.3px,#0031ff 372.8px)"></i>
<i style="left:323px;width:1px;background:linear-gradient(#0020ff 0.0px,#0065ff 12.5px,#0098ff 19.5px,#00b3ff 24.0px,#00e2ff 28.5px,#00feff 34.5px,#2effd1 44.5px,#c7ff38 68.5px,#fffe00 78.0px,#ffba00 89.0px,#ff4d00 114.5px,#ff1200 132.0px,#fd0000 145.5px,#f10000 170.5px,#f50000 216.3px,#ff0300 231.8px,#ff1b00 244.3px,#ff7900 269.3px,#ffd000 287.8px,#fdff02 295.3px,#69ff96 319.3px,#29ffd6 329.3px,#00feff 338.3px,#00e2ff 344.3px,#00abff 349.8px,#0081ff 356.8px,#004fff 363.8px,#0020ff 372.8px)"></i>
<i style="left:324px;width:1px;background:linear-gradient(#000fff 0.0px,#0050ff 11.5px,#008fff 19.5px,#00abff 24.0px,#00deff 28.5px,#00fcff 35.0px,#1bffe4 41.5px,#53ffac 51.0px,#acff53 64.5px,#fffd00 78.5px,#ffbd00 88.5px,#ff4e00 114.5px,#ff1300 132.0px,#fe0000 146.0px,#f30000 171.5px,#f70000 216.8px,#ff0400 231.8px,#ff1c00 244.3px,#ff7a00 269.3px,#ffce00 287.3px,#feff01 294.8px,#65ff9a 319.3px,#28ffd7 328.8px,#00feff 337.3px,#00e1ff 343.8px,#00c2ff 346.8px,#00a2ff 349.8px,#007aff 356.3px,#0046ff 362.8px,#000fff 372.8px)"></i>
<i style="left:325px;width:1px;background:linear-gradient(#0000fe 0.0px,#0025ff 7.0px,#0053ff 13.5px,#0082ff 19.0px,#00a4ff 24.0px,#00daff 28.5px,#00f7ff 34.5px,#04fffb 37.5px,#42ffbd 49.0px,#9dff62 62.5px,#ffff00 78.5px,#ffbe00 88.5px,#ff4f00 114.5px,#ff1300 132.0px,#fe0000 147.0px,#f50000 173.5px,#f90000 217.3px,#ff0400 231.3px,#ff1c00 244.3px,#ff7b00 269.3px,#ffcf00 287.3px,#ffff00 294.3px,#62ff9d 319.3px,#24ffdb 328.8px,#00fdff 336.8px,#00deff 343.8px,#00bdff 346.8px,#009bff 349.8px,#006fff 356.3px,#0038ff 362.8px,#0000ff 372.3px,#0000fe 372.8px)"></i>
<i style="left:326px;width:1px;background:linear-gradient(#0000f2 0.0px,#0001ff 3.0px,#0040ff 12.5px,#007cff 19.0px,#009fff 24.0px,#00d7ff 28.5px,#00f3ff 34.0px,#02fffd 37.5px,#40ffbf 49.0px,#98ff67 62.0px,#fffd00 79.0px,#ffc100 88.0px,#ff5100 114.0px,#ff1500 131.5px,#ff0000 147.5px,#f60000 175.0px,#fb0000 218.3px,#ff0500 231.3px,#ff1d00 244.3px,#ff7c00 269.3px,#ffcf00 287.3px,#fdff02 294.3px,#64ff9b 318.8px,#25ffda 328.3px,#00fdff 336.3px,#00dbff 343.8px,#00c1ff 346.3px,#009aff 349.3px,#0068ff 356.3px,#0031ff 362.3px,#0000fe 370.3px,#0000f2 372.8px)"></i>
<i style="left:327px;width:1px;background:linear-gradient(#0000ec 0.0px,#0002ff 4.0px,#003cff 12.5px,#007aff 19.0px,#009dff 24.0px,#00d7ff 28.5px,#00f4ff 34.0px,#03fffc 37.5px,#40ffbf 49.0px,#98ff67 62.0px,#fffd00 79.0px,#ffc100 88.0px,#ff5000 114.5px,#ff1500 131.5px,#ff0000 148.5px,#f80000 178.5px,#fc0000 219.3px,#ff0900 233.8px,#ff1f00 244.8px,#ff7e00 269.8px,#ffcf00 287.3px,#fdff02 294.3px,#64ff9b 318.8px,#28ffd7 327.8px,#00fdff 336.3px,#00dbff 343.8px,#00c0ff 346.3px,#0098ff 349.3px,#0065ff 356.3px,#002cff 362.3px,#0000fe 369.3px,#0000ec 372.8px)"></i>
<i style="left:328px;width:1px;background:linear-gradient(#0000ee 0.0px,#0004ff 4.0px,#003eff 12.5px,#007aff 18.5px,#00a0ff 24.0px,#00daff 28.5px,#00f6ff 34.0px,#03fffc 37.0px,#40ffbf 48.5px,#98ff67 61.5px,#fffc00 79.0px,#ffc100 88.0px,#ff4e00 115.0px,#ff1600 131.5px,#ff0100 148.5px,#fa0000 191.3px,#ff0300 227.3px,#ff1900 242.8px,#ff7800 268.3px,#ffcf00 287.3px,#ffff00 294.3px,#67ff98 318.8px,#28ffd7 328.3px,#00feff 336.8px,#00deff 343.8px,#00c3ff 346.3px,#009bff 349.3px,#0068ff 356.3px,#0032ff 361.8px,#0000fd 369.8px,#0000ee 372.8px)"></i>
<i style="left:329px;width:1px;background:linear-gradient(#0000f3 0.0px,#0003ff 3.0px,#003fff 12.0px,#0080ff 18.5px,#00a5ff 24.0px,#00deff 28.5px,#00faff 34.0px,#0afff5 37.5px,#48ffb7 49.0px,#9bff64 61.5px,#fffd00 78.5px,#ffc000 88.0px,#ff4d00 115.5px,#ff1600 131.5px,#ff0200 148.5px,#fd0000 213.8px,#ff0a00 233.3px,#ff2000 244.8px,#ff7f00 269.8px,#ffce00 287.3px,#feff01 294.8px,#6bff94 318.8px,#2dffd2 328.3px,#00feff 337.8px,#00e2ff 343.8px,#00c7ff 346.3px,#00a0ff 349.3px,#0073ff 355.8px,#0037ff 361.8px,#0000ff 370.3px,#0000f3 372.8px)"></i>
<i style="left:330px;width:1px;background:linear-gradient(#0000f9 0.0px,#0003ff 2.0px,#0046ff 12.0px,#0087ff 18.5px,#00abff 24.0px,#00e2ff 28.5px,#00ffff 34.0px,#3dffc2 46.5px,#a5ff5a 62.5px,#fffe00 78.0px,#ffc000 88.0px,#ff4b00 116.0px,#ff1700 131.5px,#ff0400 148.5px,#fd0000 200.3px,#ff0500 227.3px,#ff1a00 242.8px,#ff7800 268.3px,#ffd000 287.8px,#fdff02 295.3px,#70ff8f 318.8px,#2fffd0 328.8px,#00ffff 338.8px,#00e2ff 344.3px,#00a6ff 349.3px,#007aff 355.8px,#003dff 361.8px,#0001ff 371.3px,#0000f9 372.8px)"></i>
<i style="left:331px;width:1px;background:linear-gradient(#0001ff 0.0px,#003cff 10.0px,#0066ff 14.5px,#008eff 18.5px,#00b0ff 24.0px,#00e7ff 28.5px,#01fffe 33.0px,#3cffc3 45.5px,#acff53 63.0px,#fffe00 77.5px,#ffbd00 88.5px,#ff4a00 116.5px,#ff1700 131.5px,#ff0500 148.5px,#ff0000 192.3px,#ff0600 227.3px,#ff1b00 242.8px,#ff7900 268.3px,#ffcf00 287.8px,#fdff02 295.8px,#75ff8a 318.8px,#31ffce 329.3px,#01fffe 339.8px,#00e7ff 344.3px,#00acff 349.3px,#0082ff 355.8px,#0044ff 361.8px,#0002ff 372.3px,#0001ff 372.8px)"></i>
<i style="left:332px;width:1px;background:linear-gradient(#0007ff 0.0px,#0043ff 10.0px,#006dff 14.5px,#0095ff 18.5px,#00b6ff 24.0px,#00ebff 28.5px,#01fffe 32.0px,#3cffc3 44.5px,#b0ff4f 63.0px,#fffe00 77.0px,#ffbc00 88.5px,#ff4800 117.0px,#ff1800 131.5px,#ff0600 148.5px,#ff0200 205.3px,#ff0c00 232.8px,#ff2000 244.3px,#ff7f00 269.8px,#ffd000 288.3px,#fdff02 296.3px,#79ff86 318.8px,#36ffc9 329.3px,#01fffe 340.8px,#00e7ff 344.8px,#00b1ff 349.3px,#0089ff 355.8px,#004aff 361.8px,#0009ff 372.3px,#0007ff 372.8px)"></i>
<i style="left:333px;width:1px;background:linear-gradient(#000eff 0.0px,#0049ff 10.0px,#006eff 14.0px,#0099ff 18.0px,#00bbff 24.0px,#00f0ff 28.5px,#01fffe 31.0px,#41ffbe 44.5px,#b4ff4b 63.0px,#fffe00 76.5px,#ffba00 89.0px,#ff4700 117.5px,#ff1800 131.5px,#ff0700 148.5px,#ff0400 213.3px,#ff1000 235.3px,#ff2300 245.3px,#ff8200 270.3px,#ffd200 288.8px,#fdff02 296.8px,#7eff81 318.8px,#39ffc6 329.8px,#01fffe 341.8px,#00e6ff 345.3px,#00b7ff 349.3px,#0095ff 355.3px,#0051ff 361.8px,#000fff 372.3px,#000eff 372.8px)"></i>
<i style="left:334px;width:1px;background:linear-gradient(#0014ff 0.0px,#0050ff 10.0px,#0075ff 14.0px,#00a0ff 18.0px,#00c1ff 24.0px,#00f4ff 28.5px,#02fffd 30.5px,#49ffb6 45.0px,#b5ff4a 62.5px,#fffe00 76.0px,#ffb900 89.0px,#ff4600 118.0px,#ff1900 131.5px,#ff0800 148.5px,#ff0700 219.8px,#ff1400 238.3px,#ff2a00 247.3px,#ff8400 270.8px,#ffd300 289.3px,#fdff02 297.3px,#83ff7c 318.8px,#39ffc6 330.8px,#00ffff 342.8px,#00e5ff 345.8px,#00bdff 349.3px,#009cff 355.3px,#0057ff 361.8px,#0016ff 372.3px,#0014ff 372.8px)"></i>
<i style="left:335px;width:1px;background:linear-gradient(#001bff 0.0px,#0056ff 10.0px,#007cff 14.0px,#00a7ff 18.0px,#00c7ff 24.0px,#00fdff 29.0px,#4bffb4 44.5px,#baff45 62.5px,#fffd00 75.5px,#ffb800 89.0px,#ff4400 118.5px,#ff1900 131.5px,#ff0900 148.5px,#ff0a00 225.3px,#ff1a00 241.8px,#ff6900 264.3px,#ffd400 289.8px,#feff01 297.8px,#84ff7b 319.3px,#38ffc7 331.8px,#00fdff 343.8px,#00d7ff 347.3px,#00c0ff 349.8px,#00a3ff 355.3px,#005eff 361.8px,#001cff 372.3px,#001bff 372.8px)"></i>
<i style="left:336px;width:1px;background:linear-gradient(#0021ff 0.0px,#005dff 10.0px,#0083ff 14.0px,#00abff 17.5px,#00ccff 24.0px,#00fdff 28.5px,#5cffa3 46.5px,#bbff44 62.0px,#fffd00 75.0px,#ffb800 89.0px,#ff4300 119.0px,#ff1a00 131.5px,#ff0b00 148.5px,#ff0c00 227.3px,#ff1d00 242.8px,#ff7c00 268.8px,#ffd800 290.8px,#fcff03 298.8px,#89ff76 319.3px,#3bffc4 332.3px,#00fdff 344.3px,#00c9ff 349.3px,#00abff 355.3px,#0064ff 361.8px,#0023ff 372.3px,#0021ff 372.8px)"></i>
<i style="left:337px;width:1px;background:linear-gradient(#0028ff 0.0px,#0063ff 10.0px,#0084ff 13.5px,#00b2ff 17.5px,#00d2ff 24.0px,#00fdff 28.0px,#25ffda 35.0px,#71ff8e 49.0px,#bfff40 62.0px,#fffc00 74.5px,#ffb600 89.5px,#ff4000 120.0px,#ff1a00 131.5px,#ff0c00 148.5px,#ff0d00 228.8px,#ff1f00 243.3px,#ff7e00 269.3px,#ffdb00 291.8px,#fcff03 299.3px,#8eff71 319.3px,#38ffc7 333.8px,#07fff8 343.8px,#00f9ff 345.3px,#00ceff 349.3px,#00b2ff 355.3px,#006bff 361.8px,#0029ff 372.3px,#0028ff 372.8px)"></i>
<i style="left:338px;width:1px;background:linear-gradient(#002fff 0.0px,#006aff 10.0px,#008bff 13.5px,#00b9ff 17.5px,#00dcff 24.5px,#00fdff 27.5px,#21ffde 33.0px,#61ff9e 45.5px,#c3ff3c 62.0px,#fffe00 73.5px,#ffb700 89.0px,#ff3500 123.0px,#ff1900 132.5px,#ff0d00 150.0px,#ff0f00 230.8px,#ff2100 243.8px,#ff7e00 269.3px,#ffde00 292.8px,#fdff02 299.8px,#8fff70 319.8px,#37ffc8 334.8px,#0bfff4 343.8px,#00fdff 345.3px,#00d4ff 349.3px,#00b9ff 355.3px,#0071ff 361.8px,#0030ff 372.3px,#002fff 372.8px)"></i>
<i style="left:339px;width:1px;background:linear-gradient(#0037ff 0.0px,#0075ff 10.5px,#0098ff 14.0px,#00c1ff 17.5px,#00e2ff 24.5px,#03fffc 27.5px,#21ffde 32.0px,#60ff9f 44.5px,#c7ff38 62.0px,#fffe00 73.0px,#ffb800 88.5px,#ff7a00 104.5px,#ff1f00 130.0px,#ff0f00 145.5px,#ff1100 231.3px,#ff2100 243.8px,#ff7e00 269.3px,#ffe500 294.8px,#feff01 300.3px,#94ff6b 319.8px,#37ffc8 335.8px,#0cfff3 344.3px,#00fdff 345.8px,#00dbff 349.3px,#00c1ff 355.3px,#0079ff 361.8px,#0038ff 372.3px,#0037ff 372.8px)"></i>
<i style="left:340px;width:1px;background:linear-gradient(#0041ff 0.0px,#0081ff 11.0px,#00adff 15.0px,#00cbff 18.0px,#00e8ff 24.5px,#03fffc 27.0px,#20ffdf 31.0px,#62ff9d 44.0px,#cbff34 62.0px,#fffd00 72.5px,#ffb900 88.0px,#ff7c00 104.0px,#ff1f00 130.0px,#ff0f00 146.0px,#ff1200 232.3px,#ff2100 243.8px,#ff8000 269.8px,#ffe900 296.3px,#fcff03 301.3px,#99ff66 319.8px,#3affc5 336.3px,#11ffee 344.3px,#00fdff 346.3px,#00e1ff 349.3px,#00c8ff 355.3px,#0081ff 361.8px,#0041ff 372.8px)"></i>
<i style="left:341px;width:1px;background:linear-gradient(#004cff 0.0px,#008eff 11.5px,#00d2ff 18.0px,#00efff 24.5px,#00feff 26.0px,#20ffdf 30.0px,#61ff9e 43.0px,#d0ff2f 62.0px,#fffe00 71.5px,#ffc000 85.5px,#ff7d00 103.5px,#ff2000 129.5px,#ff1000 144.5px,#ff1200 232.3px,#ff2100 243.8px,#ff7f00 269.8px,#ffea00 297.3px,#feff01 301.8px,#9bff64 320.3px,#3cffc3 336.8px,#17ffe8 344.3px,#00feff 346.8px,#00e6ff 349.8px,#00ceff 355.3px,#008bff 361.8px,#004cff 372.8px)"></i>
<i style="left:342px;width:1px;background:linear-gradient(#0058ff 0.0px,#0098ff 11.5px,#00d8ff 18.0px,#00f7ff 24.5px,#01fffe 25.5px,#23ffdc 29.5px,#60ff9f 42.0px,#d4ff2b 62.0px,#fffc00 71.0px,#ffc400 84.0px,#ff7900 104.0px,#ff1f00 130.0px,#ff1000 146.0px,#ff1200 232.3px,#ff2300 244.3px,#ff8000 270.3px,#ffeb00 298.3px,#fcff03 302.8px,#9dff62 320.8px,#41ffbe 336.8px,#1dffe2 344.3px,#01fffe 347.3px,#00e9ff 350.8px,#00d5ff 355.3px,#0094ff 361.8px,#0058ff 372.8px)"></i>
<i style="left:343px;width:1px;background:linear-gradient(#0064ff 0.0px,#00a5ff 12.0px,#00deff 18.0px,#00feff 24.5px,#2affd5 29.5px,#5fffa0 41.0px,#d6ff29 61.5px,#fffd00 70.0px,#ffc700 82.5px,#ff7800 104.0px,#ff1e00 130.5px,#ff0f00 147.0px,#ff1200 232.3px,#ff2300 244.3px,#ff7e00 270.3px,#ffe900 298.8px,#fcff03 303.8px,#9eff61 321.3px,#48ffb7 336.3px,#23ffdc 344.3px,#00feff 348.3px,#00d6ff 355.8px,#00a1ff 361.3px,#0064ff 372.8px)"></i>
<i style="left:344px;width:1px;background:linear-gradient(#0070ff 0.0px,#00aeff 12.0px,#00e7ff 18.5px,#03fffc 24.0px,#2dffd2 29.0px,#64ff9b 41.0px,#daff25 61.5px,#fffe00 69.0px,#ffc900 81.0px,#ff7600 104.0px,#ff1e00 130.5px,#ff0f00 147.0px,#ff1200 232.3px,#ff2300 244.3px,#ff7c00 270.3px,#ffe500 298.8px,#fdff02 304.3px,#9dff62 322.3px,#4cffb3 336.3px,#2affd5 344.3px,#00feff 349.3px,#00dcff 355.8px,#00a7ff 361.8px,#0070ff 372.8px)"></i>
<i style="left:345px;width:1px;background:linear-gradient(#007cff 0.0px,#00bbff 12.5px,#00edff 18.5px,#03fffc 23.0px,#36ffc9 29.5px,#62ff9d 40.0px,#daff25 60.5px,#fffc00 68.5px,#ffc800 80.5px,#ff7400 104.0px,#ff1e00 130.5px,#ff0f00 147.5px,#ff1200 232.3px,#ff2200 244.3px,#ff7c00 270.8px,#ffe400 299.3px,#fdff02 305.3px,#99ff66 323.8px,#53ffac 335.8px,#30ffcf 344.3px,#01fffe 350.3px,#00e2ff 355.8px,#00b1ff 361.8px,#007cff 372.8px)"></i>
<i style="left:346px;width:1px;background:linear-gradient(#0087ff 0.0px,#00c7ff 13.0px,#00f5ff 19.0px,#03fffc 21.5px,#1effe1 25.5px,#3cffc3 29.5px,#67ff98 40.0px,#d4ff2b 58.5px,#fffd00 67.5px,#ffc800 79.5px,#ff7500 103.5px,#ff1e00 130.5px,#ff0f00 147.5px,#ff1200 232.3px,#ff2200 244.3px,#ff7b00 270.8px,#ffe000 299.3px,#fcff03 306.3px,#93ff6c 325.8px,#58ffa7 335.8px,#37ffc8 344.3px,#08fff7 350.3px,#00faff 352.8px,#00d8ff 357.8px,#00b6ff 362.8px,#0087ff 372.8px)"></i>
<i style="left:347px;width:1px;background:linear-gradient(#0093ff 0.0px,#00d0ff 13.0px,#00feff 19.5px,#1cffe3 24.5px,#40ffbf 29.0px,#68ff97 39.5px,#cdff32 56.5px,#fffd00 66.5px,#ffc600 79.0px,#ff7900 102.0px,#ff2100 129.0px,#ff1000 144.0px,#ff1200 232.3px,#ff2200 244.3px,#ff7b00 271.3px,#ffdb00 299.3px,#fcff03 307.3px,#8eff71 327.3px,#5cffa3 335.8px,#3dffc2 344.3px,#0cfff3 350.8px,#00fbff 353.8px,#00c2ff 362.3px,#0093ff 372.8px)"></i>
<i style="left:348px;width:1px;background:linear-gradient(#009fff 0.0px,#00dcff 13.5px,#02fffd 19.0px,#28ffd7 25.0px,#47ffb8 29.0px,#6cff93 39.5px,#c5ff3a 54.0px,#fffe00 65.5px,#ffc400 78.5px,#ff8000 99.5px,#ff2c00 125.0px,#ff1800 134.5px,#ff0f00 152.0px,#ff1200 232.3px,#ff2300 244.8px,#ff7b00 271.8px,#ffbd00 291.8px,#ffe300 301.8px,#feff01 307.8px,#93ff6c 327.3px,#63ff9c 335.3px,#41ffbe 344.8px,#10ffef 351.3px,#00fbff 354.8px,#00ccff 362.3px,#009fff 372.8px)"></i>
<i style="left:349px;width:1px;background:linear-gradient(#00abff 0.0px,#00e7ff 14.0px,#02fffd 18.0px,#2fffd0 25.0px,#4dffb2 29.0px,#71ff8e 39.5px,#c1ff3e 52.5px,#fffe00 64.5px,#ffc200 78.0px,#ff8900 96.5px,#ff3e00 119.0px,#ff1b00 132.0px,#ff0f00 149.5px,#ff1200 232.3px,#ff2300 244.8px,#ff7900 271.8px,#ffb700 290.8px,#ffda00 300.8px,#fdff02 308.8px,#95ff6a 327.8px,#67ff98 335.3px,#48ffb7 344.8px,#13ffec 351.8px,#00feff 355.3px,#00d6ff 362.3px,#00abff 372.8px)"></i>
<i style="left:350px;width:1px;background:linear-gradient(#00b7ff 0.0px,#00f2ff 14.5px,#04fffb 17.5px,#37ffc8 25.0px,#53ffac 29.0px,#73ff8c 39.0px,#c3ff3c 52.0px,#fffc00 64.0px,#ffc000 77.5px,#ff8e00 94.5px,#ff4000 118.0px,#ff1b00 132.0px,#ff0f00 149.5px,#ff1200 232.3px,#ff2300 244.8px,#ff7900 272.3px,#ffb200 289.8px,#ffd100 299.8px,#fdff02 309.8px,#9aff65 327.8px,#6eff91 334.8px,#4effb1 344.8px,#13ffec 352.8px,#00fdff 356.3px,#00dcff 363.3px,#00b7ff 372.8px)"></i>
<i style="left:351px;width:1px;background:linear-gradient(#00c3ff 0.0px,#02fffd 16.0px,#36ffc9 24.0px,#58ffa7 28.5px,#77ff88 39.0px,#c3ff3c 51.0px,#fffd00 63.0px,#ffbe00 77.0px,#ff9100 93.0px,#ff4100 117.5px,#ff1b00 132.0px,#ff0f00 149.5px,#ff1200 232.3px,#ff2300 244.8px,#ff7700 272.3px,#ffae00 289.3px,#ffcb00 299.3px,#fcff03 310.8px,#9fff60 327.8px,#72ff8d 334.8px,#55ffaa 344.8px,#10ffef 354.3px,#00fcff 357.8px,#00c3ff 372.8px)"></i>
<i style="left:352px;width:1px;background:linear-gradient(#00ceff 0.0px,#02fffd 14.5px,#29ffd6 21.5px,#5effa1 28.5px,#7bff84 39.0px,#c5ff3a 50.5px,#fffd00 62.0px,#ffbc00 76.5px,#ff9200 92.0px,#ff4300 116.5px,#ff1b00 132.0px,#ff0f00 149.5px,#ff1200 232.3px,#ff2400 245.3px,#ff7800 273.3px,#ffaa00 288.8px,#ffc500 298.8px,#feff01 311.3px,#a8ff57 327.3px,#79ff86 334.3px,#5cffa3 344.8px,#13ffec 354.8px,#00fdff 359.3px,#00ceff 372.8px)"></i>
<i style="left:353px;width:1px;background:linear-gradient(#00d8ff 0.0px,#00ffff 12.0px,#1effe1 19.0px,#65ff9a 28.5px,#80ff7f 39.0px,#c7ff38 50.0px,#fffe00 61.0px,#ffba00 76.0px,#ff9000 92.0px,#ff4200 116.5px,#ff1a00 132.5px,#ff0f00 150.0px,#ff1200 232.3px,#ff2400 245.3px,#ff7600 273.3px,#ffa700 288.8px,#ffc100 298.8px,#fdff02 312.3px,#adff52 327.3px,#7eff81 334.3px,#62ff9d 344.8px,#18ffe7 354.8px,#00fdff 361.3px,#00d8ff 372.8px)"></i>
<i style="left:354px;width:1px;background:linear-gradient(#00e0ff 0.0px,#01fffe 10.0px,#21ffde 18.5px,#6bff94 28.5px,#86ff79 39.0px,#ccff33 50.0px,#fffc00 60.5px,#ffb800 75.5px,#ff8e00 92.0px,#ff4100 116.5px,#ff1a00 132.5px,#ff0f00 150.0px,#ff1200 232.3px,#ff2400 245.3px,#ff7500 273.3px,#ffa500 288.8px,#ffc000 299.3px,#fdff02 313.3px,#b2ff4d 327.3px,#83ff7c 334.3px,#69ff96 344.8px,#1effe1 354.8px,#00feff 363.3px,#00e0ff 372.8px)"></i>
<i style="left:355px;width:1px;background:linear-gradient(#00e6ff 0.0px,#02fffd 8.5px,#23ffdc 18.0px,#59ffa6 25.0px,#71ff8e 28.5px,#8cff73 39.0px,#d4ff2b 50.5px,#fffd00 59.5px,#ffbb00 74.0px,#ff8700 93.5px,#ff3c00 118.5px,#ff1a00 132.5px,#ff0f00 150.0px,#ff1200 232.3px,#ff2300 245.3px,#ff7300 273.3px,#ffa300 289.3px,#ffbe00 299.8px,#fcff03 314.3px,#b4ff4b 327.8px,#8aff75 334.3px,#6fff90 344.8px,#23ffdc 354.8px,#01fffe 364.8px,#00e6ff 372.8px)"></i>
<i style="left:356px;width:1px;background:linear-gradient(#00ecff 0.0px,#03fffc 7.0px,#26ffd9 17.5px,#51ffae 23.5px,#75ff8a 28.0px,#96ff69 39.5px,#deff21 51.5px,#fffd00 58.5px,#ffbe00 72.5px,#ff9d00 85.0px,#ff2b00 124.5px,#ff1700 135.5px,#ff0f00 153.5px,#ff1200 232.3px,#ff2500 245.8px,#ff7200 273.3px,#ffa200 290.3px,#ffc100 301.3px,#fcff03 315.3px,#b6ff49 328.3px,#90ff6f 334.8px,#75ff8a 344.8px,#29ffd6 354.8px,#04fffb 365.3px,#00f7ff 369.3px,#00ecff 372.8px)"></i>
<i style="left:357px;width:1px;background:linear-gradient(#00f3ff 0.0px,#03fffc 5.5px,#2cffd3 17.5px,#57ffa8 23.5px,#7eff81 28.5px,#9eff61 39.5px,#f0ff0f 54.0px,#fffd00 57.5px,#ffc000 71.0px,#ff9b00 84.5px,#ff2200 128.0px,#ff1100 143.5px,#ff1200 232.3px,#ff2400 245.8px,#ff7200 273.3px,#ffc000 301.8px,#fcff03 316.3px,#b3ff4c 329.8px,#95ff6a 335.8px,#7cff83 344.8px,#2effd1 354.8px,#06fff9 366.3px,#00faff 369.8px,#00f3ff 372.8px)"></i>
<i style="left:358px;width:1px;background:linear-gradient(#00f9ff 0.0px,#05fffa 4.5px,#31ffce 17.5px,#5dffa2 23.5px,#84ff7b 28.5px,#a9ff56 40.0px,#ffff00 56.0px,#ffc200 69.5px,#ff9200 87.0px,#ff2000 129.0px,#ff1000 146.5px,#ff1200 232.3px,#ff2400 245.8px,#ff6f00 272.8px,#ffc000 302.8px,#fffa00 315.8px,#f7ff08 318.3px,#9eff61 335.3px,#82ff7d 344.8px,#34ffcb 354.8px,#09fff6 366.8px,#00fcff 371.3px,#00f9ff 372.8px)"></i>
<i style="left:359px;width:1px;background:linear-gradient(#00ffff 0.0px,#26ffd9 13.5px,#42ffbd 19.5px,#8bff74 28.5px,#b3ff4c 40.5px,#fffc00 55.5px,#ffc000 69.0px,#ff8400 92.0px,#ff2100 128.5px,#ff1000 145.5px,#ff1200 232.3px,#ff2400 245.8px,#ff6d00 272.3px,#ffc000 303.8px,#fffc00 317.3px,#a5ff5a 335.8px,#88ff77 344.8px,#3cffc3 354.3px,#16ffe9 364.3px,#00ffff 372.8px)"></i>
<i style="left:360px;width:1px;background:linear-gradient(#05fffa 0.0px,#24ffdb 11.5px,#44ffbb 19.0px,#91ff6e 28.5px,#c0ff3f 41.5px,#fffc00 54.5px,#ffc000 68.0px,#ff8300 91.5px,#ff5e00 105.0px,#ff1b00 131.5px,#ff0f00 149.5px,#ff1200 231.8px,#ff2400 245.8px,#ff6b00 271.8px,#ffbd00 303.8px,#fff000 315.8px,#fdff02 319.3px,#adff52 335.8px,#8eff71 344.8px,#41ffbe 354.3px,#18ffe7 364.8px,#05fffa 372.8px)"></i>
<i style="left:361px;width:1px;background:linear-gradient(#09fff6 0.0px,#21ffde 10.0px,#48ffb7 19.0px,#7eff81 25.5px,#9aff65 29.0px,#d0ff2f 43.5px,#fffc00 53.5px,#ffbf00 67.0px,#ff8200 90.5px,#ff6700 102.0px,#ff2100 128.0px,#ff0f00 144.5px,#ff0f00 228.3px,#ff2100 244.8px,#ff6700 270.8px,#ff8200 282.3px,#ffc100 306.3px,#fcff03 320.3px,#b7ff48 335.3px,#97ff68 344.3px,#48ffb7 353.8px,#21ffde 362.8px,#09fff6 372.8px)"></i>
<i style="left:362px;width:1px;background:linear-gradient(#09fff6 0.0px,#20ffdf 9.5px,#4affb5 19.0px,#75ff8a 24.5px,#9dff62 28.5px,#bdff42 37.0px,#f9ff06 51.0px,#fff800 53.5px,#ffbb00 67.0px,#ff8100 90.0px,#ff6b00 100.5px,#ff3200 121.0px,#ff1600 134.5px,#ff0b00 155.5px,#ff0d00 226.3px,#ff1f00 243.8px,#ff6300 269.8px,#ff7c00 279.8px,#ff9300 290.8px,#ffc600 308.8px,#fcff03 321.3px,#c0ff3f 334.8px,#a0ff5f 343.8px,#80ff7f 347.3px,#57ffa8 351.8px,#2fffd0 359.3px,#0efff1 369.8px,#09fff6 372.8px)"></i>
<i style="left:363px;width:1px;background:linear-gradient(#07fff8 0.0px,#1dffe2 9.5px,#49ffb6 19.0px,#6dff92 24.0px,#a1ff5e 28.5px,#bbff44 34.5px,#f5ff0a 49.5px,#fffc00 52.0px,#ffbc00 66.0px,#ff8000 89.5px,#ff6c00 100.0px,#ff3600 119.0px,#ff1600 134.0px,#ff0800 156.0px,#ff0a00 221.3px,#ff1900 241.3px,#ff5e00 268.3px,#ff7a00 278.8px,#ff8d00 289.3px,#ffb200 303.3px,#ffd400 312.8px,#fdff02 321.8px,#caff35 333.8px,#a5ff5a 343.8px,#86ff79 346.8px,#60ff9f 350.3px,#2bffd4 359.8px,#0cfff3 369.3px,#07fff8 372.8px)"></i>
<i style="left:364px;width:1px;background:linear-gradient(#03fffc 0.0px,#19ffe6 9.5px,#49ffb6 19.5px,#68ff97 24.0px,#9cff63 28.0px,#b5ff4a 32.5px,#f2ff0d 49.0px,#fffc00 52.0px,#ffbe00 65.5px,#ff8e00 83.0px,#ff7d00 92.0px,#ff6a00 101.0px,#ff3500 119.5px,#ff1500 134.0px,#ff0500 158.0px,#ff0600 218.3px,#ff1700 240.3px,#ff5300 264.8px,#ff7900 277.8px,#ff8b00 288.8px,#ffae00 301.3px,#ffc900 310.3px,#fcff03 321.8px,#d2ff2d 331.8px,#a7ff58 343.3px,#91ff6e 345.8px,#63ff9c 349.3px,#33ffcc 357.3px,#0ffff0 366.3px,#03fffc 372.8px)"></i>
<i style="left:365px;width:1px;background:linear-gradient(#00fdff 0.0px,#0efff1 7.5px,#36ffc9 17.0px,#5dffa2 23.5px,#98ff67 28.5px,#b5ff4a 34.5px,#efff10 49.5px,#fffc00 53.0px,#ffc100 66.0px,#ff9000 83.5px,#ff7d00 94.0px,#ff6300 103.5px,#ff1e00 128.5px,#ff0900 146.0px,#ff0000 174.5px,#ff0400 218.3px,#ff1700 240.8px,#ff5a00 266.8px,#ff7b00 277.8px,#ff8e00 288.8px,#ffb300 301.8px,#ffd300 311.3px,#fcff03 320.8px,#d2ff2d 330.3px,#9fff60 343.3px,#89ff76 345.8px,#5dffa2 349.3px,#31ffce 356.8px,#0bfff4 366.3px,#00fdff 372.8px)"></i>
<i style="left:366px;width:1px;background:linear-gradient(#00f9ff 0.0px,#04fffb 5.5px,#31ffce 17.5px,#57ffa8 23.5px,#8cff73 28.5px,#adff52 35.5px,#e8ff17 50.0px,#fffd00 54.5px,#ffc600 67.0px,#ff8800 89.0px,#ff7300 99.5px,#ff3b00 117.5px,#ff1400 133.5px,#fe0000 159.0px,#ff0000 214.8px,#ff1500 239.8px,#ff4800 260.3px,#ff7f00 277.8px,#ff9500 289.3px,#ffd500 309.8px,#feff01 318.8px,#cdff32 328.8px,#92ff6d 343.3px,#78ff87 346.3px,#4fffb0 350.3px,#23ffdc 358.3px,#00ffff 368.8px,#00f9ff 372.8px)"></i>
<i style="left:367px;width:1px;background:linear-gradient(#00f3ff 0.0px,#02fffd 7.0px,#30ffcf 19.0px,#5dffa2 25.0px,#84ff7b 29.5px,#e0ff1f 50.5px,#fffd00 56.5px,#ffc800 69.0px,#ff8d00 89.0px,#ff7600 99.5px,#ff3b00 117.5px,#ff1300 133.5px,#fd0000 156.5px,#f90000 187.8px,#fd0000 216.3px,#ff1300 239.3px,#ff3d00 255.8px,#ff8400 278.3px,#ff9c00 289.8px,#ffe100 310.3px,#fcff03 317.3px,#c1ff3e 328.8px,#84ff7b 343.3px,#5dffa2 347.8px,#30ffcf 353.8px,#00feff 366.8px,#00f3ff 372.8px)"></i>
<i style="left:368px;width:1px;background:linear-gradient(#00eaff 0.0px,#02fffd 9.0px,#27ffd8 19.0px,#77ff88 30.0px,#d8ff27 51.0px,#fffe00 58.5px,#ffc700 72.0px,#ff9200 89.0px,#ff7900 99.5px,#ff3e00 117.0px,#ff1300 133.0px,#fd0000 154.0px,#f60000 174.5px,#f90000 214.3px,#ff0600 228.3px,#ff1d00 244.3px,#ff6800 268.8px,#ff8900 278.8px,#ffa400 290.3px,#ffeb00 310.3px,#fcff03 315.3px,#b3ff4c 329.3px,#6eff91 344.3px,#24ffdb 354.3px,#00fdff 364.8px,#00eaff 372.8px)"></i>
<i style="left:369px;width:1px;background:linear-gradient(#00dbff 0.0px,#00faff 10.0px,#08fff7 13.5px,#21ffde 19.5px,#65ff9a 29.5px,#d0ff2f 51.5px,#fffe00 60.5px,#ffb900 78.0px,#ff9400 90.5px,#ff7900 100.5px,#ff3d00 117.5px,#ff1300 133.0px,#fd0000 152.0px,#f20000 171.0px,#f60000 213.3px,#ff0400 227.8px,#ff1b00 243.8px,#ff6900 268.3px,#ff8d00 278.8px,#ffad00 291.3px,#fff700 310.8px,#fbff04 313.3px,#a3ff5c 330.3px,#59ffa6 345.3px,#16ffe9 355.3px,#00fcff 362.3px,#00dcff 372.3px,#00dbff 372.8px)"></i>
<i style="left:370px;width:1px;background:linear-gradient(#00c8ff 0.0px,#01fffe 15.0px,#1affe5 20.0px,#4effb1 28.0px,#cbff34 52.5px,#ffff00 62.5px,#ffb100 82.0px,#ff7c00 100.5px,#ff3e00 117.5px,#ff1200 133.0px,#fc0000 150.5px,#ef0000 169.5px,#f30000 212.8px,#ff0400 228.8px,#ff1b00 243.8px,#ff6b00 268.3px,#ff9200 279.3px,#ffb800 292.8px,#fdff02 310.8px,#90ff6f 331.8px,#33ffcc 349.3px,#09fff6 355.8px,#00fbff 359.3px,#00c8ff 372.8px)"></i>
<i style="left:371px;width:1px;background:linear-gradient(#00b3ff 0.0px,#03fffc 18.0px,#38ffc7 26.5px,#c0ff3f 52.5px,#feff01 64.5px,#ffb500 82.5px,#ff8100 100.0px,#ff4100 117.0px,#ff1200 132.5px,#fd0000 148.5px,#ec0000 168.5px,#f00000 212.3px,#ff0300 229.8px,#ff1a00 243.8px,#ff6e00 268.3px,#ff9700 279.3px,#ffc400 294.3px,#feff01 308.3px,#baff45 321.3px,#1effe1 350.8px,#00ffff 355.3px,#00b3ff 372.8px)"></i>
<i style="left:372px;width:1px;background:linear-gradient(#009eff 0.0px,#01fffe 19.5px,#26ffd9 25.5px,#53ffac 34.5px,#c1ff3e 54.5px,#fffe00 67.0px,#ffc200 80.5px,#ff8400 100.0px,#ff4100 117.0px,#ff1100 132.5px,#fd0000 147.0px,#e90000 167.5px,#ec0000 211.8px,#ff0300 230.8px,#ff1b00 244.3px,#ff7000 268.3px,#ff9c00 279.8px,#ffd100 296.3px,#feff01 306.3px,#b6ff49 320.3px,#2affd5 346.3px,#0cfff3 351.8px,#00fdff 353.8px,#009eff 372.8px)"></i>
<i style="left:373px;width:1px;background:linear-gradient(#0089ff 0.0px,#00dfff 15.5px,#01fffe 21.0px,#1affe5 26.0px,#39ffc6 32.5px,#dfff20 62.0px,#fffd00 69.0px,#ffca00 80.0px,#ff8700 100.0px,#ff4400 116.5px,#ff1000 132.5px,#fc0000 145.5px,#e60000 167.5px,#e90000 211.3px,#ff0300 232.3px,#ff1c00 244.8px,#ff7300 268.3px,#ffa100 279.8px,#ffda00 296.8px,#fcff03 304.8px,#abff54 320.3px,#21ffde 344.8px,#08fff7 350.8px,#00fcff 352.3px,#00ceff 360.8px,#0089ff 372.8px)"></i>
<i style="left:374px;width:1px;background:linear-gradient(#0074ff 0.0px,#00ceff 14.5px,#02fffd 23.0px,#22ffdd 31.0px,#72ff8d 44.5px,#d5ff2a 62.0px,#fffd00 70.5px,#ffcf00 80.0px,#ff8a00 100.0px,#ff4500 116.5px,#ff0f00 132.5px,#fc0000 143.5px,#e20000 167.0px,#e50000 210.8px,#ff0300 233.3px,#ff1d00 245.3px,#ff7500 268.3px,#ffa600 280.3px,#ffe000 296.8px,#fcff03 303.3px,#a1ff5e 320.3px,#15ffea 344.3px,#00feff 350.3px,#00c6ff 359.8px,#0074ff 372.8px)"></i>
<i style="left:375px;width:1px;background:linear-gradient(#0061ff 0.0px,#00beff 14.0px,#00fbff 24.5px,#0cfff3 29.0px,#c9ff36 61.0px,#fffd00 71.5px,#ffd200 80.5px,#ff8f00 99.5px,#ff4700 116.0px,#ff0e00 132.5px,#fc0000 142.0px,#de0000 166.5px,#e10000 210.3px,#ff0300 234.8px,#ff1e00 245.8px,#ff7700 268.3px,#ffaa00 280.3px,#ffe700 297.3px,#feff01 301.8px,#96ff69 320.8px,#08fff7 344.8px,#00fbff 348.3px,#0088ff 367.3px,#0061ff 372.8px)"></i>
<i style="left:376px;width:1px;background:linear-gradient(#0051ff 0.0px,#00b0ff 14.0px,#00f3ff 25.5px,#04fffb 29.0px,#c3ff3c 61.0px,#fffc00 72.5px,#ffd300 81.5px,#ff9100 99.5px,#ff4900 115.5px,#ff0c00 132.5px,#fc0000 140.0px,#db0000 166.0px,#dd0000 209.8px,#ff0300 235.8px,#ff2000 246.8px,#ff7800 268.3px,#ffad00 280.3px,#ffec00 297.3px,#fcff03 301.3px,#90ff6f 320.8px,#00feff 344.8px,#00cfff 353.8px,#006aff 369.3px,#0051ff 372.8px)"></i>
<i style="left:377px;width:1px;background:linear-gradient(#0042ff 0.0px,#00c5ff 19.5px,#01fffe 29.5px,#bfff40 61.0px,#fffd00 73.0px,#ffd100 83.0px,#ff9200 99.5px,#ff4900 115.5px,#ff0b00 132.5px,#fc0000 139.0px,#d70000 165.5px,#d80000 208.3px,#ff0300 236.8px,#ff2300 247.8px,#ff7c00 268.8px,#ffaf00 280.3px,#fff000 297.3px,#fbff04 300.8px,#8bff74 320.8px,#00fdff 343.8px,#009dff 359.3px,#0053ff 370.3px,#0042ff 372.8px)"></i>
<i style="left:378px;width:1px;background:linear-gradient(#0034ff 0.0px,#0079ff 10.5px,#00baff 20.0px,#00dbff 25.5px,#00ffff 30.0px,#beff41 61.5px,#fffe00 73.5px,#ffcd00 85.0px,#ff9400 99.5px,#ff4b00 115.0px,#ff0900 132.5px,#fc0000 138.0px,#d40000 165.0px,#d30000 206.3px,#f10000 228.8px,#ff0300 237.8px,#ff2800 249.3px,#ff7d00 268.8px,#ffb200 280.3px,#fff400 297.3px,#fdff02 299.8px,#86ff79 320.8px,#00ffff 342.8px,#00c4ff 350.8px,#009cff 357.3px,#006bff 364.8px,#0034ff 372.8px)"></i>
<i style="left:379px;width:1px;background:linear-gradient(#0026ff 0.0px,#0063ff 9.5px,#008aff 15.0px,#00acff 20.0px,#00c6ff 24.5px,#00faff 30.0px,#08fff7 32.0px,#c0ff3f 62.5px,#fffc00 74.5px,#ffbf00 89.5px,#ff9100 100.5px,#ff4900 115.5px,#ff0800 132.5px,#fc0000 137.0px,#d10000 164.0px,#ce0000 201.3px,#d90000 215.8px,#ff0200 238.3px,#ff2e00 250.8px,#ff7e00 268.8px,#ffb200 279.8px,#fff700 297.3px,#fcff03 299.3px,#85ff7a 320.3px,#00fdff 342.3px,#00d5ff 346.8px,#00b8ff 350.3px,#0096ff 356.3px,#0068ff 362.3px,#0037ff 370.3px,#0026ff 372.8px)"></i>
<i style="left:380px;width:1px;background:linear-gradient(#0019ff 0.0px,#0050ff 9.0px,#006dff 13.5px,#0097ff 18.5px,#00b4ff 24.0px,#00f1ff 29.5px,#03fffc 32.0px,#bcff43 62.5px,#fffe00 75.0px,#ffb300 93.5px,#ff4200 117.0px,#ff0500 133.0px,#f60000 138.5px,#cd0000 164.0px,#c90000 198.8px,#d30000 214.3px,#ff0200 238.8px,#ff3100 251.8px,#ff7f00 268.8px,#ffb400 279.8px,#feff01 298.3px,#84ff7b 319.8px,#00ffff 341.3px,#00ddff 345.3px,#00b0ff 349.3px,#008cff 355.8px,#005bff 361.8px,#002cff 369.8px,#0019ff 372.8px)"></i>
<i style="left:381px;width:1px;background:linear-gradient(#000bff 0.0px,#003eff 8.5px,#0058ff 13.0px,#0089ff 18.5px,#00a6ff 24.0px,#00e7ff 29.0px,#01fffe 32.5px,#87ff78 54.0px,#ffff00 75.5px,#ff9900 99.5px,#ff4d00 114.5px,#ff0400 132.5px,#f60000 137.5px,#ca0000 163.0px,#c40000 193.8px,#cd0000 212.3px,#fa0000 236.8px,#ff0600 240.8px,#ff5800 260.8px,#ffb500 279.3px,#fdff02 297.8px,#83ff7c 319.3px,#01fffe 340.3px,#00e2ff 344.3px,#00a6ff 348.8px,#008eff 353.3px,#0076ff 356.8px,#004dff 361.3px,#001eff 369.8px,#000bff 372.8px)"></i>
<i style="left:382px;width:1px;background:linear-gradient(#0000fc 0.0px,#000cff 2.5px,#0030ff 9.0px,#0048ff 13.0px,#0079ff 18.0px,#0093ff 23.5px,#00acff 25.5px,#00dcff 28.5px,#00feff 33.0px,#78ff87 52.5px,#d3ff2c 68.0px,#fffd00 76.5px,#ff9b00 99.5px,#ff4d00 114.5px,#ff0300 132.5px,#cc0000 158.5px,#c10000 174.0px,#c40000 206.8px,#e40000 227.8px,#ff0300 240.3px,#ff4d00 258.3px,#ff9b00 273.3px,#ffd800 287.8px,#fcff03 297.3px,#82ff7d 318.8px,#05fffa 338.8px,#00f8ff 340.8px,#00dcff 344.3px,#0098ff 348.8px,#0085ff 352.3px,#0071ff 355.8px,#0040ff 360.8px,#0010ff 369.8px,#0000fe 372.3px,#0000fc 372.8px)"></i>
<i style="left:383px;width:1px;background:linear-gradient(#0000ee 0.0px,#0002ff 3.0px,#0023ff 9.5px,#0038ff 13.0px,#006cff 18.0px,#0085ff 23.5px,#00a1ff 25.5px,#00cfff 28.0px,#00ecff 31.0px,#03fffc 34.5px,#82ff7d 54.5px,#fbff04 76.0px,#fff500 79.0px,#ff9c00 99.5px,#ff4f00 114.0px,#ff0100 132.5px,#d20000 153.0px,#bf0000 168.5px,#bd0000 200.3px,#c90000 214.8px,#f50000 236.3px,#ff0300 240.8px,#ff5800 260.8px,#ffb900 279.3px,#fdff02 296.3px,#85ff7a 317.8px,#05fffa 337.8px,#00f9ff 339.8px,#00dbff 343.8px,#00beff 345.8px,#0090ff 348.3px,#007eff 350.3px,#0068ff 355.3px,#0030ff 360.8px,#0000fd 370.3px,#0000ee 372.8px)"></i>
<i style="left:384px;width:1px;background:linear-gradient(#0000e2 0.0px,#0001ff 5.0px,#0024ff 12.5px,#005fff 18.0px,#0078ff 23.5px,#008cff 25.0px,#00c8ff 28.0px,#00e7ff 31.0px,#03fffc 35.5px,#b1ff4e 63.0px,#fffd00 78.0px,#ff9e00 99.5px,#ff4f00 114.0px,#ff0200 132.0px,#d10000 151.5px,#bb0000 167.5px,#b80000 197.8px,#c40000 213.8px,#f00000 235.3px,#ff0300 241.3px,#ff6000 262.3px,#ffb900 278.8px,#feff01 295.3px,#87ff78 316.8px,#00ffff 337.8px,#00daff 343.3px,#00c0ff 345.3px,#0084ff 348.3px,#0071ff 350.3px,#005bff 355.3px,#0020ff 360.8px,#0000fd 368.3px,#0000e2 372.8px)"></i>
<i style="left:385px;width:1px;background:linear-gradient(#0000d8 0.0px,#0000fe 7.0px,#0014ff 12.0px,#003bff 15.5px,#0057ff 18.5px,#006dff 23.5px,#0082ff 25.0px,#00c2ff 28.0px,#00ddff 30.5px,#00ffff 36.0px,#adff52 63.0px,#ffff00 78.5px,#ffa200 99.0px,#ff5200 113.5px,#ff0000 132.0px,#d30000 149.0px,#b80000 166.5px,#b40000 195.3px,#c00000 212.8px,#ea0000 233.8px,#ff0200 241.3px,#ff6100 262.3px,#ffbb00 278.8px,#fdff02 294.8px,#8aff75 315.8px,#00ffff 336.8px,#00d9ff 342.8px,#00c2ff 344.8px,#007aff 348.3px,#0066ff 350.3px,#0050ff 355.3px,#0014ff 360.8px,#0000fc 366.3px,#0000d8 372.8px)"></i>
<i style="left:386px;width:1px;background:linear-gradient(#0000d3 0.0px,#0000fc 8.0px,#000aff 11.5px,#0026ff 14.5px,#004cff 18.0px,#0067ff 23.5px,#007dff 25.0px,#00bcff 28.0px,#00d8ff 30.5px,#01fffe 37.0px,#aaff55 63.0px,#fffd00 79.5px,#ffa400 99.0px,#ff5200 113.5px,#ff0100 131.5px,#d10000 149.0px,#b60000 166.5px,#b10000 194.3px,#be0000 212.8px,#e90000 233.8px,#ff0300 241.8px,#ff6700 263.3px,#ffbe00 278.8px,#fcff03 294.3px,#8fff70 314.3px,#01fffe 335.8px,#00d3ff 342.8px,#00bcff 344.8px,#0074ff 348.3px,#0060ff 350.3px,#0048ff 355.3px,#000eff 360.8px,#0000fe 364.3px,#0000e1 370.3px,#0000d3 372.8px)"></i>
<i style="left:387px;width:1px;background:linear-gradient(#0000d3 0.0px,#0000fb 8.0px,#0007ff 11.0px,#001eff 14.0px,#0047ff 18.0px,#0066ff 23.5px,#0085ff 25.5px,#00b6ff 28.0px,#00d5ff 31.0px,#01fffe 38.0px,#a3ff5c 62.5px,#fffe00 80.0px,#ffa300 99.5px,#ff5300 113.5px,#ff0100 131.5px,#d10000 149.0px,#b60000 167.0px,#b10000 194.3px,#be0000 212.8px,#e70000 233.3px,#ff0300 241.8px,#ff6800 263.3px,#ffc000 278.8px,#fdff02 293.3px,#94ff6b 312.8px,#00fdff 335.3px,#00cdff 342.8px,#00aeff 345.3px,#0073ff 348.3px,#005eff 350.3px,#0043ff 355.3px,#000cff 360.8px,#0000fc 364.3px,#0000dd 370.8px,#0000d3 372.8px)"></i>
<i style="left:388px;width:1px;background:linear-gradient(#0000d5 0.0px,#0000fe 8.5px,#0011ff 12.5px,#004aff 19.0px,#0067ff 23.5px,#0084ff 25.5px,#00b8ff 28.5px,#00daff 32.5px,#03fffc 39.0px,#a0ff5f 62.5px,#ffff00 80.5px,#ffa500 99.5px,#ff5400 113.5px,#ff0000 132.0px,#d40000 148.0px,#b80000 166.5px,#b20000 192.8px,#bf0000 212.8px,#e80000 233.3px,#ff0200 241.3px,#ff5e00 261.3px,#ffc400 279.3px,#fcff03 292.8px,#97ff68 311.8px,#00feff 334.3px,#00c7ff 342.8px,#00aaff 345.3px,#006cff 348.8px,#0055ff 351.8px,#0036ff 356.3px,#000eff 360.8px,#0000fe 364.3px,#0000d5 372.8px)"></i>
<i style="left:389px;width:1px;background:linear-gradient(#0000d7 0.0px,#0001ff 8.5px,#001aff 13.5px,#0051ff 20.5px,#006eff 24.0px,#00b3ff 28.5px,#00d7ff 33.0px,#01fffe 39.5px,#9cff63 62.5px,#feff01 81.0px,#ffa900 99.0px,#ff5500 113.5px,#ff0100 132.0px,#d40000 148.5px,#ba0000 167.0px,#b40000 192.8px,#c20000 213.3px,#e90000 233.3px,#ff0200 241.3px,#ff6000 261.3px,#ffc600 279.3px,#feff01 291.8px,#96ff69 311.3px,#00fdff 333.8px,#00bdff 343.3px,#009eff 345.8px,#006eff 348.8px,#004eff 352.8px,#000dff 361.3px,#0000fc 365.3px,#0000d7 372.8px)"></i>
<i style="left:390px;width:1px;background:linear-gradient(#0000da 0.0px,#0001ff 8.0px,#001fff 14.0px,#006aff 23.5px,#00b4ff 29.0px,#00e6ff 36.0px,#01fffe 40.0px,#9aff65 62.5px,#feff01 81.5px,#ffa800 99.5px,#ff5600 113.5px,#ff0300 131.5px,#d10000 151.0px,#ba0000 169.0px,#b60000 193.3px,#c40000 213.8px,#eb0000 233.8px,#ff0300 241.3px,#ff5e00 260.8px,#ffc700 279.3px,#fcff03 291.8px,#94ff6b 311.3px,#00fdff 333.3px,#00b9ff 343.3px,#0094ff 346.3px,#006aff 349.3px,#0012ff 360.8px,#0000fc 365.8px,#0000da 372.8px)"></i>
<i style="left:391px;width:1px;background:linear-gradient(#0000dd 0.0px,#0001ff 7.5px,#0024ff 14.5px,#0067ff 23.0px,#00b2ff 29.0px,#00edff 37.5px,#03fffc 40.5px,#98ff67 62.5px,#fffe00 82.0px,#ffa800 99.5px,#ff5700 113.5px,#ff0400 131.5px,#ec0000 139.0px,#c60000 159.0px,#b70000 181.5px,#be0000 206.3px,#dd0000 227.3px,#ff0200 240.8px,#ff5200 258.3px,#ff9f00 271.8px,#ffd300 281.8px,#fdff02 291.3px,#92ff6d 311.3px,#00feff 332.8px,#00b7ff 343.3px,#008dff 346.8px,#0062ff 350.3px,#0017ff 360.3px,#0000fc 366.3px,#0000dd 372.8px)"></i>
<i style="left:392px;width:1px;background:linear-gradient(#0000e0 0.0px,#0003ff 7.5px,#0029ff 15.0px,#0069ff 23.0px,#00b2ff 29.0px,#00feff 40.0px,#98ff67 62.5px,#ffff00 82.0px,#ffa900 99.5px,#ff5800 113.5px,#ff0400 131.5px,#f50000 136.0px,#d10000 153.0px,#bd0000 171.5px,#ba0000 193.8px,#ca0000 215.3px,#ee0000 234.3px,#ff0300 240.8px,#ff5000 257.8px,#ff9c00 271.3px,#ffd100 281.3px,#fdff02 291.3px,#8fff70 311.8px,#00feff 332.8px,#00b2ff 343.8px,#005fff 350.8px,#0020ff 359.3px,#0000fe 366.3px,#0000e0 372.8px)"></i>
<i style="left:393px;width:1px;background:linear-gradient(#0000e3 0.0px,#0003ff 7.0px,#002eff 15.5px,#0066ff 22.5px,#00b2ff 29.0px,#00fdff 40.0px,#97ff68 62.5px,#ffff00 82.0px,#ffa900 99.5px,#ff5600 114.0px,#ff0500 131.5px,#f90000 135.0px,#d50000 151.5px,#c00000 171.0px,#bb0000 192.8px,#cc0000 215.3px,#ef0000 234.3px,#ff0300 240.8px,#ff5100 257.8px,#ff9c00 271.3px,#ffd100 281.3px,#fdff02 291.3px,#8bff74 312.3px,#00fdff 332.8px,#00b2ff 343.8px,#005dff 351.3px,#0025ff 358.8px,#0000fd 366.8px,#0000e3 372.8px)"></i>
<i style="left:394px;width:1px;background:linear-gradient(#0000e6 0.0px,#0002ff 6.5px,#0037ff 16.5px,#0069ff 22.5px,#00b2ff 29.0px,#02fffd 40.5px,#91ff6e 61.5px,#ffff00 82.0px,#ffa900 99.5px,#ff5600 114.0px,#ff0600 131.5px,#f80000 135.5px,#d50000 152.5px,#c00000 173.5px,#be0000 193.8px,#d00000 216.8px,#f30000 235.3px,#ff0400 240.8px,#ff4f00 257.3px,#ff9d00 271.3px,#ffd100 281.3px,#fdff02 291.3px,#85ff7a 313.3px,#00fdff 332.8px,#00b2ff 343.8px,#005aff 351.8px,#002aff 358.3px,#0000fd 367.3px,#0000e6 372.8px)"></i>
<i style="left:395px;width:1px;background:linear-gradient(#0000e9 0.0px,#0002ff 6.0px,#003fff 17.5px,#0076ff 23.5px,#00b3ff 29.0px,#02fffd 40.5px,#8eff71 61.0px,#ffff00 82.0px,#ffa600 100.0px,#ff5600 114.0px,#ff0600 131.5px,#fb0000 135.0px,#d90000 151.5px,#c30000 173.5px,#bf0000 193.3px,#d30000 217.3px,#f40000 235.3px,#ff0300 240.3px,#ff4100 254.3px,#ff9000 269.3px,#ffcb00 279.8px,#fdff02 291.3px,#7fff80 314.3px,#00fdff 332.8px,#00aeff 344.3px,#0053ff 352.8px,#0029ff 358.8px,#0000fc 367.8px,#0000e9 372.8px)"></i>
<i style="left:396px;width:1px;background:linear-gradient(#0000eb 0.0px,#0003ff 6.0px,#0043ff 18.0px,#007dff 24.0px,#00b7ff 29.5px,#02fffd 40.5px,#8bff74 60.5px,#fffe00 82.0px,#ffa600 100.0px,#ff5700 114.0px,#ff0700 131.5px,#fa0000 135.5px,#d90000 152.5px,#c30000 176.0px,#c20000 194.3px,#d70000 218.8px,#f70000 236.3px,#ff0400 240.3px,#ff3f00 253.8px,#ff9000 269.3px,#ffcb00 279.8px,#fdff02 291.3px,#78ff87 315.3px,#00fdff 332.8px,#00afff 344.3px,#004bff 353.8px,#001eff 361.3px,#0000fe 367.8px,#0000eb 372.8px)"></i>
<i style="left:397px;width:1px;background:linear-gradient(#0000ec 0.0px,#0002ff 5.5px,#0044ff 18.0px,#007eff 24.0px,#00b7ff 29.5px,#02fffd 40.5px,#8bff74 60.5px,#fffe00 82.0px,#ffa600 100.0px,#ff5700 114.0px,#ff0800 131.5px,#fb0000 135.5px,#db0000 152.5px,#c40000 178.0px,#c40000 195.3px,#db0000 220.3px,#fb0000 237.3px,#ff0800 241.3px,#ff5c00 259.8px,#ffcb00 279.8px,#fdff02 291.3px,#75ff8a 315.8px,#00fdff 332.8px,#00afff 344.3px,#004cff 353.8px,#0022ff 360.8px,#0000fd 368.3px,#0000ec 372.8px)"></i>
<i style="left:398px;width:1px;background:linear-gradient(#0000ec 0.0px,#0002ff 5.5px,#0041ff 17.5px,#0074ff 23.0px,#00b4ff 29.0px,#02fffd 40.5px,#87ff78 60.0px,#fffe00 82.0px,#ffa600 100.0px,#ff5500 114.5px,#ff0800 131.5px,#fa0000 136.0px,#db0000 153.5px,#c50000 181.5px,#ca0000 201.3px,#e50000 226.3px,#ff0200 239.3px,#ff2f00 250.3px,#ff8b00 268.3px,#ffcb00 279.8px,#fdff02 291.3px,#6fff90 316.8px,#00fdff 332.8px,#00afff 344.3px,#004cff 353.8px,#0022ff 360.8px,#0000fd 368.3px,#0000ec 372.8px)"></i>
<i style="left:399px;width:1px;background:linear-gradient(#0000ec 0.0px,#0002ff 5.5px,#003dff 17.0px,#006eff 22.5px,#00b4ff 29.0px,#02fffd 40.5px,#87ff78 60.0px,#fffe00 82.0px,#ffa600 100.0px,#ff5500 114.5px,#ff0900 131.5px,#fb0000 136.0px,#dc0000 153.5px,#c60000 183.0px,#d00000 207.3px,#ed0000 230.3px,#ff0300 239.3px,#ff2f00 250.3px,#ff8b00 268.3px,#ffcb00 279.8px,#fdff02 291.3px,#6fff90 316.8px,#00fdff 332.8px,#00b0ff 344.3px,#004cff 353.8px,#0020ff 360.8px,#0000fd 368.3px,#0000ec 372.8px)"></i>
<i style="left:400px;width:1px;background:linear-gradient(#0000eb 0.0px,#0002ff 5.5px,#0036ff 16.0px,#0063ff 21.5px,#00b5ff 29.0px,#02fffd 40.5px,#87ff78 60.0px,#fffe00 82.0px,#ffa600 100.0px,#ff5600 114.5px,#ff0900 131.5px,#fc0000 136.0px,#dd0000 153.5px,#c60000 184.0px,#d50000 211.3px,#f20000 232.8px,#ff0300 239.3px,#ff2f00 250.3px,#ff8b00 268.3px,#ffcb00 279.8px,#fdff02 291.3px,#6bff94 317.3px,#00fdff 332.8px,#00b0ff 344.3px,#0050ff 353.3px,#0024ff 359.8px,#0000fc 368.3px,#0000eb 372.8px)"></i>
<i style="left:401px;width:1px;background:linear-gradient(#0000ea 0.0px,#0003ff 6.0px,#002fff 15.0px,#005eff 21.0px,#00b5ff 29.0px,#02fffd 40.5px,#84ff7b 59.5px,#fffe00 82.0px,#ffa600 100.0px,#ff5500 114.5px,#ff0900 131.5px,#fc0000 136.0px,#dd0000 154.0px,#c60000 184.0px,#d50000 211.3px,#f20000 232.8px,#ff0300 239.3px,#ff2d00 249.8px,#ff8b00 268.3px,#ffcb00 279.8px,#fdff02 291.3px,#6bff94 317.3px,#00fdff 332.8px,#00b1ff 344.3px,#0054ff 352.8px,#0026ff 359.3px,#0000fc 368.3px,#0000ea 372.8px)"></i>
<i style="left:402px;width:1px;background:linear-gradient(#0000e9 0.0px,#0003ff 6.0px,#002bff 14.5px,#0062ff 21.5px,#00b6ff 29.0px,#01fffe 40.5px,#84ff7b 59.5px,#fffe00 82.0px,#ffa600 100.0px,#ff5500 114.5px,#ff0900 131.5px,#fb0000 136.0px,#dc0000 154.5px,#c60000 183.5px,#d20000 209.3px,#f10000 232.3px,#ff0300 239.3px,#ff2c00 249.8px,#ff8b00 268.3px,#ffcb00 279.8px,#fdff02 291.3px,#68ff97 317.8px,#00fdff 332.8px,#00b6ff 343.8px,#0059ff 352.3px,#0025ff 359.3px,#0000fe 367.8px,#0000e9 372.8px)"></i>
<i style="left:403px;width:1px;background:linear-gradient(#0000e9 0.0px,#0003ff 6.0px,#0026ff 14.0px,#0062ff 21.5px,#00b6ff 29.0px,#01fffe 40.5px,#84ff7b 59.5px,#fffe00 82.0px,#ffa600 100.0px,#ff5500 114.5px,#ff0800 131.5px,#fc0000 135.5px,#db0000 154.5px,#c50000 181.5px,#cb0000 202.3px,#e70000 226.8px,#ff0300 239.8px,#ff3100 250.8px,#ff8b00 268.3px,#ffcb00 279.8px,#fdff02 291.3px,#68ff97 317.8px,#00fdff 332.8px,#00b6ff 343.8px,#005dff 351.8px,#0023ff 359.3px,#0000fd 367.8px,#0000e9 372.8px)"></i>
<i style="left:404px;width:1px;background:linear-gradient(#0000e8 0.0px,#0002ff 6.0px,#0022ff 13.5px,#0061ff 21.5px,#0095ff 26.0px,#00bbff 29.5px,#01fffe 40.5px,#81ff7e 59.0px,#fffe00 82.0px,#ffa600 100.0px,#ff5700 114.0px,#ff0900 131.0px,#fb0000 135.5px,#d80000 155.5px,#c40000 181.5px,#ca0000 202.8px,#e60000 226.8px,#ff0300 239.8px,#ff3000 250.8px,#ff8a00 268.3px,#ffcb00 279.8px,#fdff02 291.3px,#68ff97 317.8px,#00fdff 332.8px,#00b6ff 343.8px,#0081ff 348.3px,#004bff 353.8px,#001aff 360.8px,#0000fd 367.8px,#0000e8 372.8px)"></i>
<i style="left:405px;width:1px;background:linear-gradient(#0000e7 0.0px,#0002ff 6.0px,#0021ff 13.5px,#006aff 22.5px,#00b7ff 29.0px,#01fffe 40.5px,#81ff7e 59.0px,#fffe00 82.0px,#ffa900 99.5px,#ff5700 114.0px,#ff0800 131.0px,#fc0000 135.0px,#d80000 155.0px,#c40000 179.0px,#c60000 198.3px,#dc0000 220.8px,#ff0200 239.8px,#ff3000 250.8px,#ff8a00 268.3px,#ffcb00 279.8px,#fdff02 291.3px,#65ff9a 318.3px,#00fdff 332.8px,#00b7ff 343.8px,#0087ff 347.8px,#0058ff 352.3px,#001bff 360.3px,#0000fd 367.8px,#0000e7 372.8px)"></i>
<i style="left:406px;width:1px;background:linear-gradient(#0000e6 0.0px,#0001ff 6.0px,#001fff 13.5px,#006fff 23.0px,#00b7ff 29.0px,#01fffe 40.5px,#81ff7e 59.0px,#fffe00 82.0px,#ffa900 99.5px,#ff5600 114.0px,#ff0800 131.0px,#fb0000 135.0px,#d50000 156.5px,#c20000 180.0px,#c70000 200.8px,#de0000 222.3px,#ff0300 240.3px,#ff3400 251.8px,#ff8a00 268.3px,#ffc900 279.3px,#fdff02 291.3px,#65ff9a 318.3px,#00fdff 332.8px,#00b7ff 343.8px,#008eff 347.3px,#0060ff 351.3px,#001cff 359.8px,#0000fc 367.8px,#0000e6 372.8px)"></i>
<i style="left:407px;width:1px;background:linear-gradient(#0000e5 0.0px,#0003ff 6.5px,#001bff 13.0px,#006eff 23.0px,#00b3ff 28.5px,#00dbff 34.5px,#01fffe 40.5px,#81ff7e 59.0px,#fffe00 82.0px,#ffa900 99.5px,#ff5600 114.0px,#ff0700 131.0px,#fa0000 135.0px,#d30000 157.5px,#c10000 180.5px,#c60000 202.8px,#e00000 224.3px,#ff0200 240.3px,#ff3400 251.8px,#ff8a00 268.3px,#ffc900 279.3px,#fdff02 291.3px,#65ff9a 318.3px,#00fdff 332.8px,#00b8ff 343.8px,#008eff 347.3px,#0060ff 351.3px,#0018ff 360.3px,#0000fc 367.8px,#0000e5 372.8px)"></i>
<i style="left:408px;width:1px;background:linear-gradient(#0000e4 0.0px,#0002ff 6.5px,#001aff 13.0px,#0073ff 23.5px,#00b4ff 28.5px,#00dcff 34.5px,#01fffe 40.5px,#7eff81 58.5px,#daff25 75.0px,#fffe00 82.0px,#ffa900 99.5px,#ff5500 114.0px,#ff0600 131.0px,#fb0000 134.5px,#d20000 157.5px,#c00000 179.0px,#c40000 200.8px,#d90000 220.3px,#fd0000 239.3px,#ff1d00 247.3px,#ff8700 267.8px,#ffc900 279.3px,#fdff02 291.3px,#65ff9a 318.3px,#00fdff 332.8px,#00b8ff 343.8px,#008dff 347.3px,#0064ff 350.8px,#0017ff 360.3px,#0000fe 367.3px,#0000e4 372.8px)"></i>
<i style="left:409px;width:1px;background:linear-gradient(#0000e3 0.0px,#0002ff 6.5px,#0018ff 13.0px,#0072ff 23.5px,#00b4ff 28.5px,#00d9ff 34.0px,#01fffe 40.5px,#7eff81 58.5px,#d1ff2e 73.5px,#fffe00 82.0px,#ffa900 99.5px,#ff5800 113.5px,#ff0600 131.0px,#f90000 135.0px,#cc0000 160.5px,#be0000 185.0px,#ca0000 210.3px,#f60000 236.8px,#ff0400 241.3px,#ff4e00 257.3px,#ff9900 270.8px,#ffcf00 280.8px,#fdff02 291.3px,#65ff9a 318.3px,#00fdff 332.8px,#00b9ff 343.8px,#0094ff 346.8px,#0068ff 350.3px,#0015ff 360.3px,#0000fd 367.3px,#0000e3 372.8px)"></i>
<i style="left:410px;width:1px;background:linear-gradient(#0000e3 0.0px,#0001ff 6.5px,#0017ff 13.0px,#0072ff 23.5px,#00b4ff 28.5px,#00d9ff 34.0px,#01fffe 40.5px,#7eff81 58.5px,#cbff34 72.5px,#fffe00 82.0px,#ffa900 99.5px,#ff5700 113.5px,#ff0500 131.0px,#f90000 134.5px,#cb0000 160.5px,#bd0000 184.5px,#c80000 209.8px,#f70000 237.3px,#ff0300 241.3px,#ff4d00 257.3px,#ff9900 270.8px,#ffcf00 280.8px,#fdff02 291.3px,#8bff74 311.8px,#56ffa9 320.3px,#00fdff 332.8px,#00b9ff 343.8px,#0094ff 346.8px,#0068ff 350.3px,#0014ff 360.3px,#0000fd 367.3px,#0000e3 372.8px)"></i>
<i style="left:411px;width:1px;background:linear-gradient(#0000e2 0.0px,#0001ff 6.5px,#0016ff 13.0px,#0072ff 23.5px,#00b5ff 28.5px,#00daff 34.0px,#01fffe 40.5px,#7eff81 58.5px,#c7ff38 72.0px,#fffe00 82.0px,#ffa900 99.5px,#ff5700 113.5px,#ff0400 131.0px,#f50000 136.0px,#c50000 164.5px,#bc0000 190.3px,#ca0000 212.3px,#f90000 238.3px,#ff0400 241.8px,#ff5f00 260.8px,#ffc900 279.3px,#fdff02 291.3px,#8dff72 311.3px,#5affa5 319.8px,#00fdff 332.8px,#00b9ff 343.8px,#0094ff 346.8px,#0067ff 350.3px,#0014ff 360.3px,#0000fc 367.3px,#0000e2 372.8px)"></i>
<i style="left:412px;width:1px;background:linear-gradient(#0000e1 0.0px,#0000ff 6.5px,#0016ff 13.0px,#0072ff 23.5px,#00b5ff 28.5px,#00daff 34.0px,#01fffe 40.5px,#7dff82 58.5px,#c7ff38 72.0px,#fffe00 82.0px,#ffa900 99.5px,#ff5700 113.5px,#ff0400 131.0px,#ec0000 140.0px,#c20000 166.0px,#bb0000 191.8px,#c90000 212.3px,#f90000 238.8px,#ff0500 242.3px,#ff6e00 263.8px,#ffc600 278.8px,#fdff02 291.3px,#8dff72 311.3px,#5affa5 319.8px,#00fdff 332.8px,#00baff 343.8px,#0094ff 346.8px,#006cff 349.8px,#0013ff 360.3px,#0000fc 367.3px,#0000e1 372.8px)"></i>
<i style="left:413px;width:1px;background:linear-gradient(#0000e0 0.0px,#0001ff 7.0px,#0016ff 13.0px,#0072ff 23.5px,#00b5ff 28.5px,#00daff 34.0px,#01fffe 40.5px,#7dff82 58.5px,#c7ff38 72.0px,#fffe00 82.0px,#ffa900 99.5px,#ff5600 113.5px,#ff0300 131.0px,#c80000 160.0px,#bb0000 179.0px,#c00000 205.3px,#de0000 225.3px,#ff0300 241.8px,#ff5b00 260.3px,#ffc900 279.3px,#fdff02 291.3px,#8aff75 311.8px,#56ffa9 320.3px,#00fdff 332.8px,#00baff 343.8px,#0094ff 346.8px,#0067ff 350.3px,#0013ff 360.3px,#0000fd 366.8px,#0000e0 372.8px)"></i>
<i style="left:414px;width:1px;background:linear-gradient(#0000df 0.0px,#0001ff 7.0px,#0016ff 13.0px,#0071ff 23.5px,#00b5ff 28.5px,#00d9ff 34.0px,#01fffe 40.5px,#7cff83 58.5px,#cdff32 73.0px,#ffff00 82.0px,#ffa800 99.5px,#ff5600 113.5px,#ff0200 131.0px,#ca0000 158.0px,#bc0000 173.0px,#bc0000 198.8px,#c90000 214.3px,#fb0000 239.8px,#ff0800 243.3px,#ff7900 265.8px,#ffc600 278.8px,#fdff02 291.3px,#84ff7b 312.8px,#43ffbc 322.8px,#00fdff 332.8px,#00b9ff 343.8px,#0094ff 346.8px,#0067ff 350.3px,#0013ff 360.3px,#0000fc 366.8px,#0000df 372.8px)"></i>
<i style="left:415px;width:1px;background:linear-gradient(#0000de 0.0px,#0000ff 7.0px,#0016ff 13.0px,#0071ff 23.5px,#00b4ff 28.5px,#00d9ff 34.0px,#01fffe 40.5px,#7eff81 59.0px,#ffff00 82.0px,#ffa800 99.5px,#ff5600 113.5px,#ff0200 131.0px,#cd0000 156.0px,#bc0000 170.5px,#ba0000 197.3px,#c70000 213.3px,#fa0000 239.8px,#ff0600 242.8px,#ff7600 265.3px,#ffc600 278.8px,#fdff02 291.3px,#5cffa3 319.3px,#00fdff 332.8px,#00b9ff 343.8px,#0094ff 346.8px,#0067ff 350.3px,#0013ff 360.3px,#0000fd 366.3px,#0000de 372.8px)"></i>
<i style="left:416px;width:1px;background:linear-gradient(#0000dd 0.0px,#0001ff 7.5px,#0016ff 13.0px,#0071ff 23.5px,#00b4ff 28.5px,#00d9ff 34.0px,#01fffe 40.5px,#7dff82 59.0px,#ffff00 82.0px,#ffa800 99.5px,#ff5500 113.5px,#ff0200 131.0px,#d00000 154.0px,#bc0000 169.0px,#b90000 196.3px,#c60000 212.8px,#fa0000 239.8px,#ff0500 242.8px,#ff7600 265.3px,#ffc600 278.8px,#fcff03 291.3px,#5bffa4 319.3px,#00fdff 332.8px,#00b8ff 343.8px,#0094ff 346.8px,#0067ff 350.3px,#0013ff 360.3px,#0000fd 366.3px,#0000dd 372.8px)"></i>
<i style="left:417px;width:1px;background:linear-gradient(#0000dd 0.0px,#0001ff 7.5px,#0016ff 13.0px,#0071ff 23.5px,#00b3ff 28.5px,#00d9ff 34.0px,#01fffe 40.5px,#7fff80 59.5px,#fffd00 82.5px,#ffa800 99.5px,#ff5500 113.5px,#ff0200 131.0px,#d20000 153.0px,#bd0000 168.5px,#b90000 195.8px,#c50000 212.3px,#fa0000 239.8px,#ff0500 242.8px,#ff7600 265.3px,#ffc600 278.8px,#fcff03 291.3px,#57ffa8 319.8px,#00fdff 332.8px,#00b8ff 343.8px,#0093ff 346.8px,#0067ff 350.3px,#0013ff 360.3px,#0000fc 366.3px,#0000dd 372.8px)"></i>
<i style="left:418px;width:1px;background:linear-gradient(#0000dc 0.0px,#0000ff 7.5px,#0016ff 13.0px,#0071ff 23.5px,#00b3ff 28.5px,#00d9ff 34.0px,#02fffd 40.5px,#81ff7e 60.0px,#fffd00 82.5px,#ffa800 99.5px,#ff5500 113.5px,#ff0200 131.0px,#d20000 153.0px,#bd0000 168.5px,#b90000 195.8px,#c50000 212.3px,#fa0000 239.8px,#ff0500 242.8px,#ff7600 265.3px,#ffc600 278.8px,#fcff03 291.3px,#53ffac 320.3px,#00fdff 332.8px,#00b8ff 343.8px,#0093ff 346.8px,#0067ff 350.3px,#0013ff 360.3px,#0000fe 365.8px,#0000dc 372.8px)"></i>
<i style="left:419px;width:1px;background:linear-gradient(#0000db 0.0px,#0000ff 7.5px,#0016ff 13.0px,#0071ff 23.5px,#00b2ff 28.5px,#00dbff 34.5px,#02fffd 40.5px,#84ff7b 60.5px,#fffd00 82.5px,#ffa800 99.5px,#ff5500 113.5px,#ff0200 131.0px,#d20000 153.0px,#bd0000 168.5px,#b90000 195.8px,#c50000 212.3px,#fa0000 239.8px,#ff0500 242.8px,#ff7600 265.3px,#ffc600 278.8px,#feff01 290.8px,#4fffb0 320.8px,#00fdff 332.8px,#00b7ff 343.8px,#008cff 347.3px,#0062ff 350.8px,#0013ff 360.3px,#0000fd 365.8px,#0000db 372.8px)"></i>
<i style="left:420px;width:1px;background:linear-gradient(#0000da 0.0px,#0001ff 8.0px,#001aff 13.5px,#0071ff 23.5px,#00b2ff 28.5px,#00dbff 34.5px,#02fffd 40.5px,#86ff79 61.0px,#fffd00 82.5px,#ffa800 99.5px,#ff5500 113.5px,#ff0200 131.0px,#d20000 153.0px,#bd0000 168.5px,#b90000 195.8px,#c50000 212.3px,#fa0000 239.8px,#ff0500 242.8px,#ff7600 265.3px,#ffc600 278.8px,#feff01 290.8px,#4bffb4 321.3px,#00fdff 332.8px,#00b7ff 343.8px,#008bff 347.3px,#0062ff 350.8px,#0013ff 360.3px,#0000fc 365.8px,#0000da 372.8px)"></i>
<i style="left:421px;width:1px;background:linear-gradient(#0000d9 0.0px,#0001ff 8.0px,#001aff 13.5px,#0071ff 23.5px,#00b2ff 28.5px,#00dbff 34.5px,#02fffd 40.5px,#8bff74 62.0px,#fffd00 82.5px,#ffa800 99.5px,#ff5500 113.5px,#ff0200 131.0px,#d20000 153.0px,#bd0000 168.5px,#b90000 195.8px,#c50000 212.3px,#fa0000 239.8px,#ff0500 242.8px,#ff7600 265.3px,#ffc600 278.8px,#feff01 290.8px,#45ffba 322.3px,#00fdff 332.8px,#00b6ff 343.8px,#008bff 347.3px,#0062ff 350.8px,#0013ff 360.3px,#0000fe 365.3px,#0000d9 372.8px)"></i>
<i style="left:422px;width:1px;background:linear-gradient(#0000d8 0.0px,#0000ff 8.0px,#001aff 13.5px,#0071ff 23.5px,#00b1ff 28.5px,#00dbff 34.5px,#02fffd 40.5px,#8eff71 62.5px,#fffe00 82.5px,#ffa500 100.0px,#ff5500 113.5px,#ff0200 131.0px,#d20000 153.0px,#bd0000 168.5px,#b90000 195.8px,#c50000 212.3px,#fa0000 239.8px,#ff0500 242.8px,#ff7600 265.3px,#ffc600 278.8px,#fdff02 290.8px,#47ffb8 321.8px,#00fdff 332.8px,#00b6ff 343.8px,#008bff 347.3px,#0062ff 350.8px,#0013ff 360.3px,#0000fd 365.3px,#0000d8 372.8px)"></i>
<i style="left:423px;width:1px;background:linear-gradient(#0000d7 0.0px,#0000ff 8.0px,#001aff 13.5px,#0071ff 23.5px,#00b1ff 28.5px,#00dbff 34.5px,#02fffd 40.5px,#93ff6c 63.5px,#fffe00 82.5px,#ffa500 100.0px,#ff5500 113.5px,#ff0200 131.0px,#d20000 153.0px,#bd0000 168.5px,#b90000 195.8px,#c50000 212.3px,#fa0000 239.8px,#ff0500 242.8px,#ff7600 265.3px,#ffc600 278.8px,#fdff02 290.8px,#53ffac 319.8px,#00fdff 332.8px,#00b6ff 343.8px,#008bff 347.3px,#005dff 351.3px,#0013ff 360.3px,#0000fd 365.3px,#0000d7 372.8px)"></i>
<i style="left:424px;width:1px;background:linear-gradient(#0000d7 0.0px,#0001ff 8.5px,#001aff 13.5px,#0071ff 23.5px,#00b5ff 29.0px,#00fdff 40.0px,#bfff40 71.0px,#fffe00 82.5px,#ffa500 100.0px,#ff5500 113.5px,#ff0200 131.0px,#d20000 153.0px,#bd0000 168.5px,#b90000 195.8px,#c50000 212.3px,#fa0000 239.8px,#ff0500 242.8px,#ff7600 265.3px,#ffc600 278.8px,#fdff02 290.8px,#6eff91 315.3px,#00fdff 332.8px,#00b5ff 343.8px,#0084ff 347.8px,#0059ff 351.8px,#0010ff 360.8px,#0000fc 365.3px,#0000d7 372.8px)"></i>
<i style="left:425px;width:1px;background:linear-gradient(#0000d6 0.0px,#0001ff 8.5px,#001dff 14.0px,#0071ff 23.5px,#00b5ff 29.0px,#00fdff 40.0px,#c2ff3d 71.5px,#fffe00 82.5px,#ffa500 100.0px,#ff5500 113.5px,#ff0200 131.0px,#d20000 153.0px,#bd0000 168.5px,#b90000 195.8px,#c50000 212.3px,#fa0000 239.8px,#ff0500 242.8px,#ff7600 265.3px,#ffc600 278.8px,#fdff02 290.8px,#7cff83 312.8px,#05fffa 331.8px,#00f7ff 333.8px,#00b5ff 343.8px,#0084ff 347.8px,#0054ff 352.3px,#0010ff 360.8px,#0000fc 365.3px,#0000d6 372.8px)"></i>
<i style="left:426px;width:1px;background:linear-gradient(#0000d5 0.0px,#0000ff 8.5px,#001dff 14.0px,#0071ff 23.5px,#00b4ff 29.0px,#00fdff 40.0px,#c4ff3b 72.0px,#ffff00 82.5px,#ffa500 100.0px,#ff5500 113.5px,#ff0200 131.0px,#d20000 153.0px,#bd0000 168.5px,#b90000 195.8px,#c50000 212.3px,#fa0000 239.8px,#ff0500 242.8px,#ff7600 265.3px,#ffc600 278.8px,#fdff02 290.8px,#85ff7a 311.3px,#05fffa 331.8px,#00f7ff 333.8px,#00b4ff 343.8px,#0062ff 350.8px,#0013ff 360.3px,#0000fd 364.8px,#0000d5 372.8px)"></i>
<i style="left:427px;width:1px;background:linear-gradient(#0000d4 0.0px,#0000ff 8.5px,#001dff 14.0px,#0071ff 23.5px,#00b4ff 29.0px,#00feff 40.0px,#c4ff3b 72.0px,#fffc00 83.0px,#ffa500 100.0px,#ff5500 113.5px,#ff0200 131.0px,#d20000 153.0px,#bd0000 168.5px,#b90000 195.8px,#c50000 212.3px,#fa0000 239.8px,#ff0500 242.8px,#ff7600 265.3px,#ffc600 278.8px,#fcff03 290.8px,#88ff77 310.8px,#05fffa 331.8px,#00f7ff 333.8px,#00b4ff 343.8px,#0062ff 350.8px,#0013ff 360.3px,#0000fd 364.8px,#0000d4 372.8px)"></i>
<i style="left:428px;width:1px;background:linear-gradient(#0000d3 0.0px,#0000ff 8.5px,#001dff 14.0px,#0071ff 23.5px,#00b3ff 29.0px,#00feff 40.0px,#56ffa9 54.0px,#c1ff3e 71.5px,#fffc00 83.0px,#ffa500 100.0px,#ff5500 113.5px,#ff0200 131.0px,#d20000 153.0px,#bd0000 168.5px,#b90000 195.8px,#c50000 212.3px,#fa0000 239.8px,#ff0500 242.8px,#ff7600 265.3px,#ffc600 278.8px,#fffc00 289.8px,#92ff6d 309.3px,#42ffbd 322.3px,#00feff 332.8px,#00b3ff 343.8px,#0062ff 350.8px,#0013ff 360.3px,#0000fd 364.8px,#0000d3 372.8px)"></i>
<i style="left:429px;width:1px;background:linear-gradient(#0000d2 0.0px,#0001ff 9.0px,#0021ff 14.5px,#0071ff 23.5px,#00b3ff 29.0px,#00feff 40.0px,#4fffb0 53.0px,#c1ff3e 71.5px,#fffc00 83.0px,#ffa500 100.0px,#ff5500 113.5px,#ff0200 131.0px,#d20000 153.0px,#bd0000 168.5px,#b90000 195.8px,#c50000 212.3px,#fa0000 239.8px,#ff0500 242.8px,#ff7600 265.3px,#ffc600 278.8px,#fffc00 289.8px,#95ff6a 308.8px,#4dffb2 320.3px,#09fff6 331.3px,#00faff 333.3px,#00b3ff 343.8px,#005dff 351.3px,#0013ff 360.3px,#0000fc 364.8px,#0000d2 372.8px)"></i>
<i style="left:430px;width:1px;background:linear-gradient(#0000d1 0.0px,#0001ff 9.0px,#0021ff 14.5px,#0071ff 23.5px,#00b3ff 29.0px,#00feff 40.0px,#4affb5 52.0px,#87ff78 62.0px,#c1ff3e 71.5px,#fffc00 83.0px,#ffc600 94.0px,#ff7c00 106.5px,#ff0900 129.0px,#fc0000 132.5px,#ca0000 157.5px,#bb0000 171.5px,#ba0000 198.3px,#c60000 213.3px,#fa0000 239.8px,#ff0500 242.8px,#ff7600 265.3px,#ffc600 278.8px,#fffc00 289.8px,#95ff6a 308.8px,#51ffae 319.3px,#10ffef 330.3px,#00feff 332.8px,#00b3ff 343.8px,#005dff 351.3px,#0013ff 360.3px,#0000fe 364.3px,#0000d1 372.8px)"></i>
<i style="left:431px;width:1px;background:linear-gradient(#0000d1 0.0px,#0001ff 9.0px,#0025ff 15.0px,#0071ff 23.5px,#00b2ff 29.0px,#00feff 40.0px,#46ffb9 51.5px,#7fff80 61.0px,#bbff44 70.5px,#fffd00 83.0px,#ffcb00 93.0px,#ff9500 102.5px,#ff4900 116.0px,#ff0200 131.0px,#d20000 153.0px,#bd0000 168.5px,#b90000 195.8px,#c50000 212.3px,#fa0000 239.8px,#ff0500 242.8px,#ff7600 265.3px,#ffc400 278.3px,#fffa00 289.3px,#f8ff07 291.3px,#95ff6a 308.8px,#53ffac 318.8px,#14ffeb 329.8px,#00feff 332.8px,#00b2ff 343.8px,#005dff 351.3px,#0013ff 360.3px,#0000fe 364.3px,#0000d1 372.8px)"></i>
<i style="left:432px;width:1px;background:linear-gradient(#0000d0 0.0px,#0000ff 9.0px,#0025ff 15.0px,#0071ff 23.5px,#00b2ff 29.0px,#00feff 40.0px,#43ffbc 51.0px,#77ff88 60.0px,#b6ff49 69.5px,#fffd00 83.0px,#ffcb00 93.0px,#ff9500 102.5px,#ff4900 116.0px,#ff0200 131.0px,#d20000 153.0px,#bd0000 168.5px,#b90000 195.8px,#c50000 212.3px,#fa0000 239.8px,#ff0500 242.8px,#ff7600 265.3px,#ffc400 278.3px,#fffa00 289.3px,#f8ff07 291.3px,#94ff6b 308.8px,#55ffaa 318.3px,#17ffe8 329.3px,#00feff 332.8px,#00b2ff 343.8px,#005dff 351.3px,#0013ff 360.3px,#0000fd 364.3px,#0000d0 372.8px)"></i>
<i style="left:433px;width:1px;background:linear-gradient(#0000cf 0.0px,#0000ff 9.0px,#0025ff 15.0px,#0071ff 23.5px,#00b1ff 29.0px,#00feff 40.0px,#43ffbc 51.0px,#77ff88 60.0px,#b3ff4c 69.0px,#f8ff07 81.5px,#fffa00 83.5px,#ffc400 94.5px,#ff4e00 115.0px,#ff0200 131.0px,#d20000 153.0px,#bd0000 168.5px,#b90000 195.8px,#c50000 212.3px,#fa0000 239.8px,#ff0500 242.8px,#ff7600 265.3px,#ffc400 278.3px,#fffa00 289.3px,#f8ff07 291.3px,#98ff67 308.3px,#57ffa8 317.8px,#1bffe4 328.8px,#00feff 332.8px,#00b1ff 343.8px,#005dff 351.3px,#0013ff 360.3px,#0000fd 364.3px,#0000cf 372.8px)"></i>
<i style="left:434px;width:1px;background:linear-gradient(#0000ce 0.0px,#0000ff 9.0px,#0025ff 15.0px,#0071ff 23.5px,#00b1ff 29.0px,#00feff 40.0px,#40ffbf 50.5px,#73ff8c 59.5px,#b3ff4c 69.0px,#f7ff08 81.5px,#fffa00 83.5px,#ffc600 94.0px,#ff7f00 106.0px,#ff0d00 128.0px,#fc0000 132.5px,#ca0000 157.5px,#bb0000 171.5px,#ba0000 198.3px,#c60000 213.3px,#fa0000 239.8px,#ff0500 242.8px,#ff7600 265.3px,#ffc400 278.3px,#fff700 288.8px,#fbff04 290.8px,#bbff44 302.3px,#89ff76 310.3px,#54ffab 318.3px,#1bffe4 328.8px,#00feff 332.8px,#00b1ff 343.8px,#0058ff 351.8px,#0010ff 360.8px,#0000fd 364.3px,#0000ce 372.8px)"></i>
<svg width="435" height="373" style="position:absolute;left:0;top:0">
<g stroke="#fff" stroke-opacity="0.78" stroke-width="1.1">
<line x1="16.55" y1="0" x2="16.55" y2="373"/>
<line x1="83.35" y1="0" x2="83.35" y2="373"/>
<line x1="139.55" y1="0" x2="139.55" y2="373"/>
<line x1="202.15" y1="0" x2="202.15" y2="373"/>
<line x1="266.45" y1="0" x2="266.45" y2="373"/>
<line x1="334.95" y1="0" x2="334.95" y2="373"/>
<line x1="403.35" y1="0" x2="403.35" y2="373"/>
</g>
<g stroke="#fff" stroke-opacity="0.78" stroke-width="1.1" stroke-dasharray="5.3 3.05">
<line x1="53.55" y1="0" x2="53.55" y2="373"/>
<line x1="117.35" y1="0" x2="117.35" y2="373"/>
<line x1="181.45" y1="0" x2="181.45" y2="373"/>
<line x1="244.15" y1="0" x2="244.15" y2="373"/>
<line x1="309.85" y1="0" x2="309.85" y2="373"/>
<line x1="382.05" y1="0" x2="382.05" y2="373"/>
</g>
</svg>
</div>
<div id="cb"></div>
<div class="bl" style="left:39.4px;top:2px;width:434.6px;height:1px"></div>
<div class="bl" style="left:39.4px;top:374px;width:434.6px;height:1px"></div>
<div class="bl" style="left:473px;top:2px;width:1px;height:372.8px"></div>
<div class="tk" style="top:47.5px"></div>
<div class="tk" style="top:108.3px"></div>
<div class="tk" style="top:169px"></div>
<div class="tk" style="top:229.8px"></div>
<div class="tk" style="top:290.5px"></div>
<div class="tk" style="top:351.3px"></div>
<div class="t yl" style="top:1px">40</div>
<div class="t yl" style="top:46.5px">30</div>
<div class="t yl" style="top:92px">20</div>
<div class="t yl" style="top:137.6px">10</div>
<div class="t yl" style="top:183.2px">0</div>
<div class="t yl" style="top:228.7px">-10</div>
<div class="t yl" style="top:274.2px">-20</div>
<div class="t yl" style="top:319.8px">-30</div>
<div class="t yl" style="top:365.3px">-40</div>
<div class="t xl" style="left:41px;top:380px">1920</div>
<div class="t xl" style="left:103px;top:380px">1930</div>
<div class="t xl" style="left:165px;top:380px">1940</div>
<div class="t xl" style="left:227px;top:380px">1950</div>
<div class="t xl" style="left:289px;top:380px">1960</div>
<div class="t xl" style="left:351px;top:380px">1970</div>
<div class="t xl" style="left:413px;top:380px">1980</div>
<div class="t" style="left:213px;top:395px;font-size:13px;line-height:13px">Calendar Year</div>
<div class="t" style="left:-49.6px;top:180.5px;width:110px;text-align:center;font-size:13px;line-height:13px;transform:rotate(-90deg);transform-origin:50% 50%;will-change:auto">Latitude (degree)</div>
<div class="t cl" style="top:42px">13.4</div>
<div class="t cl" style="top:102.6px">13.2</div>
<div class="t cl" style="top:163.4px">13</div>
<div class="t cl" style="top:224.2px">12.8</div>
<div class="t cl" style="top:284.9px">12.6</div>
<div class="t cl" style="top:345.7px">12.4</div>
</body></html>
